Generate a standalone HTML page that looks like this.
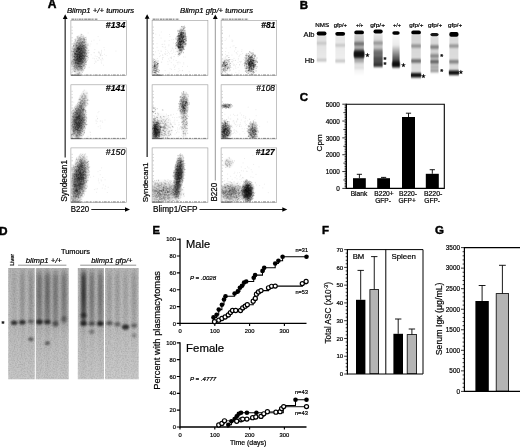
<!DOCTYPE html>
<html><head><meta charset="utf-8"><title>Figure</title>
<style>html,body{margin:0;padding:0;background:#fff}svg{display:block}text{font-family:'Liberation Sans', sans-serif;stroke:#000;stroke-width:0.2px}</style>
</head><body>
<svg width="520" height="448" viewBox="0 0 520 448">
<defs>
<filter id="b1" x="-20%" y="-20%" width="140%" height="140%"><feGaussianBlur stdDeviation="0.7"/></filter>
<filter id="b2" x="-30%" y="-30%" width="160%" height="160%"><feGaussianBlur stdDeviation="1.2"/></filter>
<filter id="b3" x="-30%" y="-30%" width="160%" height="160%"><feGaussianBlur stdDeviation="2"/></filter>
<filter id="b03" x="-5%" y="-5%" width="110%" height="110%"><feGaussianBlur stdDeviation="0.4"/></filter>
<filter id="b07" x="-20%" y="-40%" width="140%" height="180%"><feGaussianBlur stdDeviation="0.65"/></filter>
<filter id="b09" x="-30%" y="-20%" width="160%" height="140%"><feGaussianBlur stdDeviation="0.9"/></filter>
<filter id="b0709" x="-30%" y="-20%" width="160%" height="140%"><feGaussianBlur stdDeviation="0.6 1.0"/></filter>
<filter id="noise" x="0" y="0" width="100%" height="100%"><feTurbulence type="fractalNoise" baseFrequency="0.7" numOctaves="2" seed="3" result="t"/><feColorMatrix type="matrix" values="0 0 0 0 0  0 0 0 0 0  0 0 0 0 0  0.8 0 0 0 -0.3"/></filter>
<filter id="b05" x="-20%" y="-20%" width="140%" height="140%"><feGaussianBlur stdDeviation="0.45"/></filter>
<radialGradient id="gg"><stop offset="0" stop-color="#000" stop-opacity="1"/><stop offset="0.35" stop-color="#000" stop-opacity="0.95"/><stop offset="0.55" stop-color="#000" stop-opacity="0.75"/><stop offset="0.7" stop-color="#000" stop-opacity="0.45"/><stop offset="0.85" stop-color="#000" stop-opacity="0.17"/><stop offset="1" stop-color="#000" stop-opacity="0"/></radialGradient>
</defs>
<rect width="520" height="448" fill="#fff"/>
<text x="47.7" y="8.3" font-size="12" text-anchor="start" fill="#000" font-weight="bold" style="stroke-width:0.45px">A</text>
<text x="66.9" y="13.4" font-size="7.7" text-anchor="start" fill="#000" font-style="italic" textLength="67.3" lengthAdjust="spacingAndGlyphs" >Blimp1 +/+ tumours</text>
<text x="180" y="13.4" font-size="7.7" text-anchor="start" fill="#000" font-style="italic" textLength="73" lengthAdjust="spacingAndGlyphs" >Blimp1 gfp/+ tumours</text>
<rect x="70.9" y="20.6" width="55.599999999999994" height="54.9" fill="#fff" stroke="#9a9a9a" stroke-width="0.6"/>
<clipPath id="cp70_20"><rect x="71.30000000000001" y="21.0" width="54.8" height="54.1"/></clipPath>
<g clip-path="url(#cp70_20)">
<ellipse cx="79.6" cy="55" rx="9.2" ry="21.5" transform="rotate(6 79.6 55)" fill="url(#gg)" opacity="0.46"/>
</g>
<path transform="translate(70.9 20.6)" d="M29.5 39.1h0M33.5 33.7h0M24.3 35.5h0M30.2 33.0h0M32.6 44.6h0M23.6 38.2h0M33.1 27.0h0M29.9 35.3h0M23.6 42.8h0M29.9 34.1h0M30.8 39.5h0M32.1 39.2h0M30.7 30.7h0M27.5 37.0h0M18.3 46.8h0M27.6 31.3h0M22.0 37.6h0M29.2 33.6h0M27.5 32.1h0M26.2 35.9h0M26.6 39.7h0M28.5 37.0h0M30.7 42.6h0M31.4 37.5h0M28.5 32.5h0M27.8 39.7h0M30.0 34.5h0M23.9 28.9h0M30.4 41.4h0M30.6 29.7h0M28.3 37.5h0M25.5 38.1h0M28.3 32.3h0M24.3 40.4h0M30.5 32.1h0M25.1 40.7h0M31.4 34.9h0M35.3 35.0h0M25.0 41.7h0M28.4 38.1h0M15.5 19.6h0M3.5 27.5h0M28.8 19.6h0M28.3 31.5h0M4.3 32.0h0M20.6 20.6h0M4.3 33.7h0M7.2 15.0h0M12.8 31.1h0M9.7 17.9h0M17.2 12.4h0M20.3 34.2h0M31.4 38.0h0M18.6 32.0h0M15.4 16.5h0M29.3 34.5h0M12.3 18.3h0M29.5 34.6h0M3.6 35.9h0M33.5 29.2h0M19.0 25.4h0M9.0 39.8h0M45.0 30.5h0M13.9 37.1h0M12.1 36.5h0M23.1 19.5h0M4.7 28.7h0M23.2 32.1h0M27.2 16.0h0M19.9 23.4h0M16.1 32.5h0M5.7 27.2h0M3.8 32.0h0M6.8 24.6h0M17.2 23.1h0M26.2 23.2h0M23.3 32.1h0M5.1 27.3h0" stroke="#000" stroke-opacity="0.1" stroke-width="0.75" stroke-linecap="square" fill="none" filter="url(#b03)"/>
<path transform="translate(70.9 20.6)" d="M7.3 38.7h0M8.2 31.6h0M5.5 32.2h0M12.4 38.5h0M12.3 36.9h0M10.0 36.1h0M1.8 41.1h0M10.1 38.9h0M4.0 18.8h0M5.8 30.1h0M9.9 34.1h0M11.2 29.1h0M9.5 37.9h0M4.7 48.8h0M9.7 44.9h0M7.1 27.8h0M7.5 33.4h0M10.8 36.8h0M7.9 26.0h0M5.7 44.6h0M5.5 36.2h0M11.6 21.8h0M7.7 45.6h0M1.6 30.9h0M9.0 27.4h0M10.6 34.1h0M2.6 40.9h0M10.3 42.7h0M13.7 38.1h0M10.3 23.3h0M11.5 29.4h0M8.2 23.4h0M5.6 29.5h0M15.3 17.5h0M3.1 35.9h0M13.5 39.9h0M10.7 28.2h0M3.7 42.3h0M12.6 36.2h0M9.2 38.2h0M14.0 40.3h0M10.1 39.3h0M1.8 44.8h0M11.7 39.3h0M2.0 28.2h0M13.4 19.2h0M7.1 43.0h0M2.4 47.7h0M10.9 33.3h0M9.3 40.1h0M8.1 44.2h0M6.6 30.6h0M12.5 35.0h0M4.6 42.2h0M14.5 31.2h0M3.7 32.7h0M8.4 31.8h0M14.8 26.2h0M14.5 24.0h0M5.2 39.5h0M12.1 42.2h0M9.8 35.8h0M8.7 39.4h0M7.8 36.7h0M10.8 34.6h0M11.0 39.5h0M15.8 38.0h0M7.5 31.0h0M7.8 42.3h0M7.1 37.6h0M4.3 36.1h0M10.0 36.6h0M6.5 39.8h0M10.2 30.0h0M17.3 38.4h0M6.7 33.3h0M7.9 33.8h0M13.5 24.8h0M7.6 42.5h0M10.5 47.5h0M2.8 30.7h0M6.9 39.6h0M14.0 22.4h0M12.6 21.9h0M8.3 44.7h0M8.0 36.0h0M11.5 35.9h0M7.0 47.5h0M12.8 32.3h0M12.3 32.5h0M8.6 40.5h0M8.9 39.9h0M4.4 20.9h0M11.8 26.4h0M6.2 21.4h0M12.7 41.3h0M15.0 26.9h0M9.7 24.6h0M10.1 48.3h0M4.0 47.4h0M12.5 33.3h0M8.9 29.2h0M9.8 38.1h0M15.1 26.3h0M11.5 47.6h0M14.2 33.4h0M5.0 42.8h0M9.0 35.5h0M14.2 32.7h0M0.6 30.2h0M1.1 40.7h0M10.4 29.3h0M7.9 41.5h0M7.8 45.8h0M7.5 43.3h0M12.7 48.7h0M5.4 41.7h0M2.8 24.4h0M0.5 42.8h0M4.2 33.8h0M8.0 34.1h0M6.3 36.2h0M15.3 35.5h0M9.8 43.2h0M9.1 23.5h0M5.7 43.4h0M3.2 28.7h0M11.7 41.6h0M8.0 41.3h0M10.4 24.4h0M3.5 28.3h0M12.6 29.9h0M6.1 27.5h0M3.2 32.8h0M4.0 37.1h0M8.1 17.5h0M11.6 32.3h0M1.3 26.1h0M10.2 30.6h0M10.9 41.1h0M10.9 37.5h0M13.0 40.6h0M12.2 16.8h0M10.8 45.9h0M8.0 30.3h0M4.7 39.9h0M15.7 34.1h0M10.0 42.3h0M5.4 33.3h0M9.0 41.6h0M8.7 32.7h0M5.3 30.9h0M11.9 35.6h0M6.3 26.9h0M10.6 38.8h0M14.5 38.7h0M8.0 38.8h0M0.6 42.5h0M10.5 28.5h0M12.0 50.4h0M4.1 28.2h0M9.6 36.1h0M8.1 25.9h0M15.6 44.1h0M5.5 22.4h0M14.1 43.5h0M14.7 42.0h0M5.3 36.3h0M1.4 27.2h0M8.0 38.8h0M6.1 33.1h0M10.0 37.8h0M10.9 36.4h0M6.8 41.0h0M9.6 27.4h0M6.4 34.2h0M8.2 35.7h0M8.5 35.9h0M9.3 23.6h0M9.3 43.6h0M10.5 32.9h0M11.2 26.3h0M1.7 34.2h0M4.6 40.4h0M3.5 47.5h0M8.5 22.5h0M5.4 38.6h0M10.4 36.1h0M13.5 41.0h0M8.1 39.5h0M13.9 43.3h0M13.4 25.5h0M7.5 40.6h0M6.6 43.4h0M10.1 42.4h0M13.5 33.0h0M6.7 41.7h0M12.3 34.8h0M4.2 35.6h0M9.0 44.2h0M11.6 34.9h0M11.4 39.3h0M9.4 35.0h0M7.2 40.2h0M5.4 28.6h0M10.0 21.9h0M8.9 17.1h0M5.7 39.0h0M10.8 34.2h0M9.1 22.2h0M15.0 39.5h0M13.5 27.3h0M9.7 18.8h0M10.7 42.7h0M1.8 33.2h0M12.6 19.6h0M2.9 24.6h0M7.6 22.2h0M8.6 36.5h0M10.4 40.6h0M13.2 44.9h0M4.3 29.6h0M5.8 24.8h0M8.4 34.4h0M11.9 21.0h0M4.2 33.7h0M8.2 31.7h0M9.2 27.9h0M11.0 37.7h0M9.0 28.6h0M5.1 34.3h0M3.0 35.5h0M10.5 22.7h0M8.1 31.6h0M9.8 39.8h0M9.3 27.1h0M8.2 33.8h0M11.1 37.2h0M7.3 22.5h0M8.0 27.9h0M4.7 33.0h0M6.8 35.1h0M11.0 31.1h0M17.5 32.5h0M12.6 35.9h0M5.7 36.2h0M8.7 45.5h0M10.7 42.8h0M10.7 33.3h0M11.5 25.4h0M14.0 26.2h0M7.7 52.6h0M7.9 34.5h0M13.0 35.1h0M5.5 36.3h0M10.2 40.7h0M4.3 49.1h0M14.8 35.2h0M10.1 30.8h0M14.5 28.9h0M11.6 30.6h0M5.5 40.3h0M13.6 34.8h0M5.5 41.1h0M8.2 37.0h0M13.3 44.7h0M4.7 53.7h0M8.0 41.1h0M6.4 33.8h0M14.8 24.5h0M4.6 20.0h0M13.4 30.9h0M8.8 31.7h0M9.2 25.0h0M10.1 22.1h0M8.2 37.0h0M10.6 32.6h0M5.2 35.4h0M5.5 47.6h0M11.6 33.7h0M7.6 28.2h0M5.6 31.0h0M9.3 38.9h0M8.9 52.6h0M6.1 34.2h0M6.6 35.6h0M8.9 37.9h0M7.5 37.4h0M8.2 41.0h0M2.5 26.1h0M9.6 25.6h0M4.3 39.4h0M5.7 39.6h0M11.2 37.3h0M10.7 33.7h0M3.5 33.6h0M10.8 30.0h0M7.7 40.8h0M4.9 39.5h0M16.1 30.4h0M9.4 33.2h0M14.1 37.7h0M12.6 28.8h0M8.6 34.3h0M0.9 46.0h0M13.6 19.8h0M11.6 33.6h0M10.0 37.7h0M3.4 32.0h0M14.7 30.1h0M6.2 22.4h0M3.9 36.8h0M14.5 38.7h0M7.6 53.6h0M7.4 28.4h0M10.2 39.3h0M6.0 24.0h0M9.5 36.6h0M4.1 32.2h0M6.3 38.1h0M8.3 33.6h0M6.5 43.3h0M14.1 31.8h0M12.5 28.2h0M8.3 40.8h0M14.6 31.7h0M8.3 36.1h0M3.2 34.0h0M5.9 37.3h0M6.3 17.1h0M8.6 36.6h0M5.9 41.8h0M8.2 29.1h0M11.9 21.2h0M6.2 34.0h0M12.0 33.3h0M10.4 28.9h0M8.3 48.7h0M4.0 54.4h0M6.3 34.3h0M8.4 43.2h0M6.0 16.0h0M10.2 41.4h0M9.2 36.7h0M11.8 37.9h0M15.9 24.5h0M12.0 31.5h0M10.2 53.2h0M8.9 32.2h0M7.6 27.0h0M5.8 39.6h0M8.8 35.0h0M7.2 42.2h0M10.6 33.4h0M11.3 33.4h0M3.1 46.4h0M11.3 26.4h0M12.4 37.8h0M1.5 47.6h0M9.1 42.2h0M9.6 33.2h0M2.1 42.1h0M9.1 32.0h0M9.9 35.2h0M11.5 31.5h0M10.5 16.1h0M6.5 40.0h0M13.9 31.8h0M6.8 47.9h0M6.8 40.6h0M14.8 35.4h0M13.9 28.8h0M9.5 33.8h0M8.1 44.1h0M18.1 29.6h0M6.1 38.4h0M4.4 38.2h0M11.1 32.2h0M12.0 21.4h0M12.9 21.5h0M6.6 29.4h0M6.5 41.6h0M9.4 31.0h0M9.3 48.1h0M8.4 37.5h0M13.0 37.2h0M8.2 38.0h0M11.7 40.5h0M8.6 25.3h0M8.1 43.3h0M5.6 25.2h0M10.4 17.8h0M8.1 30.6h0M11.0 28.6h0M5.8 30.7h0M9.1 28.7h0M8.1 40.8h0M11.5 49.4h0M6.2 30.5h0M6.1 33.8h0M11.8 23.0h0M10.4 34.4h0M1.7 36.2h0M14.8 18.9h0M11.5 36.5h0M10.1 38.4h0M13.7 33.0h0M12.3 31.2h0M12.1 27.7h0M6.7 49.2h0M10.5 33.2h0M5.2 27.2h0M8.6 42.5h0M9.8 39.0h0M7.3 45.9h0M7.8 29.5h0M11.9 35.3h0M8.2 29.4h0M7.2 39.6h0M11.1 24.2h0M10.1 36.1h0M4.3 40.6h0M8.0 31.4h0M10.4 46.0h0M5.8 37.9h0M3.4 53.9h0M5.8 44.4h0M5.6 41.1h0M6.7 38.5h0M9.0 28.6h0M16.5 35.9h0M1.9 41.1h0M1.3 43.6h0M6.4 35.4h0M13.2 35.9h0M5.1 19.4h0M12.4 41.2h0M4.9 41.4h0M9.9 40.1h0M0.7 30.9h0M11.4 41.0h0M8.9 38.7h0M7.5 34.6h0M12.4 31.0h0M13.6 28.1h0M10.2 30.0h0M9.9 28.6h0M1.8 43.1h0M10.3 29.7h0M8.5 42.9h0M5.2 33.1h0M10.2 39.1h0M9.4 16.2h0M13.0 37.7h0M9.0 32.0h0M10.1 30.9h0M5.6 27.7h0M7.1 28.9h0M3.9 39.4h0M3.3 39.5h0M4.6 37.0h0M13.6 36.7h0M6.0 34.5h0M10.8 19.6h0M6.3 35.6h0M6.9 34.9h0M10.7 41.2h0M11.5 39.8h0M7.7 34.1h0M8.0 31.6h0M9.6 19.6h0M7.5 34.1h0M5.1 33.8h0M10.7 33.2h0M9.6 18.7h0M10.9 32.0h0M12.7 15.4h0M11.5 37.9h0M9.3 29.4h0M11.5 30.5h0M10.0 30.1h0M8.8 40.9h0M5.5 33.8h0M10.8 35.9h0M11.5 51.9h0M7.1 17.6h0M10.5 47.8h0M11.4 41.7h0M7.1 28.1h0M12.8 26.9h0M2.9 25.2h0M6.8 27.9h0M10.2 28.1h0M13.6 34.2h0M3.5 45.2h0M6.4 36.1h0M8.9 31.7h0M10.5 28.6h0M4.7 27.4h0M8.6 34.9h0M10.6 35.6h0M6.4 28.0h0M1.1 32.1h0M10.0 39.1h0M8.4 32.9h0M12.1 34.9h0M10.9 39.7h0M8.3 45.7h0M6.9 31.1h0M6.4 27.3h0M12.8 50.0h0M8.3 39.3h0M12.3 41.8h0M14.3 24.1h0M5.9 38.0h0M13.9 35.8h0M5.9 31.0h0M7.0 26.8h0M14.8 29.6h0M6.8 52.9h0M12.8 37.7h0M6.1 37.7h0M14.1 40.4h0M13.3 35.7h0M10.8 32.9h0M9.1 45.7h0M3.5 33.3h0M10.1 29.6h0M6.9 41.0h0M15.5 40.6h0M11.3 21.3h0M15.7 35.8h0M9.6 24.8h0M9.5 25.0h0M8.5 38.4h0M8.6 36.8h0M4.3 46.3h0M7.9 18.6h0M8.7 27.8h0M5.3 31.0h0M10.8 24.4h0M6.9 46.5h0M11.3 33.4h0M9.3 33.4h0M7.9 40.6h0M10.5 13.8h0M9.4 26.8h0M11.6 29.4h0M7.3 53.1h0M5.9 24.4h0M1.5 36.8h0M8.0 18.2h0M2.7 39.1h0M6.2 31.0h0M8.7 46.1h0M14.9 44.0h0M9.1 36.0h0M14.0 47.3h0M7.1 38.2h0M9.7 35.0h0M8.1 22.9h0M8.1 21.0h0M12.7 39.5h0M3.0 45.9h0M13.7 18.4h0M14.7 42.0h0M17.4 24.7h0M10.3 38.2h0M9.3 35.9h0M13.9 22.0h0M5.4 22.0h0M7.2 29.0h0M9.8 36.8h0M9.4 28.6h0M6.2 42.4h0M11.4 35.6h0M6.1 47.6h0M5.9 39.7h0M13.2 32.6h0M12.7 25.2h0M12.2 36.5h0M2.3 39.5h0M4.3 45.0h0M6.3 32.7h0M10.0 31.7h0M10.2 29.8h0M11.2 34.7h0M12.9 35.1h0M2.1 34.5h0M9.5 43.7h0M3.3 47.2h0M7.6 40.2h0M8.4 24.7h0M11.9 42.6h0M13.6 42.3h0M8.1 20.0h0M6.9 28.4h0M5.2 39.1h0M10.1 32.2h0M9.5 33.2h0M8.8 40.9h0M12.8 28.9h0M1.9 46.0h0M8.1 43.9h0M3.0 30.9h0M10.1 22.1h0M6.2 40.4h0M11.2 48.5h0M6.8 22.1h0M9.8 42.6h0M10.6 23.3h0M10.9 41.5h0M11.2 30.4h0M9.1 41.3h0M8.3 18.4h0M9.5 38.6h0M8.0 42.0h0M6.6 33.5h0M7.1 39.2h0M14.8 32.9h0M11.1 39.7h0M15.4 33.5h0M9.2 25.3h0M9.2 46.1h0M10.3 38.2h0M7.8 35.8h0M2.5 42.8h0M8.2 24.8h0M6.7 27.1h0M10.9 43.8h0M2.9 41.8h0M12.5 29.8h0M3.9 27.4h0M6.1 37.1h0M9.2 16.9h0M10.9 21.4h0M13.1 24.4h0M6.9 26.8h0M5.5 45.3h0M11.3 39.9h0M11.3 21.3h0M7.3 29.5h0M4.6 38.4h0M6.6 28.0h0M6.7 16.4h0M9.7 46.0h0M10.2 26.1h0M12.9 37.4h0M10.8 47.4h0M13.2 31.1h0M11.9 41.4h0M3.4 30.3h0M3.6 32.9h0M11.8 25.5h0M8.8 47.1h0M2.9 43.0h0M7.7 36.6h0M7.2 42.9h0M12.4 35.5h0M3.0 40.2h0M6.4 39.6h0M8.2 48.4h0M13.3 31.0h0M8.4 49.6h0M6.3 37.9h0M12.0 45.6h0M11.8 23.3h0M3.8 36.0h0M4.5 43.8h0M13.0 20.4h0M5.5 35.5h0M7.0 32.9h0M11.2 27.7h0M11.0 29.1h0M6.2 38.8h0M6.3 36.6h0M14.6 35.3h0M7.5 40.6h0M6.4 43.5h0M3.4 39.2h0M7.5 27.4h0M16.0 27.8h0M14.6 40.7h0M14.9 26.6h0M11.8 47.3h0M8.4 33.3h0M17.6 36.9h0M7.7 28.8h0M10.0 37.4h0M7.8 49.2h0M7.1 38.3h0M15.0 26.4h0M10.9 50.5h0M4.7 24.5h0M6.5 18.2h0M12.0 18.7h0M9.2 47.0h0M3.0 31.1h0M0.9 40.3h0M6.2 31.8h0M8.4 39.1h0M7.4 34.4h0M6.6 35.2h0M4.3 34.5h0M2.0 29.5h0M15.7 35.8h0M3.8 36.1h0M6.6 19.9h0M5.3 40.4h0M10.2 33.7h0M6.3 24.8h0M13.4 37.0h0M7.1 16.0h0M4.5 33.3h0M9.6 33.1h0M8.9 22.5h0M3.3 48.4h0M5.2 41.3h0M2.7 31.4h0M8.7 43.4h0M4.0 39.1h0M10.8 28.2h0M11.3 26.9h0M5.8 33.9h0M6.3 21.5h0M6.5 40.8h0M6.1 45.1h0M5.6 22.7h0M14.0 38.4h0M12.9 27.7h0M11.4 36.9h0M11.1 34.9h0M13.7 29.3h0M6.5 21.4h0M13.6 28.5h0M5.7 26.0h0M8.2 23.4h0M8.2 28.9h0M7.5 26.0h0M9.2 30.5h0M8.9 36.6h0M11.9 15.8h0M7.4 27.4h0M13.0 21.2h0M6.3 31.6h0M6.6 42.7h0M6.2 42.5h0M4.9 18.3h0M12.8 38.6h0M10.4 35.6h0M11.6 24.2h0M12.7 30.2h0M12.2 35.5h0M2.6 22.6h0M13.0 33.7h0M7.0 36.3h0M7.6 29.6h0M8.9 35.7h0M14.2 35.4h0M14.1 44.1h0M9.1 35.6h0M8.8 28.1h0M9.0 28.9h0M14.3 39.6h0M8.8 17.8h0M8.9 30.8h0M5.7 24.3h0M8.7 33.1h0M13.9 36.1h0M9.6 31.3h0M5.1 47.0h0M10.8 49.5h0M7.4 34.5h0M4.6 42.3h0M3.1 38.7h0M11.5 46.9h0M4.3 43.4h0M6.8 27.6h0M2.8 43.8h0M15.3 30.0h0M6.2 31.2h0M8.3 18.8h0M5.2 44.3h0M15.8 32.8h0M6.6 29.8h0M0.9 41.4h0M3.7 43.1h0M3.6 22.9h0M10.4 28.0h0M11.6 34.8h0M3.8 39.3h0M13.5 18.4h0M15.0 39.4h0M13.2 18.8h0M6.4 31.1h0M14.0 22.3h0M7.3 16.7h0M7.5 37.3h0M3.0 28.7h0M9.2 48.2h0M11.4 32.1h0M5.2 25.9h0M6.1 35.4h0M7.0 48.6h0M10.7 25.3h0M13.5 43.1h0M9.7 28.3h0M2.7 24.9h0M12.8 27.9h0M3.7 35.6h0M9.1 39.7h0M9.8 46.7h0M4.7 42.4h0M4.4 40.0h0M9.1 36.5h0M12.3 34.6h0M12.0 42.3h0M9.7 29.6h0M6.4 29.6h0M8.0 34.1h0M12.3 27.3h0M6.4 31.4h0M10.3 25.6h0M15.1 30.2h0M8.4 36.8h0M8.9 39.6h0M9.6 35.9h0M2.4 27.6h0M10.0 32.8h0M6.2 29.1h0M7.3 45.4h0M7.7 26.7h0M6.5 35.8h0M8.6 36.8h0M7.7 42.3h0M16.4 24.5h0M9.5 32.2h0M11.4 21.4h0M10.5 36.2h0M11.1 14.2h0M8.0 27.8h0M4.3 26.0h0M10.8 39.3h0M8.2 38.8h0M6.4 34.8h0M8.3 39.2h0M8.6 33.1h0M8.8 28.8h0M16.5 39.7h0M8.2 54.2h0M15.3 21.6h0M10.5 41.8h0M14.5 46.4h0M12.6 24.6h0M5.3 36.4h0M11.5 25.9h0M7.6 30.8h0M8.6 37.3h0M8.8 23.7h0M11.8 48.5h0M7.4 43.1h0M9.7 40.2h0M11.2 28.1h0M9.9 43.3h0M3.6 50.9h0M15.4 41.5h0M8.0 29.1h0M5.6 35.1h0M8.0 40.1h0M17.1 35.0h0M10.8 38.7h0M9.9 32.7h0M9.0 27.3h0M9.4 34.3h0M10.6 27.2h0M8.8 34.8h0M11.9 25.5h0M9.4 43.0h0M11.2 31.5h0M7.1 32.2h0M10.0 48.0h0M8.7 28.8h0M9.9 36.3h0M6.0 27.7h0M7.7 40.1h0M5.2 25.2h0M11.6 24.1h0M8.8 37.5h0M9.2 25.6h0M8.8 31.5h0M10.7 27.4h0M14.2 20.5h0M8.0 34.4h0M12.8 29.6h0M11.2 29.8h0M9.9 49.5h0M6.8 38.0h0M4.4 42.4h0M13.1 35.2h0M4.2 37.4h0M11.9 44.2h0M13.3 19.1h0M4.9 46.3h0M3.2 43.6h0M14.9 41.6h0M13.1 32.0h0M4.3 33.0h0M8.0 33.9h0M11.4 33.4h0M9.0 38.1h0M7.0 50.2h0M10.3 35.3h0M8.5 29.0h0M13.5 36.2h0M5.2 29.2h0M8.6 30.5h0M13.7 24.9h0M10.4 35.8h0M4.3 34.4h0M7.9 38.7h0M6.8 36.8h0M3.5 24.5h0M10.7 43.6h0M9.2 29.3h0M14.6 16.9h0M5.2 39.8h0M12.0 25.8h0M10.1 26.8h0M8.1 42.1h0M13.3 16.9h0M13.1 19.5h0M12.5 38.2h0M17.5 30.0h0M7.8 43.4h0M7.0 28.1h0M7.4 33.6h0M4.3 38.1h0M10.6 35.2h0M15.3 32.3h0M14.0 30.2h0M13.2 18.1h0M9.6 33.0h0M7.4 29.0h0M8.1 28.1h0M1.2 28.5h0M7.1 29.7h0M4.9 32.8h0M11.8 32.6h0M5.7 45.8h0M11.5 42.7h0M13.2 32.0h0M7.2 43.9h0M6.8 33.2h0M9.8 37.7h0M6.8 42.7h0M7.4 40.5h0M12.0 40.5h0M12.4 24.8h0M4.4 28.6h0M9.1 47.4h0M3.9 36.5h0M6.2 27.8h0M7.1 40.2h0M8.4 44.6h0M4.3 41.6h0M12.1 35.4h0M11.0 29.8h0M5.1 30.5h0M5.4 48.3h0M9.2 37.1h0M12.1 28.0h0M11.7 38.0h0M2.6 39.0h0M10.3 38.5h0M14.9 31.5h0M9.9 41.0h0M4.3 44.3h0M4.5 22.7h0M11.6 25.3h0M9.8 20.3h0M10.0 24.7h0M11.3 21.4h0M10.6 32.3h0M9.0 33.8h0M10.4 23.1h0M5.7 30.2h0M12.1 17.6h0M6.4 28.9h0M4.5 36.8h0M8.9 27.3h0M4.4 40.9h0M5.7 39.1h0M12.1 18.4h0M4.7 34.0h0M9.3 41.2h0M10.7 43.6h0M7.5 32.5h0M11.9 31.1h0M14.0 21.2h0M11.3 33.2h0M0.6 42.0h0M9.8 34.7h0M5.2 30.0h0M15.0 27.9h0M4.4 32.8h0M8.1 26.4h0M4.7 43.0h0M1.6 50.6h0M7.7 24.8h0M11.1 39.5h0M4.2 40.4h0M2.8 25.8h0M13.1 32.6h0M3.4 38.3h0M12.1 34.6h0M2.4 30.7h0M9.5 41.1h0M15.7 33.0h0M7.0 33.9h0M14.0 26.8h0M12.2 28.9h0M9.8 40.5h0M4.4 33.2h0M9.1 39.5h0M6.2 25.6h0M8.2 32.4h0M2.4 41.8h0M5.4 46.5h0M11.8 34.9h0M12.4 25.2h0M8.0 29.3h0M4.0 34.1h0M6.9 46.6h0M5.7 30.1h0M9.9 38.0h0M9.2 30.4h0M10.2 37.7h0M2.2 31.4h0M4.7 23.8h0M9.2 35.0h0M9.9 27.0h0M8.8 26.5h0M9.5 40.4h0M14.0 45.9h0M6.1 30.2h0M5.0 36.7h0M15.4 41.2h0M3.5 38.3h0M8.4 37.0h0M16.0 28.0h0M3.8 50.9h0M10.7 27.9h0M8.0 42.9h0M8.8 28.4h0M4.3 50.4h0M2.0 35.2h0M8.2 39.7h0M6.8 38.5h0M11.8 33.5h0M7.2 32.6h0M5.3 32.3h0M7.4 36.1h0M12.4 46.1h0M6.5 39.4h0M9.1 41.0h0M8.5 36.7h0M7.7 27.5h0M10.7 45.8h0M10.7 38.4h0M10.1 30.7h0M1.5 39.4h0M9.9 29.7h0M4.0 45.0h0M6.1 33.9h0M6.7 35.5h0M8.6 27.9h0M13.4 28.1h0M6.3 38.9h0M7.1 30.5h0M10.3 31.4h0M4.2 33.0h0M6.4 48.9h0M3.8 42.3h0M6.1 31.1h0M7.3 36.6h0M10.3 49.7h0M5.2 45.5h0M11.6 41.7h0M5.1 41.8h0M8.0 37.4h0M7.1 40.0h0M11.8 44.5h0M7.0 42.8h0M14.9 27.0h0M15.3 23.5h0M10.2 39.7h0M13.9 37.4h0M7.6 27.4h0M3.4 40.5h0M8.5 28.2h0M11.3 28.1h0M7.5 30.3h0M13.5 47.6h0M9.5 20.9h0M9.7 35.1h0M9.5 39.4h0M6.7 42.2h0M11.6 36.5h0M7.6 30.1h0M12.2 25.3h0M8.8 27.9h0M3.0 39.0h0M8.6 34.7h0M13.3 22.0h0M8.2 36.8h0M12.7 25.4h0M11.1 36.6h0M12.7 44.7h0M8.8 53.0h0M9.1 30.8h0M8.3 26.2h0M10.3 18.3h0M8.0 38.0h0M12.7 31.8h0M14.4 29.4h0M9.9 18.3h0M6.6 27.3h0M13.6 39.4h0M4.3 38.4h0M10.6 32.6h0M9.1 31.9h0M8.3 19.4h0M7.2 45.1h0M14.1 32.6h0M6.2 32.4h0M11.6 37.7h0M6.3 37.2h0M7.5 38.6h0M8.5 22.0h0M8.2 40.8h0M4.8 33.1h0M12.2 31.6h0M4.6 51.1h0M10.8 43.3h0M3.9 47.6h0M3.2 29.5h0M10.2 45.8h0M6.0 28.5h0M11.1 18.4h0M10.5 39.3h0M6.6 38.7h0M11.2 37.3h0M9.2 47.2h0M6.9 35.6h0M5.9 42.8h0M6.8 38.2h0M9.1 35.0h0M14.9 34.3h0M13.0 41.8h0M13.5 33.5h0M11.3 41.0h0M6.3 36.4h0M8.3 34.1h0M14.0 28.9h0M4.2 19.4h0M7.7 28.9h0M8.3 39.1h0M14.7 37.6h0M11.0 28.5h0M9.6 45.8h0M15.2 18.8h0M10.5 47.8h0M12.9 22.4h0M7.1 39.1h0M10.9 27.9h0M4.7 42.0h0M2.7 45.7h0M8.5 36.9h0M4.5 29.0h0M12.4 22.5h0M17.2 23.6h0M4.3 34.3h0M9.8 40.6h0M7.6 32.6h0M8.4 29.6h0M9.5 35.8h0M6.3 36.2h0M8.7 33.8h0M14.1 20.7h0M10.5 25.7h0M6.3 46.6h0M5.0 33.2h0M5.8 42.0h0M6.7 20.2h0M10.8 31.7h0M6.6 43.2h0M5.9 31.0h0M8.9 37.9h0M6.0 42.7h0M17.0 31.9h0M14.0 32.1h0M9.5 31.7h0M7.6 23.7h0M6.2 44.9h0M13.0 32.0h0M7.4 28.4h0M2.9 48.8h0M10.9 35.6h0M7.8 25.8h0M12.7 41.3h0M4.5 42.2h0M4.2 39.3h0M5.7 30.6h0M10.1 38.1h0M13.0 27.9h0M13.1 46.0h0M8.3 38.2h0M6.1 32.9h0M4.0 34.6h0M8.2 45.5h0M11.3 41.4h0M7.6 32.4h0M7.3 36.1h0M1.2 40.0h0M3.6 29.6h0M9.2 30.2h0M14.7 34.2h0M13.2 44.6h0M6.6 37.5h0M13.6 32.1h0M9.5 29.9h0M9.2 31.5h0M8.1 42.7h0M13.5 36.0h0M8.7 41.5h0M8.6 25.6h0M13.4 27.1h0M12.8 26.8h0M16.1 26.5h0M10.4 47.0h0M4.0 46.2h0M7.3 19.6h0M10.6 40.4h0M10.2 13.6h0M8.8 31.9h0M7.6 31.9h0M2.9 29.1h0M13.7 47.8h0M8.0 28.4h0M9.2 43.3h0M12.3 25.1h0M9.2 35.6h0M12.7 44.8h0M9.5 44.6h0M6.0 46.9h0M6.9 37.5h0M12.7 27.2h0M7.7 19.7h0M9.3 34.0h0M7.1 38.4h0M1.2 33.4h0M9.2 32.2h0M10.0 49.1h0M7.9 26.5h0M6.5 34.9h0M11.5 27.5h0M13.1 26.4h0M11.3 38.2h0M8.5 52.3h0M7.9 32.9h0M9.6 41.7h0M3.7 36.2h0M5.5 39.3h0M13.5 35.3h0M8.2 35.9h0M10.5 36.0h0M7.9 28.3h0M7.0 44.3h0M7.2 45.4h0M9.7 34.4h0M3.4 28.3h0M14.2 24.3h0M6.1 25.0h0M6.2 39.5h0M12.6 18.0h0M14.4 30.1h0M5.2 47.9h0M9.5 24.2h0M7.1 28.2h0M5.4 31.3h0M11.5 37.6h0M5.1 35.0h0M8.2 40.7h0M7.1 38.0h0M16.1 36.0h0M4.6 36.7h0M6.2 31.1h0M9.1 37.2h0M7.0 41.3h0M9.1 23.6h0M12.1 31.7h0M13.5 29.5h0M10.5 37.2h0M3.5 45.5h0M1.2 41.2h0M12.1 38.9h0M11.5 30.6h0M8.5 36.2h0M9.6 40.4h0M8.6 28.6h0M6.4 37.6h0M3.9 23.5h0M7.7 29.7h0M7.7 32.2h0M13.2 18.4h0M7.2 38.2h0M9.4 44.4h0M13.3 26.2h0M11.2 31.9h0M4.5 46.7h0M7.2 27.1h0M8.0 27.2h0M11.9 37.9h0M13.3 38.3h0M5.6 42.8h0M6.8 30.4h0M8.1 34.7h0M13.5 29.9h0M10.0 34.3h0M5.2 24.9h0M7.6 37.6h0M9.4 38.5h0M9.3 30.7h0M11.1 26.3h0M4.2 31.2h0M4.1 29.6h0M6.5 29.6h0M9.2 27.8h0M8.7 20.1h0M10.0 27.2h0M5.6 36.1h0M8.9 35.3h0M3.2 35.7h0M10.1 26.4h0M11.4 34.3h0M9.2 30.7h0M10.6 35.4h0M12.3 38.6h0M6.7 32.3h0M12.3 31.7h0M9.6 38.9h0M10.1 15.1h0M9.0 36.2h0M9.8 28.2h0M13.1 33.7h0M7.1 28.2h0M10.9 25.5h0M3.4 50.6h0M12.4 43.6h0M13.0 39.8h0M1.7 43.7h0M12.7 38.9h0M0.7 44.0h0M14.0 30.8h0M8.5 40.9h0M7.4 43.5h0M8.4 40.2h0M10.3 22.2h0M8.6 45.4h0M11.3 49.0h0M11.2 29.7h0M10.4 18.5h0M7.2 41.8h0M0.8 35.2h0M10.5 45.7h0M6.0 28.6h0M2.9 25.2h0M8.8 51.8h0M3.4 45.4h0M10.7 30.5h0M8.3 36.2h0M16.7 36.4h0M11.0 46.1h0M10.2 37.6h0M8.4 30.9h0M2.6 50.1h0M8.9 16.9h0M9.7 34.2h0M7.7 49.6h0M8.6 32.2h0M6.0 33.9h0M7.0 35.9h0M3.9 50.1h0M11.1 41.5h0M10.5 41.5h0M9.9 46.4h0M11.1 46.0h0M6.9 34.2h0M5.3 42.1h0M12.1 30.8h0M14.1 25.6h0M7.8 39.7h0M8.2 37.6h0M12.6 37.6h0M4.1 39.9h0M8.3 35.3h0M7.9 22.7h0M4.5 31.0h0M13.8 25.2h0M5.6 38.6h0M5.4 39.6h0M6.7 36.8h0M9.1 34.4h0M3.4 21.5h0M7.3 46.1h0M6.3 38.6h0M8.9 38.5h0M13.6 22.3h0M9.8 33.0h0M8.3 27.2h0M6.8 25.5h0M14.8 35.1h0M12.2 26.5h0M7.9 46.4h0M9.4 26.0h0M8.7 26.0h0M3.9 31.9h0M8.0 27.5h0M6.3 26.3h0M8.3 46.1h0M6.0 53.0h0M2.7 36.1h0M4.7 32.6h0" stroke="#000" stroke-opacity="0.2" stroke-width="0.75" stroke-linecap="square" fill="none" filter="url(#b03)"/>
<line x1="71.4" y1="75.0" x2="126.0" y2="75.0" stroke="#777" stroke-width="0.9" stroke-dasharray="2 1.3 0.8 0.9 3 1.1"/>
<line x1="70.9" y1="75.2" x2="80.9" y2="75.2" stroke="#444" stroke-width="1" opacity="0.7"/>
<line x1="72.10000000000001" y1="26.6" x2="72.10000000000001" y2="74.5" stroke="#aaa" stroke-width="0.6" stroke-dasharray="1 2.3 0.8 1.9 1.5 3.1"/>
<text x="105.8" y="27.8" font-size="8.3" text-anchor="start" fill="#000" font-weight="bold" font-style="italic" textLength="19.5" lengthAdjust="spacingAndGlyphs" >#134</text>
<rect x="70.9" y="84.8" width="55.599999999999994" height="54.10000000000001" fill="#fff" stroke="#9a9a9a" stroke-width="0.6"/>
<clipPath id="cp70_84"><rect x="71.30000000000001" y="85.2" width="54.8" height="53.30000000000001"/></clipPath>
<g clip-path="url(#cp70_84)">
<ellipse cx="78.2" cy="122" rx="9.2" ry="20.0" transform="rotate(5 78.2 122)" fill="url(#gg)" opacity="0.46"/>
<ellipse cx="82.4" cy="103.5" rx="6.0" ry="15.0" transform="rotate(14 82.4 103.5)" fill="url(#gg)" opacity="0.17"/>
</g>
<path transform="translate(70.9 84.8)" d="M25.4 38.5h0M28.0 26.8h0M26.7 34.0h0M26.6 33.5h0M27.1 27.9h0M31.7 37.5h0M29.9 36.2h0M29.3 36.2h0M25.9 31.4h0M29.3 41.1h0M29.8 43.4h0M25.1 36.2h0M27.3 41.9h0M34.1 35.2h0M31.3 36.3h0M26.2 36.8h0M0.9 50.0h0M13.7 46.6h0M11.9 12.1h0M15.4 36.1h0M17.1 51.6h0M1.1 42.8h0M11.7 33.6h0M6.9 40.3h0M13.6 41.5h0M5.9 22.6h0M19.5 47.7h0M4.7 34.9h0M15.5 18.4h0M11.2 28.5h0M25.2 35.3h0M10.8 31.2h0M10.5 18.1h0M16.2 34.4h0M18.2 15.7h0M4.4 49.2h0M2.9 17.4h0M3.2 31.9h0M9.0 47.7h0M19.6 50.1h0M13.7 30.4h0M5.2 21.1h0M19.1 47.2h0M9.8 26.7h0M14.4 39.9h0" stroke="#000" stroke-opacity="0.1" stroke-width="0.75" stroke-linecap="square" fill="none" filter="url(#b03)"/>
<path transform="translate(70.9 84.8)" d="M4.6 34.1h0M5.1 51.2h0M4.7 49.2h0M9.8 27.2h0M10.7 40.5h0M6.7 35.2h0M8.4 34.9h0M5.6 34.2h0M11.9 32.8h0M9.4 28.4h0M5.7 26.4h0M6.1 42.4h0M8.7 33.5h0M9.7 34.7h0M8.4 39.4h0M10.9 18.3h0M2.1 42.8h0M6.8 32.9h0M12.3 42.0h0M13.7 41.7h0M6.1 42.7h0M4.8 33.5h0M5.5 35.3h0M10.4 33.7h0M8.8 33.5h0M6.4 38.4h0M2.8 44.7h0M7.2 47.1h0M10.3 42.4h0M7.5 28.8h0M6.8 33.6h0M8.5 33.7h0M11.8 33.9h0M5.8 44.3h0M8.1 27.9h0M8.9 35.8h0M4.0 31.1h0M8.8 39.7h0M9.2 32.6h0M8.2 36.3h0M1.0 52.7h0M6.8 35.0h0M4.6 44.6h0M6.3 50.3h0M9.0 50.1h0M6.6 40.0h0M5.9 35.8h0M1.5 32.2h0M4.4 31.9h0M11.4 39.6h0M11.1 44.2h0M9.9 45.2h0M4.6 43.2h0M6.5 33.0h0M2.7 50.2h0M10.8 30.9h0M8.0 40.1h0M8.9 34.6h0M2.7 37.0h0M9.8 43.5h0M8.9 45.9h0M3.8 36.6h0M7.8 45.0h0M7.5 41.2h0M6.4 53.4h0M15.9 39.8h0M0.7 37.7h0M2.7 31.5h0M6.9 50.4h0M8.5 42.5h0M10.8 39.1h0M4.3 36.2h0M8.7 35.2h0M5.2 34.2h0M2.7 28.9h0M7.2 34.4h0M6.5 48.0h0M8.4 37.0h0M3.9 28.6h0M9.2 30.6h0M9.5 29.1h0M7.8 36.7h0M11.1 34.5h0M5.8 39.0h0M6.4 50.2h0M6.7 33.0h0M5.8 40.7h0M7.7 42.6h0M13.8 37.5h0M2.9 38.0h0M10.3 20.2h0M8.3 25.9h0M8.0 47.9h0M12.0 26.0h0M11.6 44.6h0M5.7 40.9h0M12.9 35.1h0M7.6 32.9h0M12.8 21.0h0M13.0 30.2h0M11.7 25.0h0M4.4 32.3h0M11.3 25.0h0M9.9 32.5h0M11.9 35.2h0M9.1 36.0h0M13.9 35.0h0M5.9 52.4h0M7.1 42.5h0M4.6 38.5h0M6.0 25.5h0M1.5 45.5h0M9.8 25.7h0M14.2 32.4h0M5.8 39.0h0M4.4 24.4h0M3.9 46.0h0M11.7 25.4h0M11.5 37.8h0M9.0 37.8h0M9.4 29.7h0M4.5 31.5h0M5.6 41.8h0M1.9 49.0h0M5.5 32.5h0M9.5 40.7h0M6.8 28.9h0M4.8 24.6h0M10.6 45.9h0M13.6 41.6h0M8.0 43.1h0M10.8 35.5h0M2.2 25.9h0M3.4 42.7h0M11.7 35.0h0M9.7 37.0h0M8.7 33.1h0M7.2 37.2h0M0.5 40.7h0M6.6 44.6h0M10.5 43.5h0M10.8 30.2h0M12.2 30.3h0M11.4 42.7h0M3.0 45.8h0M5.4 31.3h0M2.0 35.1h0M11.4 32.4h0M13.4 43.1h0M6.2 27.7h0M1.1 41.0h0M12.6 29.5h0M7.5 35.1h0M6.1 41.0h0M15.2 33.0h0M9.6 45.8h0M6.4 36.0h0M1.8 45.1h0M5.9 32.0h0M8.1 30.6h0M3.8 34.6h0M12.7 36.1h0M10.2 26.1h0M6.9 25.3h0M6.5 41.8h0M1.8 29.9h0M8.8 30.2h0M9.5 44.8h0M9.2 34.0h0M7.6 32.3h0M6.6 39.6h0M5.6 44.6h0M8.0 43.6h0M9.8 35.6h0M4.9 44.8h0M9.2 41.3h0M4.0 41.8h0M10.3 36.0h0M4.0 26.3h0M6.1 41.3h0M8.3 28.2h0M2.6 32.5h0M7.9 30.8h0M0.8 50.3h0M4.4 35.7h0M5.7 32.5h0M7.6 34.9h0M10.3 28.3h0M0.7 51.8h0M6.5 43.1h0M11.1 41.8h0M8.5 25.2h0M0.9 44.2h0M9.3 41.8h0M4.3 27.8h0M8.6 29.4h0M13.4 32.9h0M4.7 43.7h0M9.1 30.4h0M8.9 52.3h0M3.1 34.9h0M4.8 21.9h0M9.1 42.8h0M10.5 40.8h0M5.7 27.9h0M2.8 42.8h0M4.9 52.3h0M10.3 22.6h0M9.7 47.2h0M8.2 27.8h0M14.5 27.6h0M8.3 22.4h0M4.0 23.6h0M10.4 46.7h0M6.8 26.6h0M6.8 40.1h0M2.6 27.7h0M6.5 42.6h0M7.3 40.7h0M9.0 30.2h0M7.1 34.2h0M9.6 31.4h0M12.5 37.9h0M8.8 42.3h0M10.8 40.7h0M1.4 31.8h0M13.7 41.5h0M9.0 41.0h0M5.5 31.7h0M4.2 46.0h0M7.4 51.2h0M7.8 52.1h0M9.8 28.1h0M13.3 40.4h0M11.5 39.3h0M6.0 38.4h0M4.1 27.5h0M4.5 32.8h0M2.5 36.0h0M7.0 53.1h0M14.0 37.4h0M10.6 35.8h0M8.7 37.1h0M5.3 37.6h0M1.6 40.2h0M7.0 28.6h0M5.6 41.4h0M4.5 40.7h0M8.3 49.6h0M3.4 36.0h0M8.1 49.1h0M7.7 43.2h0M2.4 32.2h0M13.5 35.5h0M15.7 32.2h0M7.4 24.6h0M9.4 39.5h0M14.5 39.1h0M7.4 26.1h0M6.4 44.6h0M9.1 47.1h0M10.5 37.1h0M9.4 38.7h0M1.3 50.2h0M9.4 29.0h0M8.5 39.6h0M9.9 48.9h0M13.5 30.2h0M8.3 40.1h0M3.6 33.2h0M7.5 43.1h0M15.1 40.2h0M6.7 18.4h0M11.3 36.5h0M7.6 29.4h0M11.2 23.3h0M7.6 38.2h0M7.5 47.6h0M6.9 37.9h0M11.5 25.2h0M6.2 37.6h0M11.3 31.2h0M10.0 40.5h0M2.9 25.0h0M2.0 37.8h0M7.6 43.0h0M10.7 33.1h0M10.6 44.0h0M8.7 41.1h0M2.3 39.6h0M4.3 27.4h0M5.9 38.2h0M7.3 34.6h0M3.5 38.4h0M5.6 25.8h0M6.6 48.7h0M6.6 28.7h0M11.2 51.2h0M6.4 35.4h0M7.1 45.1h0M10.2 22.9h0M4.1 27.1h0M8.8 38.2h0M14.1 35.6h0M8.4 37.9h0M7.3 49.0h0M12.5 32.8h0M10.1 34.4h0M7.6 38.5h0M7.7 33.5h0M13.2 35.6h0M8.7 50.8h0M8.9 45.6h0M11.6 46.3h0M14.6 26.4h0M14.5 38.1h0M1.3 31.5h0M2.2 36.6h0M2.5 28.7h0M8.3 38.5h0M4.5 35.1h0M6.9 37.8h0M7.4 35.4h0M11.6 24.7h0M5.4 38.1h0M6.2 32.7h0M5.5 38.7h0M12.0 36.1h0M6.1 39.9h0M7.8 21.7h0M8.6 34.3h0M4.8 42.0h0M7.9 32.7h0M7.4 36.3h0M8.8 39.1h0M6.4 27.0h0M3.4 35.7h0M2.5 42.8h0M3.7 22.5h0M7.8 23.0h0M14.0 29.8h0M7.3 35.2h0M5.5 22.9h0M1.5 41.2h0M6.7 43.9h0M4.9 42.8h0M10.2 42.3h0M12.8 36.3h0M13.5 32.1h0M7.9 30.8h0M6.6 45.4h0M9.9 38.2h0M14.6 26.0h0M3.2 49.0h0M10.0 20.8h0M9.4 27.9h0M11.9 46.8h0M4.4 47.3h0M3.6 44.3h0M9.5 36.4h0M2.3 34.5h0M9.2 40.3h0M10.1 38.0h0M8.4 45.0h0M6.1 25.7h0M8.3 23.9h0M6.8 43.3h0M12.7 39.8h0M7.5 43.2h0M12.7 35.1h0M3.3 30.5h0M3.3 29.7h0M6.6 39.9h0M7.8 37.8h0M5.7 40.5h0M10.0 43.5h0M13.0 35.4h0M5.2 50.6h0M7.8 40.6h0M5.4 44.8h0M6.5 29.0h0M7.4 33.7h0M10.6 34.5h0M7.9 35.5h0M9.0 32.3h0M12.4 26.2h0M6.4 31.4h0M9.7 37.7h0M9.3 34.7h0M5.4 28.0h0M6.4 32.8h0M8.1 40.1h0M11.0 36.7h0M5.3 28.5h0M7.3 40.1h0M14.4 39.3h0M2.6 46.5h0M10.6 48.3h0M6.6 44.8h0M5.6 36.5h0M6.1 51.4h0M5.8 44.7h0M8.0 31.6h0M7.7 42.5h0M4.2 42.0h0M5.3 30.0h0M8.3 35.4h0M4.8 23.9h0M7.2 39.1h0M5.5 38.5h0M1.4 39.8h0M8.6 39.6h0M5.0 37.6h0M7.0 45.8h0M8.1 39.3h0M4.0 43.8h0M12.0 33.6h0M9.4 39.9h0M8.0 26.9h0M8.7 34.3h0M11.8 34.2h0M7.0 42.1h0M9.3 33.2h0M9.5 40.5h0M11.3 33.5h0M7.4 34.1h0M4.0 39.0h0M7.8 48.6h0M5.8 40.2h0M11.6 36.7h0M7.4 38.3h0M5.4 29.1h0M11.3 38.9h0M7.9 27.3h0M6.9 46.6h0M3.7 29.7h0M10.4 48.9h0M13.4 33.3h0M10.0 31.4h0M9.5 34.5h0M7.1 47.9h0M8.7 35.4h0M7.3 39.3h0M5.3 38.7h0M8.4 49.8h0M0.6 27.1h0M2.2 43.7h0M16.1 39.5h0M7.0 46.3h0M5.8 33.2h0M9.0 32.7h0M11.4 37.5h0M5.0 44.4h0M3.4 46.8h0M10.7 38.6h0M9.8 50.2h0M12.3 37.7h0M6.3 45.9h0M2.3 32.0h0M8.7 41.9h0M8.2 40.8h0M2.6 35.3h0M8.4 35.5h0M7.1 42.0h0M4.2 32.4h0M4.6 23.4h0M10.3 35.8h0M11.1 34.6h0M14.6 43.5h0M7.8 38.2h0M6.0 43.5h0M14.9 34.5h0M2.9 41.6h0M12.2 25.8h0M5.5 29.1h0M9.0 41.4h0M5.4 28.1h0M11.2 21.2h0M9.8 36.2h0M13.6 45.6h0M5.4 34.9h0M6.8 31.4h0M6.9 44.8h0M2.0 34.9h0M12.2 43.5h0M4.9 30.6h0M5.3 24.3h0M11.4 38.1h0M5.8 25.7h0M6.3 33.1h0M13.9 34.1h0M7.0 45.6h0M9.8 36.0h0M9.8 34.0h0M7.6 29.7h0M5.1 25.3h0M8.8 41.4h0M7.4 43.4h0M9.2 38.3h0M3.7 41.6h0M11.2 42.5h0M12.1 33.9h0M2.9 46.7h0M5.0 38.9h0M6.6 37.3h0M6.7 32.9h0M9.4 22.2h0M4.8 28.1h0M8.3 50.2h0M5.9 42.9h0M10.3 27.7h0M12.9 24.4h0M5.5 34.2h0M11.8 38.5h0M7.4 30.9h0M7.6 37.6h0M9.0 48.3h0M10.0 37.6h0M5.7 49.7h0M8.0 37.1h0M12.7 50.0h0M9.4 36.5h0M4.3 45.3h0M5.0 44.5h0M4.4 37.8h0M8.7 38.5h0M7.9 40.2h0M4.0 28.2h0M5.5 51.2h0M7.5 29.9h0M4.9 37.3h0M11.9 33.2h0M9.2 38.8h0M6.7 29.7h0M7.2 31.5h0M10.4 23.7h0M10.8 43.5h0M8.4 49.0h0M10.6 24.1h0M7.2 40.7h0M5.6 28.2h0M8.5 41.3h0M5.9 35.2h0M5.9 32.6h0M6.4 45.5h0M1.7 34.0h0M12.9 40.2h0M7.3 43.7h0M4.5 27.5h0M2.3 25.3h0M7.6 43.9h0M6.3 31.8h0M8.3 42.1h0M9.5 22.5h0M8.8 30.7h0M3.9 48.7h0M11.7 41.4h0M8.2 38.6h0M5.2 36.6h0M14.8 31.0h0M4.8 38.3h0M9.9 43.9h0M3.9 35.9h0M7.2 27.6h0M7.9 33.5h0M10.3 40.8h0M4.4 37.6h0M6.5 32.2h0M4.8 45.3h0M7.0 23.8h0M4.0 43.2h0M15.7 29.7h0M6.2 34.5h0M2.0 39.9h0M6.9 39.3h0M15.5 35.8h0M9.6 43.9h0M5.4 32.4h0M12.4 43.2h0M8.6 28.8h0M10.1 41.6h0M10.0 39.5h0M7.9 33.0h0M8.2 39.2h0M8.9 45.8h0M8.8 33.1h0M9.1 49.5h0M4.0 40.2h0M8.9 41.5h0M9.2 36.7h0M5.8 50.2h0M14.5 26.9h0M5.2 33.0h0M1.4 39.4h0M7.5 33.0h0M11.8 46.8h0M5.4 42.2h0M6.4 46.2h0M9.4 37.1h0M9.8 31.8h0M9.1 49.1h0M5.6 41.4h0M0.7 43.9h0M11.1 29.6h0M13.5 38.6h0M2.0 26.1h0M10.6 35.4h0M12.3 25.5h0M6.3 44.7h0M4.4 42.3h0M5.8 39.8h0M2.3 42.8h0M12.8 28.9h0M7.6 23.9h0M8.9 31.7h0M5.9 30.5h0M8.7 33.7h0M4.2 35.2h0M9.3 30.7h0M12.4 24.7h0M9.0 34.3h0M13.4 32.7h0M5.8 26.6h0M14.0 42.6h0M3.6 34.3h0M2.8 48.7h0M10.2 21.6h0M7.4 44.4h0M7.0 40.9h0M6.8 38.8h0M8.5 31.8h0M8.4 38.6h0M7.6 31.9h0M3.5 38.8h0M11.9 18.7h0M4.5 47.5h0M11.1 32.0h0M12.8 30.0h0M3.2 52.0h0M5.9 35.4h0M2.1 28.9h0M3.2 35.8h0M6.4 32.4h0M4.5 42.8h0M13.1 34.5h0M12.0 50.2h0M11.9 39.9h0M1.5 42.0h0M5.7 38.6h0M0.7 34.4h0M8.8 30.0h0M7.2 50.3h0M8.6 32.0h0M3.7 40.1h0M6.7 19.2h0M7.7 43.7h0M3.5 48.3h0M8.3 46.6h0M1.8 36.7h0M12.0 37.6h0M8.4 32.4h0M11.7 32.1h0M9.1 21.2h0M0.7 50.5h0M7.4 38.9h0M5.5 35.4h0M3.7 26.3h0M2.4 41.8h0M6.6 43.6h0M3.0 41.5h0M5.6 37.8h0M10.6 37.8h0M7.2 24.1h0M7.0 43.3h0M5.1 36.5h0M1.8 26.2h0M7.9 47.4h0M7.3 24.1h0M7.0 24.9h0M5.0 52.2h0M8.5 36.1h0M11.3 34.6h0M8.4 38.9h0M9.9 25.9h0M9.3 44.3h0M3.0 48.6h0M6.9 42.5h0M8.7 44.3h0M5.4 32.4h0M8.2 42.1h0M9.1 40.0h0M4.8 45.7h0M8.3 45.7h0M4.8 37.9h0M5.8 34.6h0M7.8 40.0h0M4.1 41.2h0M3.9 40.3h0M6.6 29.7h0M10.4 50.6h0M7.0 36.8h0M11.7 27.1h0M3.3 45.8h0M10.9 33.6h0M4.2 39.7h0M2.5 32.8h0M8.2 17.7h0M8.9 43.4h0M12.2 26.2h0M3.2 30.4h0M1.1 53.0h0M4.0 34.4h0M7.7 40.9h0M13.3 29.1h0M10.4 38.7h0M2.9 38.0h0M1.1 49.6h0M3.9 44.9h0M12.5 32.7h0M3.9 37.9h0M2.8 44.0h0M8.5 31.2h0M4.3 42.7h0M0.8 50.1h0M4.6 35.4h0M2.8 49.8h0M9.4 47.8h0M9.6 38.1h0M13.0 43.0h0M8.5 41.9h0M9.8 39.6h0M7.8 24.5h0M15.8 27.5h0M13.5 47.5h0M4.9 39.1h0M8.6 21.4h0M5.9 39.4h0M12.4 28.0h0M8.5 37.9h0M7.7 38.4h0M6.9 26.2h0M8.7 40.4h0M8.6 47.3h0M3.7 40.1h0M6.7 43.0h0M7.1 32.4h0M7.8 41.4h0M2.8 47.4h0M11.2 41.1h0M7.1 35.3h0M0.8 41.9h0M4.1 32.9h0M11.6 30.2h0M4.8 43.9h0M14.6 32.3h0M11.8 32.3h0M8.4 41.2h0M2.4 45.0h0M13.9 38.2h0M9.1 27.9h0M13.8 38.3h0M2.1 42.9h0M2.4 31.3h0M15.9 32.9h0M5.3 32.4h0M4.8 41.4h0M13.4 29.6h0M10.2 23.0h0M13.0 37.0h0M3.7 49.2h0M6.0 48.1h0M10.1 50.8h0M4.3 37.4h0M8.8 35.8h0M13.4 32.0h0M10.0 48.4h0M0.8 28.8h0M4.4 32.6h0M8.9 35.9h0M7.9 33.6h0M6.7 41.0h0M10.6 31.2h0M7.4 31.1h0M7.6 25.7h0M10.3 42.9h0M7.3 31.7h0M6.1 31.7h0M2.6 41.4h0M10.6 24.9h0M5.4 37.7h0M7.7 32.7h0M7.0 34.8h0M12.0 36.9h0M7.6 33.0h0M5.5 31.1h0M6.1 51.8h0M11.2 39.4h0M12.7 45.8h0M8.2 36.0h0M3.1 38.8h0M7.2 24.5h0M1.2 52.2h0M7.7 41.2h0M8.4 33.6h0M8.2 46.0h0M5.8 41.2h0M11.4 33.7h0M8.4 31.4h0M9.8 34.5h0M12.1 31.5h0M13.7 35.3h0M4.8 29.7h0M10.3 30.6h0M13.1 48.0h0M10.2 26.0h0M7.7 31.4h0M15.8 33.6h0M9.4 47.7h0M4.0 34.2h0M8.0 41.0h0M2.9 38.6h0M6.2 44.7h0M1.8 32.2h0M5.7 34.5h0M10.4 32.4h0M9.7 45.6h0M11.0 35.9h0M4.4 34.9h0M9.7 38.4h0M9.0 42.0h0M4.7 29.5h0M13.0 33.8h0M4.9 29.5h0M11.7 28.5h0M3.4 45.3h0M7.7 37.7h0M5.1 35.2h0M5.5 36.9h0M11.0 27.3h0M5.4 20.2h0M12.9 37.1h0M7.3 36.7h0M10.8 40.1h0M10.6 36.1h0M6.9 36.7h0M2.2 28.8h0M9.7 37.9h0M9.1 51.1h0M13.2 48.8h0M5.0 53.5h0M4.1 36.2h0M11.1 35.8h0M7.1 34.3h0M11.3 46.1h0M6.6 41.6h0M3.0 45.7h0M12.5 37.2h0M6.4 33.2h0M7.5 27.2h0M1.1 50.0h0M6.8 41.6h0M8.1 41.1h0M2.3 29.1h0M8.9 45.4h0M3.5 32.2h0M2.9 42.1h0M8.5 37.6h0M4.7 39.7h0M7.9 31.3h0M9.0 32.0h0M10.4 42.5h0M4.4 41.7h0M8.0 31.6h0M5.1 23.7h0M2.9 39.6h0M12.2 32.6h0M7.6 40.0h0M9.9 41.0h0M11.3 43.7h0M4.2 40.1h0M7.0 41.8h0M5.6 43.7h0M12.8 30.9h0M5.1 39.1h0M9.0 38.5h0M11.2 28.0h0M9.3 46.7h0M11.1 41.0h0M6.1 40.3h0M8.1 24.5h0M5.1 36.7h0M6.0 29.6h0M6.7 34.2h0M7.6 36.8h0M7.2 45.2h0M7.5 40.5h0M5.4 42.5h0M6.5 32.1h0M2.1 43.9h0M5.2 39.0h0M11.1 41.8h0M15.7 36.9h0M10.3 43.0h0M4.9 37.4h0M5.9 28.9h0M8.9 31.1h0M14.0 31.8h0M5.2 37.8h0M5.4 37.5h0M6.1 25.7h0M12.6 41.2h0M8.2 33.5h0M6.6 39.5h0M2.7 30.4h0M3.1 46.9h0M2.6 46.2h0M7.0 37.4h0M11.7 44.6h0M11.5 29.0h0M10.3 51.0h0M7.3 33.3h0M2.6 45.0h0M8.4 37.3h0M1.6 49.7h0M10.5 37.3h0M13.4 30.1h0M11.2 29.5h0M12.7 35.5h0M12.1 34.3h0M8.0 46.4h0M3.9 37.7h0M3.6 43.7h0M5.3 34.0h0M5.7 46.4h0M3.5 36.7h0M6.5 32.7h0M4.5 35.7h0M9.1 24.9h0M9.0 27.8h0M3.8 36.4h0M5.7 44.9h0M6.8 22.8h0M1.2 38.1h0M7.5 45.8h0M4.9 42.3h0M2.5 47.2h0M7.5 31.8h0M6.7 51.1h0M5.0 27.0h0M4.4 27.7h0M6.9 40.0h0M6.6 38.7h0M11.9 35.3h0M8.7 31.9h0M6.1 40.4h0M10.1 24.9h0M3.7 37.5h0M6.0 46.3h0M6.9 20.6h0M12.8 24.5h0M3.5 40.0h0M7.8 41.5h0M9.8 31.7h0M13.1 24.1h0M4.9 39.3h0M8.5 29.6h0M12.1 49.4h0M3.6 39.9h0M5.3 33.5h0M10.8 38.5h0M6.8 38.0h0M2.1 46.6h0M3.6 47.4h0M5.9 33.4h0M12.6 39.2h0M5.3 32.7h0M8.2 52.3h0M9.8 34.3h0M3.6 31.5h0M6.7 39.1h0M4.0 47.2h0M4.3 31.2h0M8.8 41.2h0M5.2 44.7h0M1.0 49.8h0M6.4 52.9h0M6.6 47.8h0M6.4 38.7h0M10.5 23.4h0M5.3 50.8h0M10.5 40.1h0M7.0 48.3h0M9.9 22.2h0M4.0 34.5h0M8.1 33.7h0M5.8 50.5h0M10.3 42.3h0M7.3 37.7h0M8.5 39.2h0M4.1 43.2h0M4.3 36.6h0M6.8 27.9h0M9.6 36.8h0M3.1 36.2h0M1.2 48.2h0M7.8 53.2h0M4.7 42.6h0M4.3 30.1h0M6.7 40.4h0M10.9 35.4h0M10.7 45.2h0M4.2 35.5h0M2.7 50.5h0M4.7 44.1h0M10.8 35.5h0M5.3 39.8h0M5.3 26.9h0M3.5 39.6h0M6.8 51.3h0M2.3 46.0h0M9.8 38.4h0M13.0 34.7h0M6.1 28.7h0M4.8 37.9h0M8.9 47.6h0M6.8 31.3h0M6.4 33.7h0M5.9 33.9h0M4.1 36.5h0M5.5 35.7h0M2.1 37.9h0M8.9 42.5h0M6.1 28.0h0M3.3 27.5h0M5.2 34.5h0M2.1 31.3h0M4.1 43.5h0M14.3 35.0h0M6.6 34.0h0M6.7 35.8h0M7.4 30.9h0M9.0 33.2h0M10.1 28.9h0M14.9 39.5h0M6.4 27.9h0M9.3 33.3h0M10.4 33.1h0M10.5 38.7h0M8.5 38.6h0M6.2 34.2h0M8.5 42.9h0M14.3 28.7h0M11.3 37.0h0M8.7 31.1h0M13.9 31.2h0M7.5 31.5h0M13.5 47.7h0M2.8 33.2h0M8.9 33.9h0M6.8 28.6h0M9.0 28.7h0M5.0 50.0h0M9.1 32.1h0M6.7 29.6h0M7.2 42.7h0M10.9 35.3h0M3.0 36.2h0M13.2 39.9h0M8.5 20.9h0M5.4 41.3h0M2.9 47.5h0M5.8 30.2h0M5.3 36.3h0M11.3 33.1h0M0.9 36.0h0M8.1 49.4h0M2.2 48.5h0M9.4 41.0h0M5.1 30.1h0M3.2 44.2h0M7.4 45.6h0M13.9 37.9h0M5.8 52.2h0M2.9 33.3h0M6.2 34.1h0M8.4 30.7h0M12.4 26.9h0M5.5 23.8h0M1.8 41.4h0M9.7 35.9h0M9.9 42.3h0M5.2 36.7h0M7.3 53.1h0M5.4 40.0h0M8.4 46.9h0M8.1 45.7h0M3.6 34.8h0M15.6 39.9h0M7.4 39.3h0M8.7 27.0h0M10.2 17.3h0M13.1 13.9h0M12.3 14.5h0M9.4 14.2h0M8.5 23.0h0M13.7 22.8h0M11.8 15.4h0M8.6 14.8h0M13.4 26.2h0M12.4 17.5h0M10.9 21.1h0M10.9 21.2h0M9.7 18.6h0M9.2 24.7h0M6.8 25.4h0M12.0 15.8h0M11.4 19.5h0M10.4 21.0h0M12.6 8.8h0M13.1 19.0h0M14.8 21.9h0M5.2 24.6h0M9.1 21.5h0M15.0 26.2h0M9.1 17.6h0M6.9 21.6h0M14.2 13.2h0M11.2 24.3h0M14.3 15.4h0M11.5 12.0h0M8.1 19.8h0M9.7 26.2h0M12.6 17.1h0M6.0 26.7h0M11.9 18.7h0M10.7 12.2h0M14.3 13.6h0M11.9 22.6h0M12.9 9.3h0M10.4 26.9h0M11.4 11.1h0M13.8 20.2h0M8.3 25.3h0M10.2 21.2h0M11.6 14.3h0M13.2 14.0h0M8.2 14.7h0M12.8 25.7h0M15.1 25.6h0M14.8 21.1h0M9.8 21.1h0M8.3 22.4h0M10.1 20.0h0M9.7 17.5h0M14.0 18.1h0M9.5 20.0h0M13.8 18.2h0M11.0 9.3h0M6.9 24.0h0M10.6 21.4h0M13.5 21.0h0M13.3 16.2h0M6.9 21.4h0M10.5 22.0h0M9.3 17.4h0M17.3 15.2h0M9.9 26.2h0M10.8 19.3h0M5.5 21.9h0M8.7 25.8h0M11.8 16.6h0M12.8 17.7h0M8.1 27.2h0M13.6 19.9h0M12.2 23.9h0M12.7 19.4h0M11.1 21.1h0M12.3 21.1h0M10.3 18.0h0M13.9 13.5h0M10.4 23.0h0M12.3 17.3h0M12.1 16.1h0M14.2 17.2h0M9.4 11.1h0M11.9 20.1h0M12.2 11.2h0M12.3 14.0h0M10.0 18.4h0M9.3 20.1h0M10.4 15.8h0M8.9 26.8h0M13.8 25.0h0M9.8 18.4h0M12.4 23.8h0M7.8 17.5h0M8.7 22.6h0M13.7 16.2h0M16.7 18.5h0M17.3 19.2h0M8.6 29.3h0M10.9 15.9h0M14.9 19.4h0M14.3 12.0h0M14.2 25.3h0M11.3 22.9h0M11.0 15.9h0M7.4 20.0h0M13.1 24.3h0M12.6 23.3h0M11.2 11.0h0M12.7 20.1h0M14.1 17.8h0M8.9 20.8h0M12.5 9.4h0M11.3 13.6h0M9.7 15.1h0M10.4 32.4h0M16.0 17.5h0M14.2 19.0h0M13.3 15.3h0M13.6 9.4h0M16.6 15.6h0M13.6 15.9h0M13.7 12.4h0M9.4 23.6h0M15.5 8.4h0M15.2 12.0h0M11.4 21.8h0M10.5 16.7h0M10.4 20.9h0M11.7 26.9h0M9.5 30.0h0M6.9 28.1h0M9.8 22.9h0M11.1 19.2h0M8.8 20.4h0M15.9 20.8h0M11.4 18.8h0M13.4 18.1h0M11.2 20.0h0M13.1 24.8h0M9.9 14.7h0M10.4 23.5h0M14.0 18.2h0M16.5 19.1h0M12.7 27.5h0M14.8 20.8h0M14.9 10.7h0M8.3 14.4h0M11.6 25.1h0M9.8 24.5h0M10.7 27.6h0M9.0 13.3h0M10.7 12.5h0M16.5 14.6h0M10.1 16.1h0M14.1 16.7h0M12.4 22.3h0M13.3 5.4h0M11.1 11.4h0M16.2 15.8h0M8.5 20.3h0M12.9 13.6h0M12.7 24.5h0M13.2 14.8h0M12.3 7.0h0M11.8 21.2h0M9.3 18.4h0M6.7 21.2h0M11.2 15.8h0M13.1 18.4h0M13.0 22.2h0M14.0 20.1h0M4.7 25.1h0M6.2 23.6h0M14.0 11.2h0M10.4 23.7h0M9.1 18.4h0M11.2 12.8h0M8.3 25.5h0M13.1 19.0h0M11.1 19.4h0M11.9 20.0h0M6.3 22.9h0M14.8 12.5h0M11.3 18.2h0M9.4 21.4h0M11.2 17.1h0M9.7 16.7h0M9.1 18.4h0M13.1 25.1h0M14.3 11.5h0M12.5 24.5h0M12.0 16.9h0M15.5 13.4h0M7.4 31.4h0M16.5 8.3h0M9.6 26.3h0M9.2 21.7h0M13.7 10.7h0M8.5 24.7h0M15.0 16.1h0M15.0 15.5h0M12.1 18.8h0" stroke="#000" stroke-opacity="0.2" stroke-width="0.75" stroke-linecap="square" fill="none" filter="url(#b03)"/>
<line x1="71.4" y1="138.4" x2="126.0" y2="138.4" stroke="#777" stroke-width="0.9" stroke-dasharray="2 1.3 0.8 0.9 3 1.1"/>
<line x1="70.9" y1="138.6" x2="80.9" y2="138.6" stroke="#444" stroke-width="1" opacity="0.7"/>
<line x1="72.10000000000001" y1="90.8" x2="72.10000000000001" y2="137.9" stroke="#aaa" stroke-width="0.6" stroke-dasharray="1 2.3 0.8 1.9 1.5 3.1"/>
<text x="105.8" y="91.2" font-size="8.3" text-anchor="start" fill="#000" font-weight="bold" font-style="italic" textLength="19.5" lengthAdjust="spacingAndGlyphs" >#141</text>
<rect x="70.9" y="147.9" width="55.599999999999994" height="54.5" fill="#fff" stroke="#9a9a9a" stroke-width="0.6"/>
<clipPath id="cp70_147"><rect x="71.30000000000001" y="148.3" width="54.8" height="53.7"/></clipPath>
<g clip-path="url(#cp70_147)">
<ellipse cx="79.4" cy="178" rx="9.8" ry="26.2" transform="rotate(9 79.4 178)" fill="url(#gg)" opacity="0.46"/>
<ellipse cx="76" cy="196" rx="7.5" ry="12.5" transform="rotate(0 76 196)" fill="url(#gg)" opacity="0.10"/>
</g>
<path transform="translate(70.9 147.9)" d="M27.5 32.9h0M37.3 39.4h0M29.3 26.8h0M28.3 35.0h0M26.6 40.9h0M29.2 22.6h0M39.4 8.8h0M27.7 31.1h0M34.1 41.0h0M36.4 44.6h0M30.7 33.0h0M34.2 31.9h0M22.8 28.4h0M32.4 37.0h0M23.5 41.7h0M30.7 20.0h0M31.4 40.2h0M31.8 29.6h0M25.1 41.1h0M30.2 32.0h0M27.1 23.8h0M19.7 29.3h0M34.7 38.2h0M25.7 44.4h0" stroke="#000" stroke-opacity="0.1" stroke-width="0.75" stroke-linecap="square" fill="none" filter="url(#b03)"/>
<path transform="translate(70.9 147.9)" d="M10.9 18.7h0M10.3 24.6h0M10.4 36.5h0M10.8 26.1h0M13.0 38.7h0M12.0 39.2h0M10.4 34.4h0M7.3 11.4h0M4.0 35.7h0M11.7 32.5h0M5.9 48.4h0M9.8 12.2h0M3.2 26.0h0M10.0 37.9h0M6.4 38.1h0M9.5 22.9h0M5.9 37.4h0M13.9 19.5h0M4.6 30.7h0M18.4 19.8h0M3.1 33.5h0M11.4 24.3h0M7.6 34.9h0M1.9 28.8h0M9.3 39.6h0M13.0 30.1h0M0.9 42.6h0M12.4 24.2h0M10.8 41.1h0M11.7 6.6h0M7.9 22.3h0M5.5 28.8h0M3.8 33.3h0M17.5 19.4h0M13.3 25.4h0M10.8 29.2h0M14.5 23.8h0M12.5 22.8h0M9.4 30.1h0M15.1 15.1h0M1.2 43.1h0M7.3 47.2h0M4.3 31.6h0M8.0 48.0h0M9.0 25.6h0M11.4 29.5h0M4.5 37.2h0M2.9 18.9h0M14.4 26.0h0M6.7 33.6h0M11.9 36.0h0M5.8 23.9h0M12.6 29.5h0M4.7 38.4h0M9.4 52.4h0M5.6 22.4h0M5.3 33.2h0M4.9 40.9h0M6.5 27.0h0M10.3 32.5h0M2.3 44.4h0M11.4 25.6h0M11.0 19.2h0M4.4 26.4h0M9.7 31.3h0M7.8 15.9h0M11.2 22.4h0M12.1 36.2h0M7.9 23.8h0M12.3 34.0h0M14.1 34.7h0M7.2 23.8h0M5.5 32.2h0M8.5 36.3h0M11.9 19.9h0M9.2 20.6h0M12.4 17.3h0M7.7 21.2h0M6.6 27.2h0M14.6 28.5h0M3.6 26.2h0M10.4 36.1h0M6.3 50.1h0M12.5 31.7h0M15.2 17.5h0M9.2 21.4h0M6.6 46.3h0M4.1 45.7h0M2.4 43.7h0M3.5 20.7h0M12.4 29.8h0M9.1 30.1h0M9.5 28.4h0M5.3 26.6h0M10.3 21.2h0M7.5 47.9h0M3.2 23.7h0M7.4 30.1h0M10.0 22.9h0M8.4 30.1h0M5.8 45.4h0M11.3 15.5h0M1.7 35.1h0M8.2 23.7h0M3.9 26.2h0M9.2 23.2h0M5.8 38.7h0M10.6 36.0h0M10.0 16.5h0M9.0 45.4h0M11.4 42.4h0M8.9 34.0h0M6.5 42.6h0M4.1 51.3h0M11.9 27.4h0M11.0 14.1h0M6.2 26.7h0M11.8 31.4h0M6.4 36.1h0M15.3 34.2h0M8.0 31.7h0M11.8 25.6h0M8.2 35.2h0M6.6 33.8h0M8.6 37.4h0M5.7 24.2h0M5.0 41.8h0M12.0 13.8h0M0.7 48.6h0M11.8 17.4h0M4.9 31.0h0M11.3 47.1h0M7.6 26.9h0M17.2 21.5h0M13.8 34.4h0M6.8 43.0h0M11.6 22.1h0M2.8 29.4h0M8.3 44.0h0M8.4 45.6h0M11.1 32.7h0M9.5 34.3h0M6.3 28.6h0M9.7 25.7h0M5.3 14.8h0M9.6 35.6h0M10.7 18.5h0M12.3 26.7h0M11.2 26.0h0M0.8 21.7h0M11.9 44.5h0M12.2 13.2h0M7.5 27.1h0M10.4 29.1h0M12.4 14.1h0M3.8 44.1h0M1.6 38.4h0M16.1 38.0h0M1.3 41.7h0M1.0 32.4h0M5.0 42.2h0M12.6 32.7h0M13.7 41.0h0M8.3 20.0h0M18.3 27.5h0M10.2 29.2h0M9.3 13.8h0M8.1 28.9h0M13.0 25.6h0M4.3 18.5h0M8.0 32.6h0M11.8 26.7h0M10.3 31.9h0M14.9 30.5h0M8.1 35.8h0M14.5 21.6h0M7.2 27.1h0M12.5 31.0h0M13.6 47.0h0M14.1 16.5h0M13.6 35.2h0M3.9 29.9h0M9.8 40.4h0M10.0 25.0h0M12.6 23.0h0M7.0 37.7h0M2.5 33.0h0M2.6 19.7h0M4.0 28.5h0M11.3 30.0h0M11.8 31.6h0M7.0 34.9h0M7.4 31.3h0M13.3 25.0h0M14.6 19.7h0M10.4 12.6h0M4.0 45.7h0M7.8 43.0h0M4.6 19.1h0M8.9 38.7h0M14.3 13.9h0M10.5 29.7h0M8.2 34.9h0M10.1 13.0h0M6.8 15.0h0M3.8 28.0h0M14.5 23.7h0M7.5 18.2h0M1.9 29.7h0M7.1 27.4h0M4.1 34.4h0M3.1 34.9h0M4.8 37.6h0M4.5 34.0h0M10.3 29.6h0M14.3 32.8h0M4.1 36.5h0M6.3 24.2h0M8.3 31.9h0M17.7 13.6h0M5.7 41.3h0M7.4 33.2h0M16.2 18.7h0M7.4 38.1h0M9.1 12.2h0M4.4 31.5h0M6.3 48.7h0M15.9 15.4h0M10.9 39.9h0M14.8 29.5h0M6.2 31.2h0M13.3 37.3h0M13.6 39.0h0M7.9 19.6h0M17.9 16.0h0M7.7 26.7h0M6.0 23.8h0M4.7 53.9h0M9.1 24.8h0M7.5 39.6h0M6.1 25.5h0M0.8 36.1h0M8.7 45.6h0M0.5 51.2h0M12.2 27.9h0M7.5 26.8h0M2.7 37.1h0M7.4 22.5h0M10.3 31.5h0M6.7 27.4h0M4.5 43.3h0M13.4 23.4h0M6.2 43.8h0M4.6 47.8h0M9.1 37.1h0M8.9 36.1h0M9.5 35.7h0M5.2 38.8h0M10.4 19.6h0M4.4 31.1h0M13.3 8.1h0M3.1 26.7h0M5.4 35.3h0M11.2 47.1h0M2.7 41.9h0M3.4 32.5h0M8.2 36.4h0M3.4 43.1h0M8.3 29.9h0M9.2 19.2h0M10.7 33.9h0M7.2 49.1h0M5.7 26.7h0M7.2 38.7h0M6.3 39.4h0M13.0 12.7h0M9.2 9.3h0M8.1 25.7h0M10.4 32.2h0M6.2 42.8h0M12.7 18.1h0M5.4 33.0h0M15.2 29.1h0M7.4 32.7h0M11.6 29.7h0M10.3 26.0h0M7.7 21.8h0M11.9 24.9h0M9.9 34.5h0M6.8 17.2h0M6.6 38.1h0M13.0 34.8h0M6.2 35.3h0M7.5 36.3h0M6.4 18.5h0M6.2 29.3h0M10.4 26.7h0M8.7 37.2h0M4.3 28.4h0M3.5 23.6h0M13.0 23.4h0M14.7 36.3h0M11.7 31.7h0M10.0 41.6h0M9.7 24.8h0M3.4 49.2h0M8.5 25.4h0M8.5 12.7h0M6.1 33.1h0M7.9 22.2h0M9.3 35.0h0M6.4 32.9h0M3.5 38.2h0M5.3 26.1h0M9.7 26.0h0M0.8 50.6h0M17.0 13.4h0M11.0 17.4h0M11.8 17.1h0M9.8 35.8h0M13.0 43.3h0M5.3 39.4h0M7.0 28.7h0M9.4 12.0h0M14.0 10.0h0M6.8 35.3h0M11.4 14.3h0M5.0 36.6h0M10.1 46.9h0M0.9 33.7h0M5.5 37.5h0M2.4 27.7h0M12.2 24.0h0M8.7 20.0h0M14.8 17.4h0M5.6 26.2h0M3.9 51.2h0M10.9 21.9h0M10.1 33.9h0M9.7 29.6h0M12.1 18.5h0M4.7 25.1h0M3.2 36.5h0M13.8 43.7h0M9.6 33.8h0M8.0 16.6h0M12.9 15.5h0M9.9 28.9h0M11.2 31.1h0M9.8 24.3h0M2.6 25.6h0M9.4 41.1h0M15.3 20.9h0M3.9 36.6h0M12.1 15.0h0M3.9 45.6h0M1.4 30.6h0M0.7 45.4h0M8.5 19.4h0M3.2 21.9h0M16.6 32.4h0M9.4 18.2h0M10.5 25.5h0M3.1 43.6h0M11.6 21.4h0M14.2 30.4h0M10.2 31.9h0M12.0 37.0h0M6.0 37.2h0M6.8 31.2h0M16.4 20.4h0M5.2 25.4h0M4.5 43.0h0M15.2 26.5h0M9.8 26.6h0M10.0 37.2h0M10.1 38.3h0M16.0 29.5h0M11.4 28.6h0M8.3 32.3h0M7.8 33.6h0M5.5 28.0h0M8.1 17.9h0M6.6 24.6h0M10.4 14.2h0M9.3 18.5h0M5.1 31.5h0M12.2 33.7h0M7.4 25.4h0M16.1 14.5h0M15.2 15.6h0M6.0 30.2h0M5.0 46.8h0M10.4 29.9h0M12.0 31.0h0M3.7 41.0h0M12.1 44.0h0M1.0 48.7h0M5.7 37.6h0M4.0 18.8h0M12.2 35.8h0M10.5 28.5h0M8.1 32.5h0M11.8 27.9h0M5.7 25.9h0M2.4 17.5h0M17.1 24.3h0M5.2 49.3h0M12.3 32.0h0M11.7 27.8h0M3.5 39.7h0M6.4 46.4h0M8.1 26.2h0M10.1 28.4h0M8.8 20.9h0M8.9 33.5h0M15.4 30.9h0M1.1 33.8h0M17.8 27.0h0M5.7 27.9h0M10.2 14.7h0M12.1 21.6h0M2.7 21.7h0M7.8 50.0h0M12.9 32.8h0M7.0 27.2h0M13.0 25.4h0M8.5 40.2h0M6.0 23.6h0M10.2 30.5h0M8.9 24.7h0M5.3 48.9h0M16.2 14.5h0M8.5 31.1h0M10.9 16.1h0M7.8 31.5h0M5.4 32.9h0M8.3 34.1h0M8.6 25.3h0M7.5 41.2h0M12.0 29.8h0M5.0 40.6h0M9.1 39.4h0M8.8 21.2h0M10.2 23.9h0M11.5 39.5h0M11.9 41.4h0M8.1 21.1h0M10.5 41.0h0M10.6 18.4h0M2.3 31.9h0M6.5 22.7h0M8.5 41.0h0M1.8 22.1h0M13.5 30.4h0M6.2 36.4h0M6.2 17.0h0M6.1 46.0h0M12.3 30.7h0M13.0 26.5h0M6.7 12.4h0M8.1 39.4h0M10.0 29.9h0M5.2 40.9h0M10.6 15.4h0M14.7 24.3h0M10.0 30.4h0M12.1 33.2h0M12.8 33.0h0M7.6 24.7h0M12.3 22.1h0M12.4 28.2h0M6.4 20.7h0M5.1 48.0h0M11.4 30.8h0M2.0 48.9h0M7.5 29.9h0M4.8 43.4h0M9.9 25.6h0M10.8 20.1h0M4.8 27.8h0M17.8 20.0h0M10.5 14.0h0M8.8 32.4h0M13.4 17.0h0M7.3 23.2h0M3.9 53.2h0M7.8 29.6h0M5.3 37.9h0M16.0 20.1h0M12.5 31.0h0M11.5 41.6h0M13.7 13.4h0M9.8 25.1h0M10.1 30.8h0M15.1 14.4h0M5.8 28.9h0M10.4 26.2h0M8.3 30.7h0M12.6 29.6h0M12.3 11.8h0M13.6 6.9h0M10.2 29.4h0M9.7 22.7h0M5.6 38.3h0M9.9 30.1h0M6.3 32.0h0M13.0 30.6h0M9.0 17.9h0M10.4 20.8h0M1.7 38.1h0M9.4 9.0h0M2.8 48.4h0M10.2 16.5h0M3.2 36.8h0M9.7 32.5h0M7.0 34.9h0M13.5 36.0h0M10.1 15.8h0M7.7 46.3h0M13.0 17.7h0M7.1 43.5h0M5.3 34.8h0M10.4 47.5h0M5.3 11.3h0M8.8 37.5h0M7.2 29.7h0M5.0 42.1h0M4.7 22.4h0M4.2 19.9h0M8.4 30.4h0M15.6 28.9h0M9.2 33.9h0M7.1 45.2h0M8.8 31.7h0M8.1 30.1h0M6.7 40.2h0M8.5 30.8h0M7.1 37.8h0M5.2 39.4h0M5.2 36.8h0M15.4 33.6h0M10.1 18.0h0M11.3 30.7h0M13.0 23.9h0M7.6 48.9h0M10.6 27.0h0M3.6 29.2h0M10.0 36.6h0M5.9 18.9h0M6.4 19.1h0M7.0 32.7h0M15.5 33.3h0M16.7 14.1h0M13.1 39.2h0M8.8 38.8h0M7.7 50.0h0M14.4 12.8h0M6.0 43.6h0M8.3 23.2h0M6.7 33.1h0M10.2 23.9h0M9.5 36.7h0M6.8 18.2h0M1.5 25.8h0M9.7 23.0h0M6.4 28.4h0M7.7 36.0h0M11.0 35.1h0M14.3 20.9h0M10.2 34.3h0M5.6 22.5h0M10.1 31.1h0M4.6 23.7h0M12.9 39.7h0M6.6 44.0h0M5.3 27.8h0M12.7 27.2h0M3.3 35.4h0M11.1 17.4h0M9.7 15.5h0M9.8 22.9h0M5.5 24.8h0M6.4 48.2h0M7.1 46.3h0M4.3 30.2h0M9.4 13.8h0M10.7 22.5h0M8.0 19.2h0M13.1 26.6h0M7.7 31.9h0M3.5 31.7h0M7.1 34.6h0M7.0 30.3h0M8.9 40.3h0M4.3 39.6h0M5.1 27.6h0M8.8 31.7h0M6.3 39.5h0M3.4 45.2h0M1.5 29.8h0M10.5 30.6h0M8.0 39.8h0M4.5 35.7h0M12.9 28.4h0M7.0 18.7h0M11.4 22.1h0M4.0 26.4h0M13.2 38.0h0M2.9 40.1h0M3.1 52.5h0M5.4 35.9h0M11.4 25.9h0M6.0 41.9h0M10.5 29.8h0M7.4 48.3h0M11.3 35.5h0M12.3 14.3h0M9.8 25.2h0M12.3 24.3h0M11.9 19.6h0M13.1 23.2h0M7.5 36.0h0M7.3 30.0h0M9.7 48.9h0M3.1 19.8h0M9.5 40.1h0M6.5 30.8h0M4.1 53.3h0M9.7 17.8h0M4.7 16.1h0M14.1 26.9h0M14.9 37.8h0M8.9 36.9h0M10.0 40.0h0M5.7 23.8h0M6.2 30.8h0M9.5 17.3h0M3.0 48.0h0M18.0 22.6h0M10.0 30.0h0M4.1 36.9h0M5.5 47.2h0M10.7 27.2h0M12.9 23.3h0M10.8 37.6h0M2.1 27.0h0M8.5 38.0h0M9.1 30.0h0M7.7 26.9h0M10.2 19.2h0M11.5 27.2h0M11.3 25.2h0M9.9 31.6h0M11.1 35.4h0M12.3 29.0h0M8.7 27.4h0M3.9 28.1h0M11.4 38.6h0M4.8 32.7h0M13.6 16.6h0M9.3 33.7h0M10.9 33.2h0M16.7 27.3h0M11.3 43.8h0M10.7 18.5h0M13.8 30.5h0M9.7 35.3h0M10.5 41.0h0M5.4 14.8h0M9.0 30.3h0M11.7 29.2h0M4.5 50.7h0M11.9 42.8h0M13.7 22.7h0M8.3 29.3h0M5.7 20.6h0M11.1 17.8h0M9.8 35.3h0M8.2 26.5h0M10.0 35.4h0M11.9 17.8h0M6.6 26.0h0M2.8 20.8h0M4.4 37.8h0M7.7 24.8h0M6.3 25.1h0M2.1 31.9h0M12.8 32.4h0M4.4 42.7h0M12.0 19.9h0M7.3 23.5h0M6.4 42.5h0M6.1 28.2h0M10.9 18.0h0M5.7 36.1h0M15.8 11.7h0M11.7 27.6h0M12.4 37.2h0M15.5 34.5h0M8.3 21.4h0M2.2 34.9h0M9.1 38.8h0M12.3 15.1h0M7.3 27.4h0M7.9 38.0h0M13.4 33.9h0M2.3 18.5h0M1.6 21.0h0M3.6 31.8h0M5.9 41.3h0M13.3 26.1h0M12.1 30.8h0M8.1 44.1h0M4.2 28.7h0M15.6 23.3h0M9.1 31.6h0M9.0 16.5h0M7.5 19.7h0M12.2 33.3h0M13.1 18.4h0M10.2 31.9h0M13.7 23.4h0M9.4 44.5h0M16.9 21.7h0M6.6 14.5h0M11.2 36.7h0M11.2 21.5h0M10.7 47.2h0M8.6 28.9h0M12.2 36.0h0M14.3 26.8h0M10.3 26.9h0M6.8 26.7h0M6.6 35.1h0M7.2 30.6h0M7.4 17.2h0M15.5 21.0h0M13.9 40.7h0M0.8 22.2h0M6.9 30.1h0M8.8 23.9h0M13.5 29.6h0M13.3 23.7h0M3.7 43.2h0M9.2 18.8h0M6.2 40.7h0M9.0 22.7h0M9.3 40.5h0M8.2 26.7h0M5.0 47.7h0M7.3 34.1h0M9.2 26.9h0M9.1 16.0h0M2.6 30.9h0M6.2 28.8h0M8.6 24.9h0M2.8 48.5h0M5.1 24.3h0M9.2 18.2h0M3.5 38.3h0M11.8 32.0h0M14.5 22.6h0M9.9 47.8h0M4.2 48.2h0M7.3 18.1h0M9.6 21.9h0M12.7 19.3h0M12.0 10.3h0M6.7 40.7h0M7.0 33.1h0M14.4 19.6h0M3.5 30.2h0M10.0 27.6h0M2.9 41.8h0M4.5 26.8h0M7.2 37.4h0M8.1 21.5h0M17.5 22.8h0M11.8 29.0h0M6.8 29.4h0M7.0 33.1h0M10.3 20.3h0M3.3 53.6h0M14.5 37.7h0M9.9 27.2h0M14.5 26.4h0M4.3 36.6h0M6.1 21.5h0M16.6 14.7h0M8.1 31.3h0M11.8 15.5h0M8.2 26.6h0M14.2 41.4h0M4.2 38.5h0M11.2 29.4h0M8.0 27.2h0M3.7 22.8h0M9.8 45.3h0M16.2 27.4h0M14.7 6.1h0M9.5 17.2h0M14.3 13.8h0M6.3 18.3h0M8.7 38.8h0M2.1 47.8h0M10.5 21.8h0M9.9 30.2h0M11.1 34.1h0M15.0 43.3h0M4.8 37.7h0M13.0 20.4h0M7.0 21.5h0M5.7 42.4h0M6.3 30.5h0M9.7 40.3h0M11.4 19.8h0M15.5 40.2h0M11.1 47.3h0M13.2 35.2h0M9.3 36.8h0M1.5 37.4h0M4.1 33.8h0M3.5 36.7h0M8.4 35.4h0M5.5 26.7h0M8.8 27.2h0M8.3 21.0h0M12.0 26.7h0M4.8 33.3h0M5.7 27.9h0M8.1 20.4h0M9.0 21.7h0M3.2 32.9h0M9.7 15.1h0M6.7 31.8h0M9.6 34.1h0M8.5 36.3h0M7.9 21.8h0M11.5 26.3h0M7.5 36.7h0M10.1 43.0h0M6.5 26.0h0M12.9 16.0h0M2.8 35.5h0M7.7 20.4h0M10.7 36.0h0M12.5 27.3h0M8.0 26.5h0M12.9 9.8h0M4.8 36.8h0M5.7 29.0h0M8.2 35.4h0M8.5 18.4h0M17.8 13.4h0M9.3 28.2h0M13.9 20.5h0M6.7 22.0h0M6.2 32.4h0M5.9 27.2h0M11.8 45.5h0M3.0 19.4h0M5.1 43.0h0M4.2 49.2h0M7.6 44.8h0M5.8 26.5h0M11.5 36.5h0M1.9 26.2h0M8.2 36.6h0M3.3 47.3h0M6.8 44.8h0M9.9 31.2h0M9.2 18.2h0M10.6 38.3h0M12.7 26.9h0M5.3 25.7h0M7.4 29.8h0M13.7 21.5h0M5.6 36.8h0M8.4 52.9h0M11.9 21.9h0M5.9 21.5h0M8.4 32.7h0M9.3 23.9h0M8.0 29.2h0M10.7 31.3h0M7.3 17.9h0M14.3 30.1h0M7.9 29.8h0M13.3 27.7h0M9.6 27.8h0M12.3 20.3h0M7.7 40.6h0M12.0 37.0h0M7.2 46.1h0M9.0 44.6h0M5.8 18.4h0M12.0 27.9h0M8.4 20.3h0M16.1 19.0h0M11.2 16.2h0M4.3 52.6h0M18.5 26.6h0M2.1 45.9h0M8.1 11.7h0M11.6 19.5h0M1.3 40.5h0M7.5 19.0h0M9.5 28.3h0M12.6 31.8h0M12.7 42.5h0M13.5 42.5h0M8.0 35.6h0M11.1 14.5h0M2.9 36.9h0M0.9 20.4h0M3.8 28.7h0M4.2 32.0h0M8.6 25.3h0M8.9 7.3h0M10.9 17.2h0M6.9 33.7h0M11.4 37.8h0M16.4 16.8h0M8.6 46.3h0M11.8 19.2h0M10.9 25.2h0M4.4 40.4h0M9.7 18.8h0M2.9 49.4h0M4.3 36.4h0M7.4 42.0h0M9.0 20.5h0M7.8 19.4h0M5.3 42.6h0M11.3 28.7h0M10.5 33.2h0M10.2 47.4h0M7.4 29.6h0M5.9 42.3h0M8.8 38.2h0M13.0 24.3h0M6.8 44.1h0M10.7 38.8h0M8.1 26.4h0M5.8 26.9h0M10.6 15.7h0M14.1 23.2h0M8.5 36.3h0M9.4 11.7h0M11.5 34.8h0M5.8 41.4h0M13.4 21.1h0M11.1 12.4h0M5.3 44.1h0M4.1 37.9h0M3.4 26.3h0M9.4 47.9h0M9.1 38.0h0M8.4 32.8h0M9.6 24.0h0M8.7 28.9h0M10.0 37.4h0M11.3 36.6h0M2.7 43.5h0M10.6 25.0h0M17.3 20.3h0M5.0 24.4h0M8.9 38.4h0M7.9 36.9h0M6.9 23.7h0M11.2 16.7h0M9.9 26.3h0M12.7 20.4h0M7.5 24.1h0M8.8 19.9h0M9.7 16.4h0M9.5 37.2h0M8.8 28.2h0M6.7 20.0h0M9.2 20.9h0M3.9 31.1h0M9.1 26.1h0M5.6 29.1h0M6.6 25.4h0M8.1 37.5h0M12.3 24.5h0M14.9 19.3h0M5.8 43.1h0M17.2 32.8h0M7.8 26.2h0M4.3 28.0h0M8.2 22.3h0M14.3 23.0h0M13.6 39.6h0M11.9 24.6h0M9.8 9.8h0M10.0 27.6h0M11.1 23.6h0M12.7 15.4h0M13.9 27.4h0M10.4 14.6h0M3.7 36.7h0M5.9 29.3h0M4.8 50.0h0M14.0 17.4h0M8.6 18.3h0M4.5 22.5h0M12.6 31.3h0M11.3 29.2h0M6.9 30.7h0M5.2 49.4h0M14.7 35.0h0M14.0 10.5h0M4.3 37.8h0M13.7 26.9h0M8.4 25.4h0M11.5 30.8h0M12.3 42.9h0M8.4 23.8h0M9.1 21.2h0M7.1 29.2h0M14.4 14.8h0M4.6 21.6h0M6.7 34.5h0M3.2 44.8h0M6.9 27.6h0M6.9 41.9h0M9.6 30.6h0M6.3 31.5h0M10.6 26.8h0M11.4 11.6h0M4.7 41.7h0M13.9 30.2h0M5.4 40.0h0M4.1 43.5h0M14.5 20.1h0M9.6 17.8h0M10.2 26.3h0M4.6 18.7h0M11.9 15.0h0M11.8 35.3h0M5.6 44.1h0M4.0 36.5h0M4.0 26.1h0M11.8 25.1h0M7.1 36.6h0M12.1 44.1h0M10.7 27.8h0M11.8 30.2h0M10.7 33.7h0M7.8 30.0h0M6.5 41.8h0M8.4 24.5h0M9.9 37.0h0M9.7 33.2h0M12.2 42.2h0M9.7 28.1h0M14.0 11.7h0M7.7 22.7h0M9.8 26.3h0M16.5 39.0h0M6.4 53.0h0M9.0 26.9h0M11.8 39.2h0M10.0 42.8h0M8.2 23.2h0M5.7 30.7h0M13.9 20.1h0M8.7 16.3h0M14.7 39.4h0M11.3 18.0h0M5.8 23.0h0M10.7 17.3h0M5.7 42.3h0M8.4 31.1h0M1.2 26.1h0M9.1 23.0h0M3.5 28.6h0M5.6 24.0h0M2.8 28.2h0M13.2 22.2h0M12.2 15.0h0M9.8 35.9h0M5.7 38.8h0M5.2 30.1h0M14.8 30.9h0M2.5 41.1h0M11.0 27.6h0M0.5 44.2h0M11.0 21.7h0M10.5 45.6h0M4.6 34.5h0M1.8 32.9h0M17.5 16.9h0M9.8 23.7h0M8.0 30.9h0M8.1 39.3h0M8.8 41.0h0M10.5 41.8h0M5.4 33.9h0M8.5 21.4h0M15.3 34.2h0M12.1 8.9h0M6.4 37.8h0M8.7 24.5h0M14.5 27.8h0M7.5 28.9h0M6.0 40.6h0M10.8 29.7h0M7.6 27.6h0M15.3 28.0h0M13.5 14.5h0M8.6 37.3h0M12.7 34.1h0M10.2 33.7h0M9.2 51.4h0M10.6 22.0h0M10.9 29.3h0M9.7 38.3h0M9.8 25.8h0M11.7 17.7h0M11.0 21.3h0M10.0 31.6h0M9.7 17.8h0M9.8 23.3h0M6.9 37.1h0M14.1 17.6h0M9.8 44.4h0M12.2 33.6h0M5.4 47.7h0M9.8 14.5h0M8.4 33.1h0M6.7 17.2h0M15.7 32.4h0M12.3 24.7h0M3.2 27.4h0M14.6 24.1h0M2.2 27.3h0M7.5 30.1h0M5.2 26.4h0M5.1 38.7h0M7.7 39.0h0M11.8 8.5h0M10.4 39.5h0M11.1 12.0h0M6.1 33.9h0M14.2 27.4h0M7.7 21.9h0M10.9 39.5h0M7.5 14.7h0M3.8 21.8h0M5.0 22.6h0M8.5 34.4h0M9.3 13.8h0M8.1 23.0h0M1.7 30.5h0M5.9 11.7h0M12.6 40.5h0M13.7 32.2h0M7.2 29.0h0M2.3 36.8h0M10.0 27.2h0M1.8 27.9h0M12.2 45.7h0M12.3 27.1h0M8.2 35.8h0M7.6 40.8h0M9.8 6.2h0M1.1 19.5h0M2.4 36.0h0M12.5 30.7h0M10.4 31.2h0M9.9 25.4h0M5.1 41.9h0M7.6 29.5h0M11.4 40.8h0M6.7 32.4h0M4.6 30.9h0M9.7 30.3h0M8.6 33.9h0M9.6 25.2h0M5.4 27.1h0M14.8 28.7h0M6.9 24.9h0M3.4 34.3h0M3.4 38.8h0M11.0 36.4h0M12.5 29.9h0M2.2 28.4h0M13.4 14.8h0M2.3 40.5h0M8.0 44.0h0M10.9 31.2h0M8.8 39.0h0M8.8 28.0h0M10.2 27.1h0M18.7 23.8h0M5.0 16.1h0M13.1 26.6h0M9.5 28.0h0M11.9 15.6h0M9.8 24.3h0M11.6 37.1h0M5.4 19.6h0M8.7 42.6h0M11.6 29.0h0M8.1 19.9h0M3.8 35.2h0M9.1 33.2h0M7.1 36.3h0M12.4 24.8h0M13.5 21.2h0M17.2 17.9h0M9.2 19.0h0M6.6 43.5h0M2.9 47.7h0M13.2 34.9h0M4.9 38.9h0M12.2 30.3h0M4.0 27.1h0M8.0 47.8h0M1.7 30.7h0M14.3 24.0h0M8.8 17.5h0M10.1 39.0h0M10.4 33.0h0M12.4 29.5h0M9.9 38.9h0M12.6 36.1h0M7.7 37.4h0M5.6 11.3h0M14.4 32.5h0M5.6 23.6h0M7.9 30.8h0M4.1 39.8h0M1.8 46.4h0M13.8 13.4h0M3.9 30.0h0M10.3 26.0h0M8.3 31.8h0M4.2 30.0h0M18.1 24.9h0M3.7 36.3h0M11.9 41.5h0M6.3 29.0h0M9.7 28.1h0M8.3 41.4h0M10.6 30.3h0M4.9 48.2h0M0.7 49.8h0M11.2 31.5h0M2.8 48.4h0M11.6 40.1h0M9.4 27.0h0M5.7 30.4h0M9.7 35.8h0M10.2 16.5h0M9.7 36.7h0M15.0 40.9h0M10.5 18.4h0M8.1 37.9h0M8.3 44.0h0M5.8 22.4h0M11.2 17.6h0M4.0 43.9h0M9.8 29.2h0M6.3 30.3h0M10.2 19.1h0M13.6 17.5h0M14.0 27.4h0M11.1 21.4h0M13.2 45.4h0M15.1 40.5h0M14.7 24.7h0M14.2 26.4h0M10.6 16.1h0M8.1 34.3h0M10.1 18.7h0M10.5 40.0h0M6.9 38.1h0M13.9 20.6h0M11.4 11.0h0M3.9 33.9h0M4.6 33.6h0M13.3 9.1h0M4.2 45.4h0M8.4 31.4h0M8.5 13.2h0M9.3 21.0h0M12.1 10.2h0M11.1 48.6h0M5.1 33.0h0M3.7 38.4h0M5.6 28.1h0M12.7 36.3h0M9.8 14.3h0M10.4 31.0h0M13.1 32.4h0M5.9 28.6h0M8.2 29.9h0M10.0 27.7h0M7.6 19.4h0M2.1 24.2h0M5.7 10.1h0M8.3 8.6h0M11.8 43.8h0M1.5 50.7h0M10.3 19.8h0M2.3 26.4h0M12.3 35.4h0M4.0 22.4h0M3.7 41.5h0M9.8 19.9h0M8.3 9.2h0M3.8 38.9h0M0.9 30.9h0M6.8 38.5h0M2.6 38.8h0M2.3 28.8h0M7.5 31.3h0M3.3 38.4h0M5.8 23.5h0M11.1 32.0h0M3.6 42.5h0M8.9 41.0h0M5.8 43.3h0M8.6 18.2h0M10.8 15.6h0M12.2 38.5h0M1.8 30.9h0M12.4 26.9h0M11.1 24.3h0M8.4 29.2h0M12.0 20.4h0M3.6 32.8h0M5.7 35.2h0M8.7 16.2h0M10.9 33.3h0M11.9 27.0h0M5.1 43.0h0M10.6 29.8h0M7.9 36.4h0M5.1 32.5h0M7.9 10.3h0M9.1 31.3h0M10.1 36.3h0M9.9 38.8h0M2.4 42.1h0M2.5 36.5h0M10.4 41.2h0M16.7 16.6h0M9.2 35.2h0M14.8 21.6h0M9.2 26.3h0M8.1 28.5h0M10.8 11.6h0M8.3 30.8h0M6.9 22.9h0M2.5 46.2h0M12.4 28.7h0M4.0 34.4h0M3.7 45.2h0M13.0 29.5h0M12.2 22.2h0M1.0 37.9h0M15.4 27.9h0M9.4 11.1h0M18.8 18.9h0M5.1 27.5h0M13.1 31.4h0M8.4 30.3h0M11.9 30.2h0M9.2 29.4h0M2.0 43.4h0M8.0 15.9h0M6.8 30.2h0M14.1 15.3h0M3.3 31.2h0M11.8 18.9h0M3.8 31.2h0M10.6 13.2h0M2.7 45.0h0M2.7 40.4h0M15.8 24.5h0M4.8 36.2h0M2.8 35.1h0M12.8 33.6h0M10.0 28.7h0M13.7 22.2h0M14.7 30.8h0M9.9 12.9h0M6.4 32.3h0M16.0 14.1h0M9.1 22.9h0M3.9 29.4h0M4.1 38.7h0M11.1 26.9h0M10.6 20.1h0M5.7 21.8h0M9.7 21.3h0M8.3 20.9h0M11.3 18.4h0M8.3 31.1h0M13.4 23.0h0M6.6 13.9h0M12.5 24.1h0M12.5 29.9h0M10.5 10.6h0M4.6 37.9h0M5.0 36.8h0M11.8 17.4h0M7.5 23.0h0M12.5 9.2h0M3.9 37.8h0M7.8 37.9h0M13.7 18.7h0M2.5 34.1h0M8.5 30.9h0M3.7 40.2h0M8.5 42.3h0M6.0 37.1h0M9.8 20.3h0M10.9 12.8h0M7.5 31.8h0M12.9 19.6h0M4.6 21.7h0M1.6 22.0h0M6.7 22.6h0M17.3 19.1h0M8.2 29.2h0M6.9 22.2h0M3.4 20.3h0M11.2 45.6h0M6.3 37.3h0M10.1 31.5h0M6.0 42.7h0M11.1 28.1h0M6.1 39.7h0M7.4 22.3h0M8.3 24.7h0M12.8 34.6h0M9.0 24.6h0M13.2 35.6h0M15.1 40.8h0M8.6 24.3h0M7.1 31.8h0M10.8 35.6h0M17.1 15.2h0M10.9 15.3h0M5.5 23.2h0M7.6 19.6h0M0.8 41.0h0M5.7 39.9h0M4.8 38.9h0M5.7 33.9h0M2.0 43.9h0M8.4 41.3h0M5.3 43.2h0M9.6 25.1h0M5.9 30.3h0M7.0 17.1h0M7.8 37.6h0M6.0 38.7h0M16.7 17.9h0M11.1 20.2h0M5.7 31.6h0M10.8 36.2h0M8.0 49.4h0M5.3 41.2h0M13.3 36.1h0M1.9 27.4h0M10.0 13.1h0M7.0 37.9h0M7.8 28.0h0M15.2 24.6h0M4.8 29.9h0M11.9 37.0h0M9.6 25.0h0M11.8 40.1h0M1.3 32.5h0M11.9 23.9h0M4.0 26.2h0M0.8 34.9h0M9.4 11.4h0M6.5 42.4h0M4.2 25.6h0M15.2 33.1h0M6.0 31.7h0M13.2 20.1h0M10.8 13.1h0M4.9 13.1h0M11.2 33.8h0M9.3 43.2h0M8.3 32.6h0M9.3 35.2h0M4.8 26.6h0M7.9 30.4h0M5.8 28.2h0M9.3 32.2h0M9.4 39.0h0M9.1 40.5h0M9.5 45.1h0M11.9 24.0h0M12.1 38.4h0M10.6 18.2h0M10.8 26.7h0M10.5 7.6h0M16.4 18.9h0M3.5 34.3h0M12.0 22.2h0M8.1 32.7h0M8.2 35.7h0M12.1 26.7h0M8.6 19.6h0M10.4 36.6h0M7.8 33.3h0M10.1 27.9h0M11.9 16.7h0M3.9 49.1h0M1.3 19.9h0M12.6 26.4h0M8.7 14.1h0M8.3 28.2h0M8.6 13.5h0M8.4 34.5h0M12.1 36.1h0M12.4 43.5h0M9.8 19.1h0M8.6 40.3h0M4.5 16.3h0M12.1 24.8h0M13.8 33.2h0M8.6 15.9h0M13.6 12.6h0M5.6 15.6h0M12.3 48.9h0M8.3 26.0h0M9.2 43.5h0M1.7 52.5h0M5.8 41.7h0M2.5 50.3h0M9.8 16.7h0M17.2 24.2h0M10.5 17.1h0M10.8 32.5h0M8.0 25.7h0M7.5 22.3h0M1.1 41.8h0M14.2 16.2h0M3.3 33.6h0M17.6 29.3h0M7.7 27.3h0M9.8 28.4h0M11.1 41.0h0M8.0 46.8h0M8.5 24.2h0M11.6 19.2h0M16.1 8.9h0M8.6 25.9h0M2.5 41.1h0M6.2 34.5h0M6.2 31.3h0M6.6 30.6h0M9.2 22.9h0M10.5 28.4h0M6.5 18.6h0M8.0 44.2h0M4.1 24.9h0M8.5 41.2h0M13.2 18.2h0M7.2 39.5h0M9.8 27.9h0M3.7 31.1h0M8.2 30.4h0M12.4 43.4h0M5.0 32.0h0M4.4 43.0h0M3.9 42.0h0M4.9 35.9h0M5.9 44.4h0M7.2 45.6h0M8.9 46.3h0M11.2 46.3h0M5.7 43.4h0M1.2 49.8h0M6.2 43.2h0M6.8 46.0h0M3.4 47.7h0M6.3 51.7h0M8.8 50.0h0M2.9 44.7h0M6.2 42.1h0M4.6 46.2h0M4.8 49.0h0M7.8 53.2h0M1.9 53.3h0M9.0 41.3h0M12.7 45.3h0M5.3 44.1h0M3.4 53.5h0M5.9 46.2h0M8.6 43.4h0M2.5 45.3h0M2.8 51.6h0M4.4 42.8h0M3.7 38.1h0M5.6 48.6h0M6.9 46.9h0M6.3 43.4h0M5.2 48.9h0M1.4 51.0h0M5.5 48.4h0M5.1 44.3h0M2.5 51.1h0M4.5 44.1h0M2.9 52.8h0M5.4 53.4h0M5.0 42.2h0M7.7 49.7h0M3.1 46.5h0M2.2 52.3h0M3.8 50.5h0M5.9 46.8h0M6.2 46.9h0M1.5 46.0h0M1.6 51.9h0M7.1 45.2h0M7.0 49.3h0M8.0 43.4h0M5.2 43.1h0M6.6 52.0h0M2.7 37.9h0M8.4 52.6h0M4.5 51.2h0M3.5 37.4h0M4.2 49.0h0M5.9 44.5h0M4.4 42.4h0M4.4 48.5h0M6.4 42.3h0M5.3 48.1h0M2.1 51.7h0M10.8 51.5h0M7.4 53.4h0M4.7 53.0h0M2.7 49.0h0M4.2 46.6h0M6.5 47.7h0M5.5 52.1h0M2.8 52.5h0M6.2 46.8h0M1.4 45.0h0M5.0 52.8h0M5.7 42.5h0M7.7 50.1h0M6.4 43.2h0M1.8 52.6h0M9.3 49.9h0M4.5 45.9h0M2.9 53.3h0M3.0 51.0h0M9.2 44.6h0M7.8 48.1h0M2.3 49.1h0M7.0 44.6h0M4.3 45.3h0M2.8 47.1h0M7.6 45.6h0M8.8 46.2h0M3.0 53.4h0M9.3 44.9h0M6.8 42.3h0M3.9 46.2h0M7.2 41.9h0M3.6 44.7h0M5.4 42.0h0M5.7 40.6h0M7.6 41.6h0" stroke="#000" stroke-opacity="0.2" stroke-width="0.75" stroke-linecap="square" fill="none" filter="url(#b03)"/>
<line x1="71.4" y1="201.9" x2="126.0" y2="201.9" stroke="#777" stroke-width="0.9" stroke-dasharray="2 1.3 0.8 0.9 3 1.1"/>
<line x1="70.9" y1="202.1" x2="80.9" y2="202.1" stroke="#444" stroke-width="1" opacity="0.7"/>
<line x1="72.10000000000001" y1="153.9" x2="72.10000000000001" y2="201.4" stroke="#aaa" stroke-width="0.6" stroke-dasharray="1 2.3 0.8 1.9 1.5 3.1"/>
<text x="105.8" y="154.6" font-size="8.3" text-anchor="start" fill="#000" font-style="italic" textLength="19.5" lengthAdjust="spacingAndGlyphs" >#150</text>
<line x1="71.4" y1="19.3" x2="97.9" y2="19.3" stroke="#999" stroke-width="1.5" stroke-dasharray="3 0.6 1.5 0.5 0.8 0.7 2.4 0.5 2 0.8 3.1 0.5"/>
<rect x="152.1" y="20.6" width="55.80000000000001" height="54.9" fill="#fff" stroke="#9a9a9a" stroke-width="0.6"/>
<clipPath id="cp152_20"><rect x="152.5" y="21.0" width="55.000000000000014" height="54.1"/></clipPath>
<g clip-path="url(#cp152_20)">
<ellipse cx="181.2" cy="40.5" rx="5.8" ry="15.8" transform="rotate(6 181.2 40.5)" fill="url(#gg)" opacity="0.23"/>
<ellipse cx="155" cy="68" rx="5.0" ry="11.2" transform="rotate(0 155 68)" fill="url(#gg)" opacity="0.09"/>
</g>
<path transform="translate(152.1 20.6)" d="M30.2 50.2h0M22.7 48.9h0M17.4 13.9h0M3.4 31.3h0M26.8 41.4h0M29.9 17.6h0M23.1 31.5h0M30.3 49.8h0M31.7 43.4h0M24.1 39.9h0M18.8 30.7h0M8.3 35.1h0M13.4 31.2h0M8.7 30.5h0M20.2 27.4h0M13.6 33.3h0M21.3 22.4h0M19.7 19.1h0M30.8 30.7h0M15.7 41.1h0M17.1 19.9h0M16.6 38.3h0M12.5 33.2h0M18.3 36.9h0M31.6 42.2h0M26.1 51.1h0M4.9 23.1h0M10.5 34.1h0M9.2 11.4h0M10.7 37.0h0M23.2 33.9h0M20.7 28.1h0M22.8 45.8h0M30.5 27.6h0M11.0 26.4h0M33.3 25.6h0M9.0 17.5h0M37.1 51.2h0M13.4 33.7h0M25.2 24.0h0M35.4 45.7h0M2.1 34.3h0M21.5 31.5h0M15.1 32.8h0M19.3 36.6h0M10.7 34.9h0M9.9 24.0h0M3.7 13.6h0M19.5 29.7h0M17.3 52.4h0M19.4 48.7h0M26.8 48.2h0M21.6 44.3h0M0.6 20.6h0M22.0 36.1h0M30.4 46.0h0M0.9 26.7h0M12.9 27.2h0M15.2 35.0h0M18.0 48.2h0M27.7 50.0h0M25.1 41.8h0M9.4 30.6h0M6.2 30.1h0M20.0 33.0h0M12.7 20.7h0M11.1 36.8h0M19.1 37.7h0M25.7 35.4h0M22.3 46.8h0M13.5 26.4h0M17.9 15.9h0M28.0 42.2h0M19.2 36.6h0M21.5 39.3h0M17.5 33.2h0M7.5 14.5h0M15.6 30.4h0M31.4 25.6h0M16.0 43.7h0M5.0 26.7h0M17.6 40.2h0M31.4 36.3h0M16.4 31.7h0M25.8 43.4h0M23.2 44.8h0M10.4 38.9h0M26.2 35.8h0M13.7 29.0h0M0.6 41.0h0M7.4 35.9h0M21.4 18.9h0M21.6 29.4h0M9.2 41.6h0M12.8 20.2h0M5.4 37.9h0M16.7 25.2h0M22.0 35.8h0M19.2 38.1h0M23.3 25.5h0M10.7 23.7h0M10.3 37.7h0M16.8 24.2h0M13.0 50.0h0M9.6 41.5h0M12.6 23.7h0M25.9 41.6h0M19.2 42.0h0M10.3 25.9h0M7.5 32.8h0M33.1 36.5h0" stroke="#000" stroke-opacity="0.1" stroke-width="0.75" stroke-linecap="square" fill="none" filter="url(#b03)"/>
<path transform="translate(152.1 20.6)" d="M32.5 15.0h0M26.3 22.6h0M33.3 24.1h0M31.4 12.7h0M24.8 21.9h0M31.3 21.0h0M28.2 28.5h0M26.5 26.5h0M31.4 16.2h0M29.3 20.6h0M31.1 14.0h0M28.5 20.4h0M29.1 20.0h0M29.8 18.8h0M27.3 26.2h0M27.9 17.8h0M27.9 12.6h0M30.1 19.7h0M28.5 22.7h0M28.3 24.1h0M32.9 22.5h0M27.4 30.1h0M31.8 9.8h0M32.0 21.5h0M31.8 13.0h0M27.6 15.7h0M31.1 13.1h0M26.9 25.6h0M27.6 20.5h0M28.2 9.2h0M29.0 19.1h0M25.2 25.6h0M30.4 25.5h0M28.7 12.7h0M28.8 20.9h0M29.1 16.2h0M27.3 15.1h0M29.2 16.9h0M33.0 18.6h0M30.4 17.1h0M29.3 13.9h0M29.0 10.6h0M23.6 27.7h0M26.4 22.3h0M29.2 16.4h0M31.1 16.6h0M30.3 17.7h0M30.7 26.0h0M28.5 26.6h0M29.2 29.6h0M29.8 10.4h0M29.4 21.4h0M28.4 18.5h0M29.3 12.1h0M33.4 15.5h0M27.7 9.9h0M27.2 19.5h0M32.0 23.9h0M28.3 12.1h0M26.6 19.1h0M31.4 17.1h0M31.4 32.1h0M30.8 6.6h0M31.6 19.5h0M30.0 26.1h0M26.8 20.0h0M30.0 15.3h0M30.7 19.3h0M27.0 31.3h0M28.4 30.0h0M28.1 26.2h0M27.3 20.6h0M32.9 6.8h0M30.5 18.3h0M31.4 21.2h0M29.8 12.0h0M28.8 15.4h0M28.3 21.2h0M25.4 26.1h0M28.1 23.5h0M24.7 16.2h0M28.7 17.4h0M27.4 21.6h0M30.6 14.0h0M24.2 23.9h0M27.7 26.4h0M31.1 19.4h0M26.1 17.3h0M26.7 27.3h0M24.7 25.1h0M26.0 16.0h0M26.4 15.3h0M27.9 22.1h0M27.3 24.0h0M32.9 21.3h0M26.6 18.5h0M29.1 17.6h0M30.9 27.2h0M33.2 23.6h0M31.1 15.1h0M27.2 25.3h0M30.1 13.0h0M29.9 12.4h0M29.7 12.6h0M27.3 16.5h0M26.8 16.3h0M30.9 25.0h0M30.8 18.1h0M29.9 15.2h0M29.2 14.9h0M26.5 13.4h0M33.1 22.8h0M27.5 19.0h0M27.3 27.2h0M29.4 16.0h0M30.4 22.0h0M28.1 15.0h0M30.5 9.9h0M26.4 25.9h0M30.3 26.9h0M28.5 16.1h0M28.8 16.9h0M32.1 18.8h0M32.6 15.8h0M28.9 29.9h0M27.8 15.7h0M28.8 9.8h0M28.8 15.9h0M34.3 17.5h0M23.7 25.2h0M31.2 19.9h0M29.3 24.3h0M27.8 20.0h0M28.3 30.1h0M32.1 21.2h0M25.5 25.0h0M28.2 27.0h0M29.1 21.0h0M31.0 15.5h0M26.1 33.8h0M26.5 25.4h0M30.1 25.0h0M33.0 12.0h0M32.5 7.5h0M29.0 22.0h0M30.7 26.8h0M27.2 18.0h0M29.2 15.6h0M27.7 15.6h0M30.8 28.5h0M29.7 30.4h0M30.0 13.2h0M27.5 21.0h0M30.6 27.6h0M26.5 25.5h0M27.5 23.4h0M30.2 29.2h0M27.7 21.2h0M30.3 17.4h0M28.9 23.6h0M25.8 15.5h0M33.9 23.2h0M29.0 8.5h0M26.6 22.8h0M30.3 22.8h0M30.8 16.3h0M33.3 13.3h0M30.4 18.4h0M24.7 25.0h0M28.0 24.2h0M31.8 21.2h0M27.7 18.4h0M28.0 28.7h0M30.0 29.8h0M31.3 15.4h0M30.5 26.1h0M28.5 22.7h0M29.2 12.1h0M28.4 24.6h0M29.7 6.0h0M26.6 26.4h0M28.8 26.8h0M27.7 17.1h0M27.3 14.9h0M30.1 20.9h0M27.8 21.6h0M26.4 17.2h0M26.7 10.3h0M26.8 12.8h0M31.7 28.7h0M32.2 16.6h0M31.2 13.0h0M27.7 21.3h0M25.4 20.7h0M31.8 7.3h0M23.8 17.6h0M28.7 20.7h0M26.2 23.1h0M29.8 15.4h0M32.6 21.9h0M29.5 31.5h0M28.1 18.4h0M25.3 18.1h0M30.2 21.3h0M26.8 14.3h0M25.8 11.0h0M29.1 21.8h0M27.2 18.3h0M26.9 23.5h0M30.8 16.6h0M28.8 12.2h0M26.6 33.3h0M28.5 25.2h0M29.4 29.1h0M28.9 14.2h0M30.8 25.8h0M26.9 26.5h0M29.1 19.6h0M32.8 23.6h0M30.0 18.0h0M28.8 26.5h0M30.6 15.3h0M30.1 19.3h0M29.9 18.8h0M29.6 6.2h0M30.9 17.2h0M31.2 6.1h0M29.0 26.0h0M30.3 11.8h0M31.6 16.8h0M27.7 21.0h0M27.1 32.4h0M27.4 33.2h0M30.9 12.3h0M29.0 20.2h0M31.4 28.2h0M26.6 34.2h0M26.8 21.9h0M33.3 14.0h0M28.8 15.2h0M30.0 22.5h0M28.5 24.0h0M27.6 17.4h0M28.8 32.5h0M28.9 20.3h0M31.9 20.7h0M31.8 21.7h0M31.5 21.3h0M27.6 14.4h0M28.8 31.7h0M33.4 18.4h0M26.6 25.5h0M25.1 25.2h0M29.5 23.9h0M26.1 22.0h0M31.2 19.8h0M31.3 20.3h0M30.0 18.0h0M26.1 18.6h0M30.7 15.3h0M25.7 9.8h0M32.2 18.8h0M26.5 27.4h0M29.7 10.5h0M28.7 14.3h0M29.2 14.2h0M28.9 22.8h0M27.9 18.5h0M28.2 25.0h0M27.0 24.4h0M32.0 19.0h0M27.1 17.7h0M25.4 16.1h0M26.5 18.5h0M27.9 23.0h0M29.1 22.6h0M28.8 21.6h0M26.1 23.8h0M31.3 27.1h0M25.8 22.2h0M24.9 24.2h0M28.9 17.0h0M27.5 18.2h0M29.7 13.9h0M29.0 21.5h0M30.3 19.7h0M27.5 34.4h0M31.1 22.2h0M25.5 23.4h0M28.4 22.2h0M29.1 20.5h0M27.8 28.5h0M30.1 18.2h0M27.2 32.9h0M27.5 16.4h0M29.7 20.9h0M28.9 28.5h0M31.3 22.8h0M29.2 19.5h0M27.9 26.1h0M26.9 13.1h0M28.7 13.8h0M26.6 27.2h0M23.6 23.0h0M26.3 18.1h0M28.4 13.6h0M25.7 20.0h0M27.5 26.7h0M33.4 18.5h0M27.5 17.9h0M29.5 25.9h0M26.6 22.6h0M28.2 27.1h0M28.3 18.5h0M28.0 11.4h0M29.2 24.4h0M31.4 21.8h0M28.6 14.0h0M26.9 15.1h0M29.8 20.5h0M24.0 18.7h0M29.1 13.3h0M28.7 23.2h0M27.6 11.2h0M28.2 21.5h0M27.5 29.5h0M30.1 13.7h0M31.3 16.0h0M30.6 20.7h0M32.5 13.9h0M30.4 22.7h0M26.6 24.1h0M34.0 22.7h0M27.4 18.8h0M31.8 21.8h0M32.9 16.2h0M33.1 10.3h0M28.9 18.0h0M27.2 27.5h0M27.5 22.0h0M32.7 25.5h0M28.6 15.2h0M24.3 21.8h0M30.4 27.1h0M28.2 33.5h0M32.4 5.6h0M26.6 24.7h0M27.6 25.1h0M34.1 19.9h0M25.7 20.2h0M31.5 16.5h0M33.2 14.8h0M28.0 25.6h0M29.0 16.4h0M28.6 24.0h0M32.1 28.8h0M33.4 20.2h0M25.3 19.2h0M28.8 13.6h0M28.0 19.4h0M28.6 25.7h0M26.3 26.9h0M28.7 24.5h0M32.7 12.4h0M33.2 15.8h0M29.3 26.8h0M32.2 10.3h0M28.7 27.1h0M28.9 19.4h0M28.2 30.2h0M28.5 13.9h0M26.9 16.3h0M28.3 22.0h0M30.0 9.1h0M25.1 23.8h0M31.6 11.6h0M34.0 24.2h0M25.0 22.7h0M29.3 17.0h0M28.4 18.4h0M29.5 14.2h0M27.4 23.3h0M31.2 11.7h0M26.9 29.6h0M29.6 30.4h0M26.7 13.1h0M28.9 13.2h0M27.1 15.3h0M28.1 25.1h0M31.5 9.0h0M32.7 18.2h0M26.8 19.5h0M29.1 11.1h0M33.0 16.6h0M27.4 23.1h0M32.6 23.3h0M26.8 22.4h0M31.4 22.6h0M30.9 17.0h0M30.0 9.3h0M28.2 12.6h0M28.1 29.3h0M27.0 19.1h0M32.3 15.3h0M26.5 27.3h0M29.6 23.3h0M31.5 15.4h0M30.0 15.8h0M27.4 20.6h0M30.9 12.0h0M26.9 23.5h0M29.0 24.1h0M28.9 14.8h0M30.5 23.9h0M26.9 23.9h0M32.9 18.5h0M26.7 21.3h0M28.9 23.5h0M25.7 21.1h0M30.7 24.5h0M29.7 27.6h0M26.4 27.4h0M30.2 13.7h0M28.2 21.5h0M29.0 28.5h0M29.9 16.7h0M34.3 18.4h0M26.6 25.5h0M28.7 14.9h0M25.9 27.1h0M26.6 20.3h0M28.2 18.6h0M27.1 20.7h0M29.8 26.7h0M29.0 12.5h0M25.7 19.6h0M29.1 20.7h0M26.3 15.5h0M26.9 24.0h0M27.7 23.7h0M31.6 8.0h0M27.7 27.8h0M27.8 20.6h0M29.6 12.2h0M34.2 19.6h0M30.9 17.3h0M31.6 27.5h0M31.2 26.2h0M29.8 28.8h0M29.9 20.9h0M31.5 14.5h0M29.9 15.6h0M29.1 13.9h0M27.0 20.9h0M28.8 25.2h0M28.5 23.9h0M31.1 15.7h0M25.7 15.2h0M28.9 16.5h0M34.6 16.2h0M30.7 15.3h0M31.5 12.2h0M31.2 21.3h0M29.0 12.4h0M33.3 16.7h0M25.1 31.0h0M33.2 20.5h0M31.0 24.0h0M28.2 20.7h0M27.3 11.3h0M28.9 24.6h0M30.3 12.3h0M31.0 20.7h0M31.0 18.3h0M27.8 26.5h0M33.0 12.8h0M25.9 25.8h0M29.9 20.4h0M26.2 26.1h0M29.4 21.4h0M30.3 16.8h0M29.9 20.9h0M30.5 22.5h0M26.6 15.2h0M27.7 27.2h0M26.9 26.9h0M31.0 25.7h0M34.3 20.5h0M29.0 27.7h0M29.4 26.3h0M27.9 28.8h0M31.2 8.1h0M31.7 19.0h0M27.3 17.9h0M27.7 27.1h0M29.9 19.6h0M29.6 14.4h0M27.9 16.9h0M29.3 12.6h0M27.5 26.2h0M30.1 20.1h0M3.6 46.4h0M0.5 51.4h0M7.4 49.8h0M2.2 46.2h0M3.7 40.3h0M2.5 45.3h0M0.9 50.3h0M6.2 49.3h0M5.0 50.9h0M2.8 50.1h0M5.6 45.6h0M2.6 41.3h0M4.7 49.1h0M3.4 53.3h0M3.1 50.9h0M5.7 43.8h0M1.2 49.3h0M2.8 44.9h0M2.6 44.2h0M3.2 45.7h0M6.3 42.8h0M4.1 47.8h0M6.1 43.1h0M1.6 45.8h0M2.1 43.1h0M5.4 54.2h0M2.6 44.1h0M1.8 49.9h0M4.2 49.3h0M3.2 47.4h0M2.2 45.5h0M3.2 49.7h0M4.8 46.5h0M5.4 43.3h0M6.7 51.8h0M0.5 47.0h0M3.8 52.2h0M3.1 41.7h0M5.4 46.7h0M3.8 46.0h0M2.7 41.3h0M4.2 44.7h0M2.8 51.7h0M4.5 42.1h0M2.5 47.5h0M3.1 42.8h0M3.1 51.8h0M5.4 54.0h0M2.4 45.0h0M4.7 47.4h0M3.6 49.6h0M2.5 53.6h0M6.6 51.1h0M1.8 48.6h0M4.9 50.7h0M1.5 51.7h0M4.4 50.0h0M2.1 47.3h0M2.0 46.1h0M2.3 46.0h0M3.1 47.9h0M1.7 46.9h0M2.7 49.6h0M3.8 45.9h0M1.2 40.1h0M2.6 45.7h0M2.6 45.0h0M1.6 47.7h0M2.7 43.4h0M5.0 49.1h0M5.1 44.5h0M6.0 45.3h0M3.3 45.1h0M3.2 43.4h0M4.3 53.2h0M4.7 50.8h0M2.6 51.9h0M1.3 42.1h0M2.4 46.3h0M5.4 43.1h0M5.2 44.0h0M2.8 41.0h0M3.3 47.6h0M2.1 38.9h0M1.9 49.4h0M2.9 45.0h0M3.3 50.3h0M2.9 44.0h0M4.5 44.4h0M3.6 51.8h0M5.0 48.1h0M2.5 48.3h0M4.2 43.8h0M6.0 40.4h0M4.9 41.7h0M0.7 45.2h0M2.3 41.4h0M4.1 46.9h0M5.6 42.9h0M2.4 51.8h0" stroke="#000" stroke-opacity="0.34" stroke-width="0.75" stroke-linecap="square" fill="none" filter="url(#b03)"/>
<line x1="152.6" y1="75.0" x2="207.4" y2="75.0" stroke="#777" stroke-width="0.9" stroke-dasharray="2 1.3 0.8 0.9 3 1.1"/>
<line x1="152.1" y1="75.2" x2="162.1" y2="75.2" stroke="#444" stroke-width="1" opacity="0.7"/>
<line x1="153.29999999999998" y1="26.6" x2="153.29999999999998" y2="74.5" stroke="#aaa" stroke-width="0.6" stroke-dasharray="1 2.3 0.8 1.9 1.5 3.1"/>
<rect x="152.1" y="84.8" width="55.80000000000001" height="54.10000000000001" fill="#fff" stroke="#9a9a9a" stroke-width="0.6"/>
<clipPath id="cp152_84"><rect x="152.5" y="85.2" width="55.000000000000014" height="53.30000000000001"/></clipPath>
<g clip-path="url(#cp152_84)">
<ellipse cx="184" cy="105" rx="5.8" ry="15.0" transform="rotate(3 184 105)" fill="url(#gg)" opacity="0.24"/>
<ellipse cx="184.6" cy="124" rx="4.2" ry="20.0" transform="rotate(0 184.6 124)" fill="url(#gg)" opacity="0.07"/>
<ellipse cx="155.8" cy="131" rx="5.8" ry="12.5" transform="rotate(0 155.8 131)" fill="url(#gg)" opacity="0.37"/>
<ellipse cx="160" cy="128" rx="13.8" ry="17.5" transform="rotate(0 160 128)" fill="url(#gg)" opacity="0.07"/>
</g>
<path transform="translate(152.1 84.8)" d="M12.5 44.5h0M27.7 44.2h0M27.3 39.9h0M24.6 28.9h0M31.9 38.8h0M13.1 43.3h0M33.4 38.6h0M19.8 40.8h0M12.6 34.6h0M24.6 47.9h0M14.0 44.7h0M23.5 45.7h0M18.6 43.5h0M22.1 36.2h0M18.8 48.4h0M15.5 51.9h0M18.1 36.0h0M17.6 34.3h0M24.8 32.7h0M20.1 41.7h0M17.5 46.0h0M22.2 39.5h0M26.4 40.2h0M27.0 52.0h0M22.9 49.3h0M9.4 46.9h0M8.2 42.1h0M25.4 25.5h0M13.8 38.1h0M12.5 43.4h0M25.0 35.6h0M15.0 31.0h0M14.4 29.4h0M8.1 46.3h0M26.8 37.8h0M22.7 38.1h0M0.5 37.5h0M14.9 40.1h0M32.3 53.6h0M19.8 47.4h0M7.4 41.2h0M17.7 42.2h0M22.3 32.9h0M6.2 43.6h0M25.7 46.4h0M20.4 32.6h0M16.2 32.9h0M35.4 45.6h0M25.7 44.5h0M16.8 51.0h0M26.9 47.4h0M24.5 48.1h0M17.7 46.0h0M20.6 41.6h0M3.9 52.7h0M16.5 51.1h0M11.9 42.0h0M28.0 42.7h0M22.7 35.2h0M21.2 42.6h0M9.0 36.4h0M11.8 42.9h0M19.0 39.2h0M14.6 43.9h0M29.1 34.0h0M8.7 50.6h0M8.6 40.5h0M3.8 24.1h0M19.3 50.3h0M21.0 37.9h0M21.4 29.6h0M26.4 53.0h0M18.3 48.6h0M11.6 52.9h0M14.8 37.9h0M13.9 31.5h0M8.6 41.9h0M23.4 39.5h0M7.6 45.4h0M27.8 43.9h0M11.5 41.2h0M4.7 42.8h0M29.5 50.5h0M19.2 46.1h0M15.8 44.1h0M15.2 44.3h0M15.8 44.5h0M25.4 43.1h0M9.7 46.5h0M18.0 39.9h0" stroke="#000" stroke-opacity="0.1" stroke-width="0.75" stroke-linecap="square" fill="none" filter="url(#b03)"/>
<path transform="translate(152.1 84.8)" d="M32.9 11.0h0M30.9 17.8h0M27.6 19.9h0M33.0 12.4h0M31.1 17.5h0M35.9 24.4h0M33.6 20.8h0M28.7 25.5h0M31.0 8.8h0M33.7 18.3h0M31.7 23.3h0M31.3 22.6h0M34.9 18.5h0M31.1 20.3h0M33.5 17.9h0M32.3 16.2h0M31.6 23.4h0M30.1 19.0h0M28.8 15.9h0M31.9 23.4h0M29.6 19.5h0M29.7 22.0h0M32.4 22.9h0M31.9 11.8h0M31.1 12.2h0M30.4 19.8h0M34.5 16.5h0M30.1 21.3h0M28.1 26.0h0M33.8 26.0h0M31.4 24.5h0M30.8 25.8h0M30.7 15.3h0M32.9 17.6h0M33.7 15.2h0M32.8 14.4h0M31.0 32.9h0M29.9 12.8h0M28.4 18.7h0M35.7 17.7h0M34.0 19.2h0M29.9 32.0h0M34.9 9.5h0M29.6 22.5h0M33.4 19.0h0M32.4 23.4h0M30.8 26.1h0M29.8 24.6h0M33.9 21.5h0M31.1 20.1h0M26.9 21.5h0M29.4 8.2h0M33.9 14.9h0M32.7 20.5h0M28.3 14.7h0M31.2 22.9h0M32.5 12.8h0M30.7 20.8h0M29.2 17.5h0M31.3 7.6h0M35.5 25.6h0M30.6 25.7h0M29.1 29.1h0M31.0 21.0h0M30.6 20.7h0M32.6 20.4h0M29.8 24.6h0M33.1 20.3h0M34.5 16.0h0M34.8 19.4h0M35.4 17.8h0M31.3 21.4h0M33.9 28.8h0M31.1 15.9h0M33.2 27.6h0M33.6 18.4h0M34.7 20.2h0M32.1 23.9h0M31.3 6.8h0M32.2 24.5h0M32.7 23.5h0M31.9 26.4h0M31.7 29.0h0M31.8 24.9h0M30.6 21.9h0M32.8 21.1h0M35.3 20.7h0M34.3 22.4h0M34.6 15.0h0M30.8 25.9h0M30.0 22.4h0M33.1 21.4h0M32.7 23.5h0M31.3 22.6h0M30.9 17.5h0M28.4 19.4h0M28.1 20.2h0M32.7 13.8h0M32.0 21.9h0M31.4 14.8h0M31.5 22.6h0M33.4 31.7h0M27.4 22.0h0M33.1 16.5h0M32.0 32.6h0M31.7 28.3h0M34.4 17.7h0M35.9 10.0h0M31.7 16.1h0M32.3 20.6h0M34.6 16.9h0M31.5 23.9h0M34.0 18.2h0M27.6 21.2h0M34.2 8.2h0M30.6 23.5h0M26.6 18.8h0M28.8 12.1h0M32.5 27.0h0M34.7 16.5h0M33.6 9.8h0M28.4 23.3h0M31.3 14.1h0M27.8 18.6h0M29.2 26.7h0M27.8 16.3h0M31.7 26.9h0M31.2 31.0h0M31.9 19.5h0M32.8 22.3h0M28.9 14.4h0M31.3 22.2h0M29.4 15.8h0M30.1 22.1h0M30.8 23.7h0M33.1 14.8h0M31.6 12.8h0M31.9 25.0h0M30.3 9.6h0M33.1 18.5h0M31.7 22.9h0M32.5 25.7h0M31.6 7.1h0M30.9 18.3h0M30.9 22.5h0M30.9 27.9h0M30.5 20.1h0M30.4 32.7h0M30.1 14.1h0M30.8 24.7h0M32.0 19.2h0M31.5 18.8h0M35.7 22.6h0M32.6 26.0h0M30.3 12.8h0M30.6 29.0h0M34.3 16.8h0M28.8 25.6h0M34.7 13.8h0M35.7 15.8h0M33.6 19.1h0M31.4 16.5h0M33.3 24.0h0M33.8 18.6h0M29.3 32.9h0M35.8 19.3h0M28.9 29.0h0M32.2 20.6h0M33.7 22.4h0M31.5 32.1h0M27.5 23.8h0M29.7 20.5h0M31.4 21.8h0M26.3 24.1h0M37.3 18.0h0M33.7 24.0h0M32.7 17.2h0M33.2 21.9h0M34.9 25.3h0M35.1 23.3h0M32.5 16.6h0M32.2 18.0h0M32.8 28.4h0M32.8 25.9h0M32.4 22.4h0M29.0 20.8h0M32.0 19.8h0M31.3 22.0h0M30.7 19.0h0M30.3 12.9h0M30.8 17.7h0M35.3 26.5h0M30.9 23.5h0M29.9 10.4h0M32.5 23.7h0M30.3 20.1h0M34.2 21.3h0M32.1 23.7h0M27.6 12.3h0M28.9 21.5h0M31.1 8.9h0M34.0 19.2h0M33.5 32.3h0M28.5 12.4h0M33.9 28.8h0M32.7 22.4h0M33.3 24.2h0M28.8 24.5h0M34.3 17.9h0M30.0 17.2h0M30.4 23.3h0M33.7 20.4h0M31.8 9.6h0M31.2 14.2h0M30.5 22.2h0M30.1 16.9h0M29.4 18.5h0M30.9 26.2h0M27.2 25.4h0M33.5 17.2h0M30.3 21.3h0M33.1 19.3h0M31.5 20.3h0M29.3 21.7h0M33.2 20.6h0M29.3 20.1h0M31.5 22.1h0M30.7 25.1h0M34.1 25.2h0M32.1 27.5h0M31.9 19.2h0M28.6 20.1h0M35.0 14.7h0M34.1 12.8h0M32.0 31.1h0M32.4 13.3h0M32.6 19.4h0M33.9 17.2h0M28.1 17.2h0M32.9 26.4h0M32.5 20.4h0M33.5 19.1h0M30.8 21.5h0M34.5 17.4h0M33.2 16.5h0M30.2 21.1h0M29.1 15.0h0M29.4 16.5h0M29.1 33.8h0M33.3 20.7h0M33.1 16.6h0M34.4 18.0h0M29.1 16.3h0M28.8 11.7h0M33.7 17.2h0M33.6 17.0h0M31.5 17.0h0M30.8 16.3h0M35.3 20.1h0M34.4 26.9h0M31.7 19.3h0M30.8 20.9h0M33.0 20.3h0M30.3 14.5h0M35.2 30.3h0M29.2 16.3h0M31.6 23.6h0M31.5 21.6h0M32.4 26.9h0M28.6 26.5h0M32.7 23.4h0M28.5 18.7h0M31.1 23.9h0M33.2 24.3h0M28.5 27.4h0M31.7 25.7h0M32.1 16.1h0M33.8 17.6h0M31.0 26.7h0M32.4 30.5h0M34.9 14.1h0M28.0 26.8h0M33.3 18.8h0M31.4 16.9h0M36.0 19.5h0M28.4 25.3h0M31.6 22.3h0M31.0 20.0h0M27.4 23.1h0M30.4 17.9h0M32.2 27.7h0M27.0 19.2h0M32.8 26.2h0M29.7 22.0h0M32.5 25.7h0M30.5 19.1h0M30.3 26.8h0M34.5 17.8h0M31.5 21.5h0M29.8 19.5h0M33.6 24.8h0M30.5 16.4h0M32.0 11.7h0M32.5 21.0h0M28.9 18.7h0M30.4 18.6h0M29.4 28.0h0M29.4 24.5h0M31.9 28.6h0M31.7 20.2h0M32.6 9.4h0M37.4 19.3h0M31.5 13.7h0M31.1 29.5h0M30.0 22.7h0M33.9 25.8h0M31.5 10.2h0M32.6 23.6h0M31.2 17.8h0M36.3 11.4h0M30.9 16.7h0M28.5 16.1h0M29.7 27.3h0M28.3 12.2h0M32.9 11.4h0M27.5 16.5h0M29.4 14.5h0M31.4 22.8h0M31.4 37.2h0M33.7 38.1h0M33.7 34.8h0M33.3 49.0h0M31.9 36.7h0M32.2 42.8h0M30.4 39.6h0M31.5 50.1h0M29.5 44.2h0M31.9 33.6h0M32.7 37.5h0M32.5 41.1h0M34.5 36.2h0M35.3 18.8h0M35.6 48.5h0M35.1 40.8h0M32.9 31.6h0M34.7 30.5h0M31.1 39.3h0M32.9 41.9h0M30.5 36.7h0M33.3 48.3h0M33.8 42.4h0M32.0 35.2h0M31.6 38.6h0M33.4 35.5h0M36.0 31.7h0M33.9 37.8h0M32.2 36.4h0M35.1 37.1h0M33.4 40.2h0M33.7 43.8h0M35.3 33.8h0M31.1 52.1h0M34.6 39.9h0M32.0 41.2h0M34.7 33.5h0M34.9 38.9h0M31.9 36.3h0M28.9 41.7h0M30.2 35.1h0M31.0 41.1h0M33.7 39.6h0M32.8 42.4h0M35.2 43.7h0M35.1 38.8h0M33.1 34.4h0M33.5 32.9h0M33.3 34.5h0M31.9 48.5h0M32.7 45.3h0M32.1 25.2h0M35.0 38.0h0M31.4 46.5h0M30.5 33.7h0M34.4 34.1h0M34.4 37.0h0M32.1 39.8h0M31.6 47.4h0M34.3 39.8h0M33.5 43.4h0M35.3 27.4h0M34.2 46.2h0M31.9 39.4h0M31.9 48.7h0M30.5 43.9h0M34.6 43.6h0M31.7 35.9h0M28.9 31.6h0M34.3 32.2h0M29.7 37.5h0M29.9 42.8h0M31.0 46.5h0M32.3 28.6h0M31.2 34.5h0M31.0 48.6h0M30.8 42.1h0M31.5 43.8h0M30.0 27.5h0M33.3 50.1h0M30.1 37.0h0M31.6 32.3h0M34.1 39.7h0M30.1 37.7h0M34.7 34.0h0M31.6 33.1h0M32.7 35.1h0M34.0 33.1h0M30.0 42.7h0M27.1 32.2h0M32.9 41.2h0M31.5 36.0h0M31.1 38.0h0M31.7 43.5h0M3.7 48.9h0M7.4 45.0h0M3.0 48.1h0M8.5 44.6h0M7.5 51.9h0M1.4 48.2h0M6.7 46.5h0M2.5 34.9h0M1.8 44.1h0M3.6 49.8h0M5.2 48.7h0M6.4 46.5h0M2.4 46.1h0M3.2 43.0h0M3.6 43.2h0M5.1 43.2h0M4.8 47.8h0M4.0 48.8h0M2.1 49.7h0M3.7 44.2h0M7.7 51.5h0M3.0 48.9h0M6.0 45.5h0M3.1 40.8h0M4.3 50.4h0M2.8 49.4h0M4.0 44.1h0M0.9 51.5h0M1.2 41.4h0M4.3 49.4h0M7.9 47.1h0M4.0 48.1h0M2.9 44.9h0M6.1 38.1h0M3.4 48.9h0M7.2 48.0h0M5.3 49.6h0M4.2 48.0h0M1.8 45.3h0M7.9 40.5h0M3.3 40.3h0M2.4 42.6h0M0.9 47.4h0M1.5 48.8h0M3.3 36.4h0M3.4 48.0h0M4.2 52.0h0M4.0 38.1h0M7.1 41.8h0M3.5 47.8h0M1.7 46.7h0M7.1 38.3h0M3.3 40.2h0M4.6 40.0h0M5.0 46.0h0M4.1 39.9h0M3.2 48.5h0M5.2 45.9h0M1.2 44.3h0M3.1 48.4h0M6.7 35.8h0M1.0 46.3h0M5.9 48.2h0M6.8 49.1h0M4.8 53.5h0M2.7 43.7h0M1.4 47.4h0M4.7 50.7h0M7.0 49.2h0M6.5 45.1h0M1.5 49.7h0M6.0 52.6h0M3.3 44.0h0M2.9 48.0h0M3.6 45.4h0M4.3 44.9h0M4.5 43.4h0M8.0 42.4h0M5.8 52.7h0M2.4 47.5h0M7.2 47.1h0M2.0 46.8h0M4.4 44.3h0M3.0 42.3h0M5.0 47.2h0M4.5 43.8h0M4.8 44.8h0M4.4 45.5h0M2.2 41.0h0M3.2 40.7h0M6.5 40.7h0M3.5 43.2h0M5.5 39.3h0M4.4 47.3h0M5.0 48.3h0M4.1 37.7h0M3.0 41.7h0M4.9 45.1h0M4.0 51.5h0M5.6 39.1h0M2.4 52.1h0M2.5 52.0h0M2.4 45.6h0M6.1 38.6h0M3.9 44.0h0M4.8 39.7h0M5.9 44.0h0M4.1 51.8h0M3.0 50.8h0M4.1 41.9h0M3.0 39.7h0M6.4 47.0h0M5.9 40.8h0M5.7 40.5h0M4.3 46.2h0M2.3 47.7h0M3.8 42.0h0M2.0 39.9h0M6.9 46.9h0M2.9 49.6h0M1.7 40.6h0M4.4 47.0h0M7.7 38.7h0M3.5 39.7h0M0.9 45.1h0M2.3 47.5h0M1.4 45.0h0M5.6 35.7h0M3.0 44.8h0M2.5 45.6h0M2.5 41.2h0M5.5 42.0h0M7.0 48.6h0M1.8 49.1h0M2.4 49.0h0M5.8 51.8h0M1.3 45.6h0M3.7 40.3h0M4.7 49.6h0M0.5 43.5h0M1.2 40.0h0M1.2 52.9h0M2.2 44.3h0M6.0 51.2h0M6.9 36.1h0M5.4 37.7h0M2.2 44.2h0M3.3 51.9h0M3.3 45.9h0M4.9 48.3h0M4.9 37.8h0M4.9 47.8h0M5.1 45.9h0M4.6 39.9h0M6.3 40.3h0M6.9 51.1h0M3.6 44.8h0M5.5 44.7h0M1.0 47.6h0M0.9 44.0h0M7.8 50.1h0M2.7 45.9h0M2.2 46.1h0M3.7 43.2h0M2.7 43.9h0M2.4 43.8h0M6.7 49.5h0M4.7 48.0h0M7.2 49.7h0M4.2 47.6h0M4.2 46.3h0M3.1 35.4h0M5.0 46.4h0M5.9 47.7h0M3.0 49.1h0M4.1 44.0h0M2.8 44.1h0M3.0 44.0h0M3.4 51.6h0M2.6 45.4h0M2.0 39.6h0M1.7 43.7h0M4.1 44.6h0M0.9 44.4h0M7.2 41.9h0M3.8 51.1h0M1.8 43.4h0M2.5 47.0h0M3.9 46.9h0M4.8 44.7h0M4.0 39.6h0M3.0 53.5h0M4.2 43.0h0M4.0 51.3h0M2.2 44.1h0M3.5 43.4h0M3.9 46.6h0M1.0 43.2h0M0.9 47.6h0M4.3 49.4h0M1.7 43.6h0M6.2 48.4h0M5.1 47.3h0M4.6 50.8h0M3.1 50.2h0M5.7 48.3h0M4.3 40.1h0M6.2 41.9h0M2.2 42.1h0M5.0 41.5h0M4.7 48.9h0M3.9 44.5h0M5.1 52.6h0M2.6 41.1h0M2.3 41.9h0M3.2 45.4h0M1.8 44.1h0M1.4 47.3h0M5.6 37.4h0M4.2 53.5h0M3.1 50.7h0M4.4 41.7h0M6.0 43.2h0M4.5 44.3h0M3.2 46.9h0M6.7 38.0h0M1.1 46.7h0M5.9 45.3h0M3.3 48.8h0M7.3 41.8h0M5.5 39.8h0M6.3 50.8h0M5.5 42.1h0M0.7 49.4h0M4.3 49.5h0M6.3 51.0h0M3.1 46.2h0M4.7 49.8h0M3.3 43.7h0M1.5 51.2h0M4.5 43.4h0M0.8 43.7h0M0.8 44.0h0M2.4 48.7h0M1.4 37.4h0M2.3 39.5h0M5.4 45.2h0M3.6 46.0h0M4.4 51.0h0M6.2 45.6h0M0.7 44.4h0M5.2 41.7h0M6.6 41.5h0M1.1 50.2h0M3.5 47.7h0M3.0 46.3h0M5.2 45.6h0M4.8 50.2h0M2.5 47.0h0M4.2 43.5h0M1.9 45.2h0M3.0 44.2h0M5.2 46.5h0M7.6 50.4h0M2.9 42.9h0M4.8 44.4h0M3.0 45.1h0M5.1 47.1h0M8.3 42.6h0M3.5 47.7h0M2.7 43.7h0M7.7 39.2h0M4.5 37.7h0M4.5 36.9h0M1.0 51.7h0M7.2 46.8h0M4.3 40.8h0M2.9 39.8h0M3.5 45.8h0M4.0 50.0h0M2.2 35.5h0M1.0 40.1h0M2.9 44.1h0M3.6 52.8h0M3.8 41.0h0M3.0 42.0h0M3.1 49.0h0M1.1 49.6h0M7.8 53.5h0M7.4 46.6h0M3.6 47.3h0M2.9 41.7h0M5.1 39.5h0M0.5 48.9h0M2.8 42.1h0M4.8 53.0h0M3.0 45.5h0M5.0 50.7h0M6.1 49.5h0M2.2 48.8h0M3.7 38.0h0M6.5 49.0h0M6.8 45.9h0M5.4 45.9h0M4.1 50.6h0M3.8 49.1h0M3.6 52.1h0M5.2 38.2h0M7.5 48.3h0M2.5 43.2h0M8.3 46.6h0M4.9 49.1h0M8.5 42.5h0M6.3 38.4h0M2.9 46.5h0M3.8 48.9h0M4.6 48.0h0M3.4 47.7h0M3.8 52.2h0M3.9 45.5h0M3.3 40.0h0M8.5 48.2h0M4.0 44.0h0M6.6 44.6h0M2.6 43.6h0M7.2 47.7h0M3.4 43.1h0M6.6 47.6h0M2.9 50.5h0M5.7 41.4h0M6.3 51.4h0M3.2 39.8h0M6.2 44.6h0M3.2 44.8h0M3.1 50.2h0M1.2 48.8h0M6.3 51.3h0M5.4 47.5h0M3.3 45.6h0M3.4 41.4h0M5.6 53.4h0M4.3 44.7h0M1.2 49.3h0M3.2 43.0h0M5.1 40.0h0M5.4 34.6h0M2.3 39.4h0M3.2 50.0h0M0.8 52.7h0M2.2 43.9h0M6.0 42.7h0M7.0 45.2h0M3.5 41.6h0M6.3 45.9h0M2.6 41.7h0M2.3 45.8h0M2.1 50.0h0M3.6 43.3h0M4.8 53.0h0M6.2 46.9h0M5.6 38.9h0M2.0 51.0h0M3.5 46.5h0M5.1 48.0h0M4.7 43.9h0M3.1 52.4h0M2.6 39.4h0M2.9 50.5h0M7.8 46.9h0M2.3 49.1h0M4.4 51.8h0M4.9 49.8h0M4.9 48.2h0M1.7 45.4h0M7.3 52.5h0M5.9 48.1h0M3.5 47.9h0M3.0 51.4h0M3.0 42.6h0M2.0 42.1h0M5.2 44.6h0M5.0 42.3h0M3.2 46.4h0M3.8 49.9h0M5.6 44.9h0M4.3 42.2h0M2.4 44.6h0M6.0 42.9h0M1.1 45.3h0M3.1 40.7h0M2.0 44.3h0M4.6 49.1h0M6.7 45.0h0M5.2 46.6h0M1.3 43.2h0M8.7 45.5h0M7.5 50.1h0M7.5 45.3h0M5.9 44.8h0M1.3 40.7h0M4.8 38.6h0M4.6 42.1h0M4.6 39.7h0M5.7 45.1h0M3.9 38.5h0M4.5 48.5h0M2.3 52.8h0M7.0 47.7h0M4.8 48.4h0M3.2 52.4h0M2.6 34.3h0M3.8 48.3h0M5.6 41.0h0M6.9 42.3h0M5.2 49.7h0M4.2 51.6h0M4.9 44.2h0M7.2 43.5h0M1.6 51.5h0M3.9 41.7h0M2.7 46.5h0M2.4 53.5h0M3.5 48.3h0M2.8 42.9h0M4.4 51.6h0M2.9 41.1h0M0.8 48.7h0M5.0 49.3h0M2.4 44.2h0M7.7 44.4h0M4.1 50.9h0M7.5 48.0h0M2.9 37.7h0M2.1 44.7h0M6.7 47.7h0M6.5 46.7h0M3.9 43.5h0M1.1 48.6h0M4.6 48.9h0M2.6 44.2h0M4.6 49.1h0M8.2 42.1h0M6.0 50.4h0M3.2 46.9h0M3.7 53.4h0M3.2 50.7h0M4.9 45.3h0M5.5 50.3h0M2.9 50.2h0M3.1 47.0h0M0.6 53.2h0M3.0 46.9h0M3.7 49.8h0M2.5 49.7h0M2.0 39.2h0M4.9 47.0h0M5.8 37.0h0M4.0 43.2h0M3.4 44.3h0M3.0 43.0h0M6.1 38.1h0M8.3 42.6h0M1.8 40.7h0M1.5 52.1h0M5.3 50.5h0M4.6 47.3h0M2.5 41.6h0M3.0 52.2h0M2.2 46.4h0M7.6 45.9h0M5.2 43.5h0M8.0 40.4h0M5.0 45.1h0M4.2 47.9h0M6.7 50.4h0M6.1 48.0h0M1.4 52.6h0M7.2 48.5h0M5.6 45.1h0M0.6 50.9h0M11.8 43.1h0M4.9 43.9h0M2.8 40.7h0M16.6 41.2h0M17.9 42.6h0M10.3 37.1h0M6.5 40.2h0M11.3 42.7h0M2.3 43.4h0M2.5 36.8h0M5.2 23.9h0M0.6 42.3h0M8.4 38.2h0M17.6 46.8h0M4.8 32.3h0M9.0 38.7h0M13.6 36.3h0M14.5 40.1h0M9.1 41.4h0M11.4 50.9h0M5.2 37.2h0M18.2 49.6h0M18.3 49.6h0M4.5 40.4h0M6.0 47.8h0M3.6 42.0h0M3.6 41.7h0M14.1 50.6h0M4.3 46.3h0M5.5 28.4h0M1.8 51.5h0M7.4 45.0h0M14.8 43.4h0M4.7 39.1h0M3.1 46.9h0M5.6 46.6h0M19.1 45.6h0M7.5 51.1h0M9.6 53.5h0M1.9 48.3h0M2.4 47.8h0M21.2 53.4h0M3.5 46.0h0M10.5 38.4h0M9.4 36.1h0M13.2 49.3h0M7.2 47.8h0M20.8 42.1h0M5.6 38.0h0M12.9 49.9h0M4.7 40.4h0M10.3 25.1h0M6.9 43.6h0M2.9 44.7h0M13.7 39.0h0M11.1 42.2h0M7.2 44.0h0M16.1 46.7h0M11.7 44.2h0M7.9 43.9h0M5.3 32.9h0M16.5 30.9h0M11.0 35.3h0M7.0 39.8h0M4.7 38.1h0M5.5 48.4h0M16.7 49.4h0M8.0 42.2h0M6.7 43.1h0M4.7 42.0h0M12.6 41.7h0M3.7 42.4h0M8.5 42.7h0M6.6 47.9h0M7.8 36.5h0M11.1 38.4h0M12.2 48.7h0M10.6 45.3h0M0.8 41.9h0M8.7 47.5h0M2.0 42.2h0M8.4 44.0h0M16.9 48.1h0M7.0 39.3h0M5.6 48.5h0M12.9 39.8h0M7.4 40.3h0M11.7 44.5h0M4.1 37.3h0M15.0 33.8h0M18.9 39.6h0M12.6 47.0h0M12.5 50.8h0M5.5 43.1h0M13.3 46.9h0M3.9 38.2h0M5.1 32.8h0M5.0 45.4h0M9.0 41.7h0M8.9 47.6h0M1.5 37.8h0M13.3 48.1h0M15.8 48.3h0M7.2 50.0h0M15.4 52.7h0M5.3 42.9h0M6.1 44.8h0M16.0 50.6h0M13.4 43.2h0M16.9 46.3h0M9.3 43.1h0M7.9 49.2h0M20.3 41.9h0M1.7 50.0h0M9.3 36.9h0M13.2 43.3h0M2.9 26.3h0M2.6 45.8h0M2.4 49.7h0M19.9 45.4h0M9.2 42.7h0M12.7 43.4h0M13.6 52.7h0M12.6 36.8h0M11.6 41.5h0M9.7 49.7h0M4.4 44.6h0M16.0 37.6h0M7.0 48.1h0M6.7 50.1h0M2.5 33.2h0M10.1 42.3h0M9.7 49.6h0M13.7 40.9h0M5.9 30.3h0M2.7 44.9h0M9.2 33.3h0M12.3 43.0h0M14.0 40.9h0M13.2 35.8h0M11.8 46.0h0M12.2 46.6h0M6.0 36.8h0M2.5 42.3h0M11.2 38.9h0M9.6 48.0h0M6.3 38.4h0M11.7 42.0h0M9.7 42.4h0M12.7 43.1h0M9.2 42.7h0M3.2 28.5h0M11.0 34.9h0M10.2 47.5h0M18.2 38.3h0M8.8 49.5h0M4.4 39.3h0M13.9 49.6h0M2.8 47.6h0M14.2 34.8h0M8.1 41.9h0M11.5 31.7h0M11.8 43.2h0M6.5 29.2h0M11.5 46.0h0M12.1 32.0h0M9.1 52.2h0M4.0 46.9h0M8.5 32.4h0M2.3 51.7h0M7.4 51.4h0M9.8 49.1h0M5.8 44.7h0M6.0 49.2h0M4.9 50.6h0M16.5 35.2h0M7.1 46.8h0M17.6 50.8h0M8.5 31.8h0M12.6 39.3h0M9.0 45.9h0M13.0 47.0h0M11.2 45.6h0M12.4 41.0h0M8.1 45.7h0M8.5 44.9h0M10.6 43.2h0M2.0 41.4h0M13.2 38.7h0M10.5 45.2h0M3.2 24.5h0M7.9 38.1h0M4.6 49.4h0M3.8 45.5h0M8.6 44.5h0M18.8 30.2h0M13.2 42.3h0M6.5 38.8h0M8.2 43.5h0M3.9 42.3h0M1.1 44.2h0M9.9 50.4h0M13.3 39.9h0M16.7 42.5h0M5.8 36.1h0M10.9 52.7h0M10.1 50.4h0M11.2 49.1h0M15.2 41.3h0M3.7 35.3h0M7.1 47.9h0M12.3 37.4h0M5.9 52.1h0M14.1 45.6h0M10.9 25.3h0M11.0 45.7h0M10.5 42.4h0M12.3 49.0h0M8.3 41.6h0M1.6 50.7h0M4.9 45.3h0M16.3 48.3h0M1.1 42.6h0M4.1 32.4h0M3.6 47.1h0M9.8 41.8h0M8.9 35.5h0M3.8 42.1h0M12.3 41.1h0M1.4 34.7h0M2.8 22.7h0M2.0 33.6h0M1.4 34.1h0M1.3 22.9h0M2.3 31.3h0M1.2 37.9h0M0.7 26.8h0M2.2 38.8h0M3.3 28.8h0M1.3 27.1h0M0.6 27.0h0M1.2 41.2h0M2.1 42.5h0M2.2 37.9h0M2.6 35.6h0M2.9 40.7h0M3.1 33.8h0M0.8 51.1h0M1.3 36.1h0M1.2 27.0h0M1.9 23.8h0M1.4 42.8h0M1.6 38.4h0M2.1 35.1h0M1.6 36.8h0M0.7 36.6h0M0.6 26.5h0M1.0 22.1h0M2.0 37.2h0M3.5 33.5h0M2.2 26.6h0M2.1 23.6h0M3.3 25.0h0M1.1 37.8h0" stroke="#000" stroke-opacity="0.26" stroke-width="0.75" stroke-linecap="square" fill="none" filter="url(#b03)"/>
<line x1="152.6" y1="138.4" x2="207.4" y2="138.4" stroke="#777" stroke-width="0.9" stroke-dasharray="2 1.3 0.8 0.9 3 1.1"/>
<line x1="152.1" y1="138.6" x2="162.1" y2="138.6" stroke="#444" stroke-width="1" opacity="0.7"/>
<line x1="153.29999999999998" y1="90.8" x2="153.29999999999998" y2="137.9" stroke="#aaa" stroke-width="0.6" stroke-dasharray="1 2.3 0.8 1.9 1.5 3.1"/>
<rect x="152.1" y="147.9" width="55.80000000000001" height="54.5" fill="#fff" stroke="#9a9a9a" stroke-width="0.6"/>
<clipPath id="cp152_147"><rect x="152.5" y="148.3" width="55.000000000000014" height="53.7"/></clipPath>
<g clip-path="url(#cp152_147)">
<ellipse cx="179" cy="173.5" rx="6.0" ry="20.5" transform="rotate(5 179 173.5)" fill="url(#gg)" opacity="0.46"/>
<ellipse cx="176.9" cy="190" rx="5.5" ry="11.2" transform="rotate(0 176.9 190)" fill="url(#gg)" opacity="0.25"/>
<ellipse cx="163" cy="192.5" rx="22.5" ry="13.8" transform="rotate(0 163 192.5)" fill="url(#gg)" opacity="0.19"/>
</g>
<path transform="translate(152.1 147.9)" d="M28.8 19.3h0M28.7 30.1h0M25.7 20.1h0M27.2 18.6h0M30.7 8.4h0M27.5 23.0h0M23.9 30.2h0M25.5 29.0h0M26.1 23.3h0M27.5 33.1h0M29.3 25.6h0M30.6 23.3h0M25.0 10.9h0M24.1 18.6h0M22.5 27.8h0M27.0 25.3h0M27.5 24.8h0M26.5 23.1h0M27.8 16.9h0M28.9 37.8h0M25.4 43.2h0M24.0 32.4h0M22.7 29.9h0M24.5 33.2h0M26.5 33.0h0M28.0 29.8h0M25.2 37.8h0M27.4 29.4h0M30.4 23.9h0M30.3 34.3h0M28.1 14.4h0M30.0 23.5h0M27.1 26.6h0M28.7 30.7h0M23.1 20.2h0M27.6 27.0h0M28.4 30.2h0M31.2 20.4h0M29.7 28.8h0M27.2 31.0h0M25.6 31.1h0M25.9 31.1h0M24.3 34.5h0M23.8 20.2h0M26.6 27.5h0M25.3 22.3h0M26.8 33.8h0M30.3 22.2h0M27.0 23.2h0M23.6 21.9h0M30.5 15.5h0M30.9 27.4h0M21.2 28.5h0M31.0 21.5h0M29.4 31.7h0M28.2 31.6h0M27.8 30.8h0M29.4 29.1h0M28.1 29.1h0M27.8 18.9h0M23.4 17.4h0M25.0 13.9h0M28.8 23.2h0M29.0 22.2h0M27.9 24.1h0M26.2 41.8h0M29.8 35.8h0M26.4 39.5h0M28.3 32.7h0M24.6 20.6h0M27.5 24.0h0M27.0 10.0h0M25.2 24.6h0M28.4 17.4h0M25.4 39.6h0M28.6 10.5h0M26.5 25.6h0M29.8 27.4h0M29.9 28.5h0M28.8 36.3h0M30.4 27.5h0M23.9 26.9h0M28.5 20.3h0M29.0 24.6h0M28.7 27.3h0M24.0 33.6h0M31.0 33.2h0M28.7 12.3h0M27.7 25.5h0M26.4 10.6h0M27.3 33.3h0M27.0 43.5h0M22.2 28.0h0M25.9 36.7h0M27.5 18.1h0M26.5 29.0h0M25.7 19.4h0M27.0 32.5h0M26.0 29.4h0M26.0 22.9h0M26.7 33.2h0M30.7 25.0h0M26.6 41.0h0M29.1 23.0h0M28.9 14.7h0M22.5 19.3h0M26.2 15.1h0M29.6 22.3h0M27.1 26.2h0M27.2 16.5h0M26.4 31.0h0M26.5 24.8h0M27.5 27.6h0M25.4 34.0h0M27.1 37.5h0M28.5 10.2h0M23.4 21.3h0M29.1 13.1h0M24.8 35.2h0M28.2 20.2h0M26.6 26.5h0M26.2 23.1h0M25.3 27.2h0M29.6 37.3h0M27.6 14.7h0M23.4 26.5h0M27.9 20.7h0M25.2 23.8h0M27.1 30.9h0M29.9 7.3h0M25.4 27.6h0M27.3 31.9h0M22.4 37.5h0M24.3 23.8h0M26.2 21.9h0M24.6 31.8h0M28.5 28.6h0M24.4 20.5h0M26.5 28.7h0M25.8 23.4h0M27.9 6.5h0M24.1 38.2h0M29.7 16.6h0M28.7 27.1h0M24.5 31.7h0M25.7 23.2h0M26.8 27.3h0M25.7 27.9h0M26.8 27.2h0M28.3 20.8h0M23.8 24.8h0M29.6 28.5h0M28.0 19.9h0M25.1 15.8h0M25.1 22.6h0M23.4 24.4h0M22.8 30.4h0M28.1 12.0h0M25.5 27.3h0M27.3 31.8h0M26.2 24.4h0M26.0 29.8h0M25.4 24.3h0M27.5 23.0h0M23.5 36.0h0M28.7 18.7h0M32.0 20.1h0M25.2 22.6h0M27.2 37.4h0M29.7 30.2h0M26.6 30.8h0M25.6 20.0h0M28.0 27.3h0M28.2 17.8h0M28.5 14.5h0M29.1 25.9h0M25.8 21.9h0M24.4 36.2h0M26.8 27.7h0M25.6 15.3h0M27.8 22.3h0M27.4 34.0h0M26.3 29.8h0M27.2 27.5h0M25.6 27.4h0M27.9 26.3h0M26.9 14.3h0M23.4 37.6h0M29.1 28.2h0M27.7 24.6h0M27.9 33.3h0M26.2 28.0h0M30.2 13.6h0M25.2 21.0h0M24.6 22.0h0M25.3 22.4h0M28.8 16.6h0M26.2 36.4h0M28.2 16.2h0M24.8 34.6h0M26.8 20.7h0M29.2 20.3h0M24.0 30.2h0M27.4 20.6h0M27.3 34.3h0M29.4 26.7h0M27.7 29.6h0M22.4 38.3h0M25.8 21.2h0M25.7 18.0h0M29.5 25.9h0M26.9 11.3h0M27.4 25.3h0M24.6 24.7h0M22.3 30.3h0M23.8 29.3h0M28.6 9.2h0M24.8 20.4h0M28.4 30.5h0M27.3 38.8h0M26.6 21.7h0M23.3 17.3h0M28.8 19.2h0M24.3 32.9h0M31.1 12.0h0M28.0 25.7h0M29.3 23.2h0M25.7 36.6h0M25.3 28.8h0M28.5 24.9h0M28.6 29.9h0M30.0 12.6h0M24.4 27.8h0M28.7 37.1h0M27.5 19.9h0M25.8 10.3h0M25.4 30.1h0M27.8 14.2h0M26.7 26.1h0M24.2 36.9h0M27.2 34.3h0M27.8 18.1h0M28.7 34.5h0M26.5 15.2h0M29.2 21.4h0M24.3 24.8h0M28.7 20.0h0M26.3 33.4h0M29.7 13.7h0M27.4 39.6h0M29.1 25.2h0M28.9 13.5h0M26.0 21.5h0M31.7 26.1h0M23.6 38.7h0M30.9 13.1h0M27.6 12.5h0M30.9 8.2h0M31.9 17.8h0M23.1 42.0h0M27.9 28.5h0M29.6 18.2h0M29.1 23.7h0M28.0 27.6h0M31.0 15.9h0M23.3 30.5h0M32.0 30.4h0M26.1 30.9h0M24.1 26.2h0M23.0 26.3h0M27.4 39.1h0M25.2 32.8h0M30.7 17.8h0M27.6 11.2h0M24.6 28.9h0M22.5 23.0h0M27.6 37.0h0M21.0 28.2h0M27.1 7.6h0M24.2 30.1h0M26.4 31.2h0M25.8 30.8h0M25.4 17.9h0M27.8 12.0h0M29.9 24.0h0M25.3 18.7h0M24.6 26.5h0M25.5 32.4h0M24.4 24.9h0M23.8 21.8h0M30.1 25.0h0M29.0 25.4h0M25.0 18.6h0M24.1 28.1h0M30.2 32.7h0M24.6 26.4h0M23.3 43.9h0M24.5 34.7h0M23.3 31.4h0M24.5 21.8h0M27.2 26.8h0M26.8 25.2h0M25.0 24.7h0M27.4 18.4h0M28.1 27.2h0M24.3 35.7h0M26.9 10.7h0M30.1 23.0h0M30.0 29.4h0M24.1 34.3h0M27.4 33.0h0M26.0 37.9h0M29.3 23.2h0M23.5 25.0h0M27.8 18.0h0M25.5 37.4h0M25.1 34.4h0M25.5 17.9h0M29.2 24.5h0M26.7 33.8h0M31.5 16.3h0M28.1 27.6h0M26.0 39.8h0M26.8 21.0h0M29.5 9.9h0M28.4 18.7h0M28.2 19.9h0M28.3 23.8h0M24.9 29.8h0M29.7 13.2h0M24.2 23.3h0M25.1 36.0h0M30.2 29.7h0M29.7 23.3h0M23.6 27.8h0M21.8 38.1h0M26.7 34.9h0M26.6 12.9h0M26.1 29.5h0M26.8 21.6h0M27.2 24.2h0M31.0 15.7h0M21.9 24.5h0M28.6 13.7h0M26.5 29.1h0M27.5 28.1h0M26.2 14.1h0M29.3 23.1h0M22.7 37.6h0M32.7 27.3h0M22.6 32.9h0M26.8 35.5h0M28.1 12.6h0M26.8 22.3h0M27.7 24.3h0M29.0 16.2h0M26.0 21.5h0M29.0 12.3h0M25.3 44.4h0M22.1 33.4h0M26.5 33.5h0M26.9 27.7h0M27.4 29.3h0M24.3 24.4h0M30.1 37.2h0M25.6 18.0h0M25.8 34.0h0M29.4 21.2h0M21.5 24.8h0M22.3 34.7h0M29.8 31.2h0M27.9 30.2h0M30.4 34.6h0M31.0 16.9h0M25.7 25.5h0M22.0 22.9h0M26.9 25.1h0M32.8 24.5h0M26.5 24.7h0M27.1 14.4h0M29.5 26.0h0M27.7 26.0h0M26.2 12.9h0M25.9 29.8h0M26.1 31.4h0M25.3 23.2h0M27.3 24.9h0M26.3 37.0h0M25.9 26.6h0M25.0 29.8h0M27.9 19.9h0M25.4 16.0h0M26.2 26.8h0M25.9 24.7h0M25.6 44.2h0M27.1 27.4h0M31.1 29.0h0M28.8 21.8h0M25.1 31.7h0M26.0 20.3h0M23.3 27.7h0M26.3 29.9h0M25.8 15.7h0M29.4 26.0h0M29.5 16.7h0M26.9 33.5h0M28.7 39.9h0M23.5 16.7h0M26.2 19.3h0M27.0 19.3h0M23.6 25.0h0M27.7 19.6h0M27.9 15.4h0M26.4 22.9h0M25.9 24.9h0M24.9 14.8h0M24.5 31.2h0M25.4 18.1h0M31.6 24.0h0M26.6 18.6h0M29.9 30.1h0M26.4 38.2h0M25.3 12.1h0M29.2 29.3h0M25.2 31.8h0M25.3 41.0h0M23.7 28.2h0M28.5 32.8h0M26.3 22.4h0M25.4 31.0h0M26.1 24.4h0M29.3 24.9h0M27.6 24.7h0M28.5 8.1h0M24.5 28.3h0M25.9 20.6h0M25.4 43.7h0M25.8 17.9h0M22.5 28.9h0M27.4 19.0h0M25.3 33.3h0M29.0 28.7h0M28.9 33.8h0M25.3 31.8h0M26.7 31.7h0M26.1 42.5h0M23.8 28.2h0M22.8 43.7h0M26.0 22.6h0M26.9 25.3h0M30.9 25.5h0M26.7 34.1h0M31.0 18.3h0M28.5 15.2h0M27.1 36.9h0M25.9 23.3h0M29.3 29.3h0M29.1 22.1h0M26.4 22.6h0M31.5 14.1h0M24.6 37.9h0M27.5 16.9h0M27.6 23.9h0M26.3 29.5h0M29.8 13.9h0M26.3 37.5h0M23.9 24.6h0M23.8 30.7h0M25.2 22.8h0M25.6 29.1h0M24.9 14.2h0M26.4 36.4h0M25.4 28.8h0M27.4 26.5h0M27.2 21.2h0M25.5 35.1h0M27.0 35.9h0M25.1 26.4h0M26.3 15.0h0M29.2 23.5h0M28.4 14.4h0M26.4 24.6h0M25.3 33.6h0M27.9 26.8h0M27.7 22.1h0M25.5 23.2h0M24.7 24.0h0M25.8 34.6h0M24.2 44.9h0M25.6 26.5h0M27.3 20.7h0M28.0 11.5h0M29.9 21.2h0M28.1 11.1h0M29.1 15.5h0M30.7 17.5h0M24.7 30.7h0M31.2 10.1h0M21.9 38.1h0M29.0 13.6h0M25.4 31.1h0M24.9 37.6h0M25.1 26.8h0M28.5 37.7h0M27.0 30.3h0M26.2 25.0h0M25.3 28.6h0M29.5 17.7h0M24.2 25.7h0M31.3 27.8h0M27.2 25.3h0M23.5 19.6h0M31.8 16.3h0M30.4 24.8h0M28.6 21.3h0M25.7 27.1h0M26.9 16.8h0M25.8 30.7h0M24.9 28.3h0M23.7 26.1h0M23.7 31.5h0M24.1 30.3h0M22.2 26.6h0M30.0 19.2h0M27.6 18.7h0M27.5 31.8h0M28.6 36.5h0M30.4 20.0h0M26.8 29.9h0M28.2 15.1h0M31.2 24.5h0M32.8 17.6h0M27.5 32.1h0M23.8 22.6h0M27.5 31.0h0M21.2 28.0h0M31.6 13.5h0M27.1 33.1h0M25.8 12.6h0M27.8 22.1h0M26.8 23.9h0M26.4 28.1h0M25.7 25.2h0M26.2 18.4h0M28.3 18.9h0M28.1 25.5h0M28.9 30.5h0M22.3 24.9h0M28.3 26.6h0M26.2 34.3h0M29.4 14.9h0M26.4 33.7h0M28.1 15.3h0M28.2 30.6h0M29.4 27.2h0M26.5 32.5h0M23.1 39.2h0M27.6 27.4h0M28.1 32.1h0M21.2 32.6h0M27.2 19.2h0M28.3 33.3h0M28.2 20.6h0M27.8 17.9h0M27.7 38.9h0M25.3 21.1h0M21.9 23.1h0M23.7 26.6h0M26.4 25.6h0M27.3 21.8h0M27.2 25.0h0M25.5 22.9h0M26.5 15.0h0M28.1 10.5h0M28.1 25.4h0M26.4 35.0h0M29.4 22.2h0M26.8 35.3h0M26.2 28.6h0M28.6 17.3h0M27.8 22.5h0M26.0 29.0h0M29.0 18.4h0M26.4 23.9h0M24.4 28.4h0M26.9 19.8h0M29.1 25.1h0M24.3 24.6h0M26.2 27.9h0M31.6 30.5h0M30.3 24.5h0M27.6 29.7h0M26.5 27.5h0M25.3 31.1h0M23.6 39.2h0M26.3 28.5h0M28.4 12.5h0M28.5 18.5h0M27.6 22.2h0M27.3 13.2h0M24.3 20.8h0M24.3 27.3h0M23.5 27.1h0M28.7 19.6h0M24.9 22.6h0M27.7 37.0h0M31.7 26.7h0M28.2 27.2h0M27.6 16.9h0M25.3 34.5h0M30.5 20.9h0M21.8 40.5h0M26.6 29.2h0M27.8 10.9h0M28.3 17.8h0M26.7 20.4h0M24.6 44.9h0M31.7 10.0h0M23.7 21.2h0M24.8 31.7h0M31.0 20.0h0M28.3 24.0h0M21.5 34.7h0M31.4 19.3h0M28.7 21.5h0M27.0 21.8h0M26.5 25.9h0M25.3 27.7h0M23.3 31.9h0M26.0 10.3h0M29.0 22.9h0M25.0 32.9h0M25.4 41.3h0M28.9 14.1h0M26.2 20.0h0M25.0 39.1h0M27.5 30.1h0M28.8 7.7h0M28.6 41.9h0M25.7 25.2h0M25.4 23.8h0M25.7 16.2h0M31.0 10.0h0M30.0 16.5h0M27.7 9.2h0M29.1 17.6h0M27.0 31.0h0M25.2 18.7h0M24.0 29.9h0M26.8 33.9h0M24.2 17.7h0M26.9 21.9h0M26.8 34.7h0M27.7 19.1h0M27.3 19.7h0M24.1 40.5h0M27.1 40.5h0M26.4 25.0h0M23.8 27.2h0M28.0 31.3h0M24.1 26.2h0M29.3 21.9h0M28.8 21.6h0M27.3 20.9h0M24.1 18.5h0M27.5 23.3h0M27.3 20.9h0M29.0 24.3h0M28.1 21.8h0M29.9 25.0h0M26.3 43.5h0M29.0 13.0h0M25.1 28.1h0M24.9 13.3h0M27.7 12.7h0M29.1 29.3h0M25.3 35.3h0M26.2 15.8h0M28.9 25.9h0M25.6 33.9h0M26.1 30.8h0M26.6 35.0h0M28.5 21.9h0M30.6 23.0h0M31.8 15.6h0M28.6 7.5h0M27.1 36.5h0M25.6 29.3h0M25.3 37.2h0M27.4 28.5h0M30.5 13.5h0M28.4 26.8h0M29.8 26.1h0M28.3 25.3h0M25.0 21.3h0M27.4 14.8h0M27.1 21.7h0M31.2 24.0h0M27.1 26.4h0M29.6 12.7h0M21.8 38.1h0M25.6 18.2h0M29.4 28.2h0M24.5 31.5h0M23.1 38.5h0M25.9 28.2h0M25.5 41.1h0M24.8 24.6h0M25.6 27.7h0M26.1 29.1h0M30.3 16.6h0M24.5 36.1h0M27.4 33.7h0M26.0 18.4h0M24.4 23.7h0M23.8 31.1h0M24.9 29.6h0M22.7 32.5h0M27.8 33.4h0M25.9 44.3h0M29.1 26.2h0M30.8 23.0h0M26.1 38.9h0M25.8 25.5h0M27.3 27.1h0M25.6 33.7h0M32.1 22.9h0M23.9 21.5h0M24.6 15.0h0M23.8 34.0h0M26.7 31.4h0M25.9 33.8h0M25.0 36.1h0M28.8 27.6h0M24.3 16.4h0M28.2 17.2h0M26.6 24.3h0M30.5 20.4h0M27.5 21.9h0M24.9 29.0h0M30.1 14.3h0M26.9 29.8h0M24.8 22.1h0M27.7 24.9h0M30.7 18.8h0M26.0 29.8h0M26.9 23.6h0M26.4 28.8h0M29.4 17.2h0M25.6 16.3h0M29.2 10.7h0M32.9 21.7h0M22.2 42.0h0M26.5 29.6h0M26.6 23.5h0M28.0 19.7h0M26.2 25.0h0M22.3 30.2h0M27.0 30.2h0M25.0 31.5h0M25.3 31.8h0M29.6 30.9h0M23.6 25.9h0M23.2 41.1h0M28.3 15.4h0M22.5 36.0h0M24.3 28.7h0M26.3 24.4h0M25.9 25.6h0M31.2 18.9h0M27.7 29.6h0M26.1 16.7h0M24.5 30.1h0M26.6 33.9h0M27.7 26.6h0M26.8 27.5h0M26.5 31.0h0M24.2 34.1h0M30.7 25.2h0M29.0 16.3h0M28.2 14.1h0M29.1 26.2h0M28.6 34.9h0M24.7 32.0h0M26.3 30.0h0M25.0 30.6h0M27.3 37.4h0M26.5 26.1h0M28.2 24.4h0M23.3 21.2h0M28.5 25.9h0M28.9 13.5h0M27.9 30.1h0M30.1 32.6h0M26.0 19.6h0M24.7 21.5h0M25.8 35.7h0M30.6 26.6h0M28.4 24.4h0M23.6 29.6h0M26.4 12.6h0M23.9 37.4h0M23.3 36.3h0M23.8 24.8h0M28.3 22.6h0M24.7 25.5h0M30.3 31.3h0M27.0 30.3h0M28.7 36.5h0M26.9 18.6h0M24.6 26.0h0M26.2 25.6h0M24.3 36.9h0M25.5 19.2h0M25.0 16.7h0M23.7 18.7h0M25.9 31.2h0M22.5 28.8h0M26.6 25.6h0M21.6 29.1h0M27.6 35.0h0M25.4 35.5h0M27.7 18.3h0M27.4 33.6h0M27.5 25.4h0M25.9 31.0h0M22.5 27.7h0M24.3 21.2h0M26.5 35.6h0M27.5 18.3h0M25.6 20.7h0M27.8 42.9h0M28.1 15.0h0M28.8 26.6h0M25.8 27.2h0M24.1 27.0h0M26.9 35.2h0M32.0 21.0h0M28.3 19.4h0M26.4 34.9h0M28.6 23.4h0M30.4 33.1h0M29.7 26.6h0M30.1 24.8h0M28.9 26.2h0M28.0 13.3h0M28.8 30.5h0M25.4 26.1h0M27.9 30.9h0M21.1 37.1h0M23.2 40.7h0M29.5 27.0h0M27.2 28.0h0M24.9 37.7h0M25.7 21.3h0M27.5 12.9h0M30.1 16.4h0M29.8 33.5h0M32.0 21.3h0M26.5 22.0h0M29.4 18.7h0M27.8 7.1h0M26.9 27.4h0M32.1 19.4h0M28.8 30.4h0M29.7 17.0h0M29.0 27.2h0M25.6 22.2h0M31.7 12.6h0M20.9 27.3h0M26.6 37.9h0M28.7 25.5h0M26.9 10.8h0M28.6 20.9h0M25.8 28.2h0M22.2 24.6h0M24.1 41.6h0M25.8 34.7h0M25.7 12.7h0M29.2 23.0h0M23.0 34.0h0M29.3 11.9h0M25.0 41.8h0M28.1 14.7h0M24.0 36.7h0M30.0 31.6h0M22.8 32.1h0M25.3 21.4h0M25.0 34.3h0M27.7 30.5h0M26.2 21.4h0M29.9 20.9h0M25.9 30.1h0M25.8 33.7h0M27.8 31.0h0M32.8 21.7h0M32.8 15.6h0M25.9 19.0h0M27.7 36.1h0M32.8 21.8h0M29.6 24.4h0M27.5 9.7h0M29.6 18.2h0M28.9 20.3h0M28.7 18.0h0M26.6 40.6h0M28.8 14.5h0M25.0 26.6h0M29.7 15.7h0M25.9 12.1h0M30.9 28.4h0M28.0 22.1h0M31.1 30.8h0M25.8 35.7h0M28.5 23.4h0M26.1 25.6h0M31.2 14.2h0M22.5 30.9h0M28.4 37.8h0M29.4 13.4h0M28.7 27.2h0M25.7 12.2h0M23.2 25.9h0M23.6 28.3h0M26.1 30.9h0M29.6 18.3h0M25.5 31.7h0M24.7 33.9h0M27.7 33.2h0M24.9 32.0h0M26.3 27.4h0M28.8 21.1h0M28.5 5.9h0M24.8 30.6h0M25.9 7.9h0M23.7 22.9h0M28.1 30.2h0M23.3 28.7h0M23.2 34.4h0M28.3 20.4h0M25.9 24.9h0M24.7 35.2h0M28.1 21.0h0M29.0 14.3h0M27.5 22.9h0M25.6 25.0h0M28.5 13.5h0M29.2 20.8h0M26.6 39.5h0M23.2 39.2h0M24.7 41.3h0M24.2 34.1h0M24.7 35.9h0M28.8 28.6h0M24.2 34.1h0M28.6 16.7h0M28.3 24.3h0M27.4 17.4h0M26.8 32.8h0M24.4 32.1h0M22.6 26.1h0M28.2 17.7h0M28.2 14.7h0M31.0 29.3h0M30.1 18.1h0M21.7 24.4h0M30.2 24.5h0M29.3 29.2h0M26.9 34.4h0M25.8 22.0h0M29.1 29.6h0M26.5 16.5h0M29.1 24.5h0M23.6 28.7h0M26.4 44.7h0M24.2 31.7h0M25.8 25.0h0M25.7 37.5h0M27.8 24.3h0M24.7 33.9h0M25.0 28.9h0M27.3 31.9h0M28.5 28.1h0M30.9 32.5h0M25.9 17.9h0M24.4 36.5h0M23.3 38.4h0M28.3 20.8h0M24.7 24.6h0M28.7 25.1h0M28.4 27.1h0M30.4 21.8h0M27.4 16.2h0M26.9 17.2h0M23.6 23.4h0M30.1 7.0h0M25.0 13.7h0M27.3 30.4h0M27.8 24.1h0M25.0 27.0h0M25.1 23.5h0M28.0 23.6h0M22.6 33.6h0M26.0 21.6h0M25.7 25.0h0M26.3 28.6h0M27.7 41.2h0M22.2 24.2h0M24.8 27.2h0M24.6 25.9h0M27.6 25.3h0M27.0 31.1h0M24.6 25.0h0M28.6 33.5h0M29.7 18.9h0M24.7 33.6h0M26.7 28.0h0M25.5 33.1h0M28.0 17.4h0M28.0 22.8h0M25.9 30.2h0M27.7 20.8h0M24.6 21.6h0M27.5 15.6h0M23.8 44.8h0M25.4 26.0h0M24.4 22.7h0M27.4 27.0h0M23.1 25.6h0M23.9 34.4h0M25.5 38.7h0M28.6 16.0h0M29.4 21.7h0M26.6 26.4h0M23.1 35.1h0M28.0 17.1h0M23.5 29.1h0M29.3 29.2h0M27.9 22.2h0M29.0 30.3h0M25.6 20.3h0M21.2 34.7h0M27.3 32.0h0M24.9 43.3h0M25.2 18.4h0M29.9 33.5h0M28.7 24.9h0M26.7 26.8h0M28.3 20.7h0M28.0 40.3h0M26.4 17.6h0M23.8 36.6h0M25.9 19.2h0M29.5 24.4h0M26.3 31.4h0M29.3 27.8h0M30.9 20.3h0M25.2 31.2h0M29.6 11.4h0M25.7 31.3h0M25.3 40.5h0M23.2 27.0h0M26.2 12.3h0M26.4 25.1h0M26.4 20.3h0M29.6 17.2h0M26.5 14.0h0M30.6 13.7h0M31.4 18.4h0M25.6 39.1h0M23.6 36.3h0M24.3 21.6h0M27.9 28.6h0M27.4 28.3h0M31.6 12.7h0M24.7 32.7h0M24.1 19.7h0M28.0 26.5h0M27.2 18.4h0M25.6 17.4h0M23.9 26.5h0M28.5 18.0h0M28.2 14.8h0M28.0 23.1h0M26.6 27.3h0M29.7 27.7h0M25.3 26.9h0M27.4 30.2h0M29.9 19.2h0M23.8 30.7h0M24.0 29.2h0M24.2 18.6h0M28.0 23.5h0M28.3 27.9h0M27.2 30.4h0M22.5 34.9h0M24.3 18.2h0M21.4 25.3h0M28.1 22.7h0M25.8 7.5h0M29.0 16.3h0M25.9 27.7h0M26.4 29.1h0M30.1 31.9h0M24.6 25.2h0M27.0 18.6h0M28.7 22.7h0M27.0 31.1h0M32.1 21.2h0M27.0 43.7h0M30.3 28.6h0M25.1 27.0h0M25.8 22.2h0M23.2 23.1h0M21.6 33.5h0M25.9 40.3h0M24.9 42.7h0M24.3 43.5h0M24.4 44.3h0M23.1 42.5h0M28.3 38.5h0M23.1 46.5h0M25.5 42.9h0M25.2 40.4h0M23.7 44.5h0M25.2 45.1h0M25.8 52.4h0M25.0 48.6h0M25.1 52.5h0M26.9 38.8h0M28.1 39.7h0M26.9 38.8h0M25.6 43.0h0M20.8 46.7h0M26.4 39.9h0M25.0 34.3h0M24.0 39.3h0M26.7 43.4h0M24.5 47.5h0M23.5 45.7h0M24.3 44.4h0M24.2 48.7h0M23.9 51.5h0M26.5 38.5h0M23.9 48.4h0M27.9 36.8h0M25.2 45.1h0M29.8 45.3h0M24.4 46.5h0M25.0 38.4h0M24.7 41.3h0M24.4 42.7h0M25.6 38.8h0M26.2 35.1h0M26.2 44.5h0M25.7 35.5h0M23.8 43.3h0M25.8 45.7h0M21.6 42.4h0M27.1 37.0h0M22.3 40.2h0M24.3 41.1h0M27.5 43.6h0M20.8 45.9h0M25.0 46.2h0M24.8 48.7h0M25.1 40.1h0M22.3 46.6h0M24.5 34.4h0M26.6 48.3h0M20.4 45.0h0M26.2 50.2h0M27.4 39.0h0M25.8 45.7h0M21.7 48.9h0M25.9 46.2h0M23.0 46.2h0M24.7 41.0h0M24.9 44.0h0M21.6 42.4h0M25.6 35.0h0M26.2 42.4h0M22.6 37.4h0M22.2 46.4h0M23.0 43.3h0M23.9 46.5h0M27.5 46.6h0M26.2 47.3h0M28.4 38.5h0M25.4 39.5h0M24.9 41.4h0M25.1 45.7h0M25.4 47.2h0M24.0 49.1h0M29.6 42.7h0M24.4 44.8h0M26.4 35.6h0M25.9 33.1h0M22.6 43.5h0M25.5 37.0h0M24.9 48.3h0M21.4 45.0h0M27.5 36.3h0M27.3 44.5h0M24.2 42.6h0M24.7 42.6h0M24.4 39.1h0M26.7 50.2h0M24.4 48.9h0M23.2 36.6h0M26.2 43.6h0M25.8 38.1h0M24.0 47.1h0M28.2 43.6h0M23.4 48.4h0M28.8 38.7h0M22.1 40.6h0M23.5 40.8h0M22.8 45.5h0M25.4 36.5h0M26.0 43.4h0M22.6 43.0h0M25.5 39.2h0M25.1 40.4h0M20.5 36.2h0M23.5 40.1h0M25.7 50.0h0M24.3 52.4h0M23.9 43.0h0M24.3 34.8h0M24.6 41.5h0M23.0 45.9h0M25.6 41.1h0M22.9 43.9h0M23.1 38.6h0M23.7 46.8h0M24.2 41.7h0M24.1 45.2h0M24.4 46.3h0M24.5 46.3h0M24.2 39.1h0M25.6 41.6h0M23.8 49.1h0M23.7 38.9h0M24.1 49.1h0M22.0 47.8h0M25.9 40.7h0M24.1 39.2h0M20.5 38.3h0M21.8 35.2h0M23.8 45.2h0M22.8 41.0h0M23.1 41.6h0M25.6 48.1h0M26.0 44.2h0M27.6 45.8h0M25.8 45.1h0M26.5 37.8h0M22.9 42.9h0M21.0 41.3h0M24.0 44.0h0M26.2 48.5h0M19.8 43.5h0M25.4 49.1h0M23.4 44.4h0M24.4 38.2h0M25.2 46.9h0M24.0 43.0h0M27.0 41.7h0M24.1 43.9h0M25.6 44.4h0M27.3 44.6h0M22.2 35.1h0M24.5 50.2h0M24.8 40.5h0M25.3 45.0h0M27.3 36.7h0M26.3 43.4h0M26.4 47.5h0M20.0 46.7h0M25.7 39.0h0M24.4 47.4h0M21.6 46.6h0M26.4 50.6h0M22.9 39.7h0M26.8 41.2h0M21.2 44.8h0M25.7 38.8h0M20.1 45.0h0M25.2 38.3h0M25.0 39.9h0M22.5 45.7h0M24.7 42.7h0M22.1 39.3h0M24.1 39.8h0M25.4 42.7h0M24.2 41.8h0M25.5 47.2h0M22.4 46.9h0M26.6 46.1h0M23.5 43.5h0M29.1 36.4h0M26.4 41.3h0M28.2 43.2h0M26.5 39.7h0M23.6 49.9h0M22.0 40.1h0M24.2 36.8h0M26.0 36.9h0M24.8 41.4h0M20.1 43.2h0M21.4 42.7h0M19.8 40.1h0M26.4 43.8h0M16.7 44.0h0M9.4 48.6h0M0.8 46.5h0M4.3 49.2h0M13.4 44.9h0M18.2 43.7h0M9.4 46.9h0M17.1 40.5h0M6.4 40.9h0M15.3 47.4h0M12.1 37.8h0M3.3 37.0h0M12.9 47.9h0M17.7 36.7h0M14.6 46.4h0M13.2 41.0h0M22.7 45.6h0M5.4 34.9h0M8.2 37.4h0M9.8 50.6h0M19.9 49.2h0M6.7 38.5h0M9.0 45.8h0M9.1 43.4h0M11.6 37.0h0M19.5 38.4h0M11.4 40.1h0M22.0 41.9h0M2.4 43.0h0M17.9 38.1h0M8.9 50.3h0M9.3 34.6h0M6.7 48.6h0M0.8 43.4h0M4.7 47.3h0M31.7 45.5h0M7.9 42.7h0M14.7 49.4h0M12.3 47.0h0M11.9 38.2h0M17.1 50.0h0M3.6 35.1h0M5.2 46.1h0M22.6 46.3h0M10.9 46.4h0M11.6 49.0h0M4.5 42.6h0M6.5 47.9h0M27.7 46.1h0M11.8 39.8h0M9.7 53.1h0M17.5 42.2h0M12.6 39.9h0M15.9 44.2h0M17.2 52.2h0M5.3 49.6h0M14.2 42.1h0M12.8 52.1h0M11.8 50.6h0M13.4 52.3h0M9.3 43.2h0M15.9 32.0h0M6.0 53.8h0M24.4 42.2h0M3.9 47.3h0M23.7 41.0h0M18.0 42.2h0M19.8 47.7h0M23.0 44.6h0M17.7 37.8h0M2.1 48.0h0M11.4 50.1h0M30.5 41.5h0M5.1 51.7h0M13.8 43.3h0M16.4 44.1h0M12.8 44.9h0M11.4 41.6h0M12.1 40.9h0M10.2 42.9h0M13.5 39.8h0M9.6 42.7h0M2.0 44.6h0M16.6 49.2h0M13.3 44.3h0M18.9 43.4h0M16.5 35.1h0M20.5 43.5h0M14.6 38.7h0M10.7 41.2h0M12.9 43.6h0M12.6 32.3h0M6.1 36.2h0M28.1 37.6h0M7.1 47.1h0M7.8 46.4h0M18.8 41.3h0M15.2 44.2h0M1.2 50.9h0M10.7 45.9h0M19.4 40.2h0M3.7 53.2h0M17.0 47.4h0M2.3 41.5h0M6.8 47.1h0M6.2 43.9h0M11.4 52.7h0M5.5 45.7h0M17.9 38.1h0M1.3 42.3h0M23.2 42.0h0M12.1 51.0h0M3.7 42.6h0M0.9 40.7h0M19.8 41.8h0M1.4 48.4h0M13.1 44.6h0M29.1 46.6h0M21.1 37.8h0M10.1 52.2h0M17.5 50.1h0M25.8 53.3h0M23.0 49.5h0M11.6 49.5h0M21.8 39.3h0M20.3 49.4h0M22.3 50.0h0M6.6 46.5h0M29.0 47.4h0M4.7 40.7h0M24.8 46.7h0M4.8 43.7h0M7.3 44.1h0M27.2 40.9h0M15.4 50.3h0M29.6 41.3h0M8.1 42.5h0M3.7 43.5h0M12.2 49.2h0M13.9 47.9h0M15.6 44.3h0M19.7 45.7h0M24.4 35.6h0M27.0 45.5h0M13.3 52.0h0M13.0 42.1h0M11.8 39.4h0M21.7 49.9h0M31.3 46.4h0M17.9 49.9h0M17.1 47.1h0M9.8 43.5h0M19.3 42.6h0M15.3 40.2h0M10.5 51.1h0M6.1 44.6h0M16.3 51.5h0M4.9 43.7h0M13.9 42.3h0M11.6 42.5h0M16.4 41.8h0M6.5 36.9h0M3.8 36.2h0M9.6 50.5h0M3.8 47.4h0M8.1 42.9h0M2.1 43.2h0M7.7 40.1h0M23.9 47.5h0M9.4 46.5h0M32.1 48.2h0M6.0 44.5h0M21.5 47.3h0M8.4 45.3h0M0.6 42.9h0M7.1 43.3h0M23.5 44.9h0M21.6 44.7h0M5.9 44.0h0M21.1 52.7h0M12.4 51.9h0M6.3 48.4h0M2.5 50.3h0M5.7 48.4h0M26.0 43.2h0M11.5 39.2h0M9.1 36.5h0M17.6 44.3h0M21.7 44.7h0M8.8 40.0h0M16.8 44.0h0M19.8 44.1h0M10.3 41.6h0M6.0 44.6h0M12.7 37.9h0M21.3 41.0h0M5.2 44.6h0M26.2 44.7h0M23.2 40.2h0M7.3 48.5h0M15.0 33.5h0M0.6 42.2h0M4.2 41.0h0M7.9 45.5h0M2.5 51.4h0M9.3 36.3h0M15.4 49.9h0M15.1 44.9h0M16.5 53.7h0M17.0 50.3h0M6.4 52.6h0M4.5 46.6h0M18.2 39.4h0M6.6 32.4h0M7.7 37.2h0M11.5 41.9h0M4.6 42.7h0M7.1 44.6h0M8.5 51.1h0M23.3 43.4h0M14.2 39.5h0M16.5 47.8h0M5.7 38.3h0M15.7 47.1h0M2.6 32.6h0M0.7 46.9h0M22.6 39.1h0M5.7 38.5h0M14.2 40.1h0M26.4 47.9h0M9.1 42.3h0M20.2 42.4h0M7.4 45.2h0M20.6 52.6h0M7.8 37.7h0M2.6 43.6h0M16.9 46.9h0M12.8 36.3h0M11.9 41.7h0M2.4 48.0h0M22.4 45.6h0M16.3 50.2h0M11.3 42.2h0M24.7 41.1h0M8.3 46.5h0M7.2 39.2h0M21.0 44.5h0M4.7 41.3h0M16.4 49.1h0M12.9 51.0h0M11.0 53.4h0M19.4 38.1h0M10.3 46.4h0M11.0 39.0h0M15.4 44.2h0M7.6 49.7h0M10.8 45.6h0M19.8 43.3h0M11.3 44.1h0M19.4 40.9h0M14.6 40.5h0M11.9 50.7h0M4.1 47.2h0M11.9 45.8h0M15.9 45.0h0M5.0 38.5h0M17.9 46.7h0M29.1 41.1h0M17.7 41.5h0M6.9 41.2h0M4.0 39.3h0M8.4 43.7h0M11.7 49.1h0M3.2 44.1h0M3.4 49.1h0M3.1 42.6h0M4.2 50.5h0M7.8 42.6h0M3.0 50.8h0M6.3 33.0h0M9.5 37.2h0M5.4 41.8h0M3.2 42.2h0M7.7 48.0h0M7.2 50.8h0M26.3 48.9h0M12.0 51.2h0M6.4 37.7h0M23.1 39.6h0M2.0 45.3h0M3.0 48.3h0M11.9 43.4h0M6.3 52.6h0M23.4 50.8h0M15.9 40.8h0M21.9 42.0h0M25.8 37.4h0M16.9 43.9h0M7.7 43.0h0M5.4 43.7h0M7.6 45.7h0M8.3 51.6h0M16.3 50.1h0M9.9 48.1h0M5.3 45.4h0M2.5 42.6h0M14.3 41.8h0M3.8 43.8h0M14.0 46.9h0M0.8 42.2h0M0.9 39.0h0M17.4 43.0h0M18.7 53.1h0M22.0 48.6h0M17.8 49.4h0M14.2 46.7h0M7.6 35.1h0M15.3 48.3h0M11.0 48.8h0M9.8 44.1h0M16.6 35.1h0M23.4 42.4h0M15.9 48.0h0M25.2 53.9h0M12.5 35.5h0M16.5 43.9h0M4.1 49.3h0M2.8 40.4h0M10.9 49.4h0M9.3 42.7h0M12.7 42.5h0M15.2 50.7h0M12.0 47.2h0M4.8 52.0h0M14.7 42.1h0M10.0 40.2h0M6.9 46.5h0M16.8 41.9h0M1.0 48.6h0M27.4 45.3h0M13.0 46.6h0M12.1 39.0h0M5.9 42.4h0M21.3 46.6h0M6.2 42.6h0M17.9 41.4h0M3.6 42.8h0M3.5 48.8h0M10.5 50.2h0M15.5 43.4h0M13.4 33.0h0M0.5 33.2h0M13.6 36.5h0M16.2 43.4h0M23.5 45.9h0M28.6 49.3h0M17.3 48.9h0M23.8 47.9h0M14.2 46.4h0M12.4 47.7h0M24.9 35.6h0M6.6 36.5h0M5.4 46.1h0M12.2 46.7h0M17.1 47.0h0M7.6 43.9h0M1.1 42.1h0M9.7 46.7h0M9.9 36.0h0M9.1 47.8h0M11.4 42.3h0M2.6 45.8h0M11.9 46.3h0M7.1 51.4h0M12.1 49.2h0M7.9 47.1h0M8.9 51.0h0M5.2 47.5h0M13.4 35.8h0M20.8 41.4h0M18.0 42.3h0M17.4 39.4h0M12.7 35.0h0M7.9 51.7h0M5.7 45.6h0M8.4 47.1h0M7.0 38.9h0M7.3 42.8h0M1.2 43.7h0M1.7 41.9h0M13.1 45.8h0M8.2 46.8h0M25.5 46.5h0M11.4 44.1h0M13.3 48.1h0M18.8 47.2h0M5.0 44.0h0M3.6 51.9h0M4.3 35.7h0M8.3 39.9h0M12.0 45.4h0M2.8 36.1h0M7.3 37.5h0M8.5 45.5h0M6.7 45.5h0M6.7 53.6h0M20.1 37.8h0M15.7 43.4h0M10.2 36.8h0M6.6 43.7h0M6.2 32.2h0M11.5 42.6h0M9.0 38.3h0M2.3 46.1h0M5.2 48.4h0M14.0 47.4h0M2.9 39.3h0M7.6 51.1h0M7.2 51.7h0M7.7 50.0h0M18.7 46.1h0M11.3 42.8h0M8.0 48.3h0M24.0 40.9h0M20.6 42.0h0M7.3 42.6h0M9.7 40.3h0M4.7 43.3h0M1.9 44.2h0M18.8 40.0h0M11.6 40.4h0M7.4 49.9h0M16.0 45.0h0M4.3 51.8h0M16.2 46.7h0M15.3 43.3h0M16.2 50.8h0M18.3 38.9h0M1.6 46.4h0M15.3 44.4h0M9.0 42.4h0M18.8 32.9h0M10.8 41.2h0M14.9 42.8h0M24.8 45.5h0M5.2 35.7h0M7.5 44.2h0M23.5 46.5h0M11.5 39.5h0M11.7 39.3h0M6.0 37.2h0M19.8 51.0h0M13.8 35.6h0M2.6 39.2h0M17.8 43.9h0M2.6 36.9h0M3.6 45.4h0M7.8 47.2h0M14.5 38.3h0M17.1 44.6h0M23.8 43.7h0M6.8 43.8h0M20.6 47.2h0M20.1 50.0h0M9.2 43.2h0M19.6 38.2h0M12.7 49.8h0M2.3 34.2h0M31.6 39.6h0M23.6 48.5h0M15.9 40.5h0M15.8 40.5h0M15.0 40.3h0M13.6 46.2h0M5.3 49.4h0M15.3 43.6h0M9.7 42.0h0M14.7 45.6h0M22.1 39.3h0M7.9 42.8h0M24.8 46.3h0M20.9 47.6h0M12.5 46.5h0M19.7 46.9h0M15.9 44.1h0M3.7 46.3h0M6.7 47.5h0M21.7 52.6h0M13.7 38.7h0M6.8 38.1h0M13.9 44.5h0M11.7 34.4h0M22.6 47.1h0M10.8 42.5h0M6.7 39.9h0M19.1 33.5h0M11.8 48.7h0M17.5 36.3h0M22.9 43.5h0M8.1 46.2h0M19.9 45.0h0M7.4 45.6h0M10.7 39.4h0M27.3 52.5h0M23.5 39.3h0M5.3 37.0h0M9.4 51.6h0M18.8 44.7h0M12.6 47.0h0M9.4 38.7h0M4.5 53.4h0M2.3 38.2h0M15.6 42.6h0M7.6 45.3h0M9.5 35.5h0M19.0 45.6h0M25.8 49.0h0M5.6 42.0h0M4.4 32.5h0M17.2 40.8h0M19.4 45.4h0M9.7 53.2h0M2.4 53.9h0M21.0 41.6h0M26.4 46.7h0M13.9 42.3h0M10.4 42.2h0M7.8 48.7h0M18.1 51.2h0M21.5 44.0h0M17.5 43.1h0M16.0 47.8h0M14.2 40.2h0M3.9 41.1h0M14.3 42.4h0M14.7 51.9h0M16.2 36.9h0M17.4 52.5h0M11.3 47.1h0M8.3 49.8h0M6.4 44.5h0M5.0 40.6h0M21.2 44.2h0M18.9 35.9h0M27.8 50.8h0M30.7 42.1h0M16.4 46.5h0M8.7 47.7h0M10.7 47.1h0M2.2 53.6h0M18.8 39.3h0M15.4 41.4h0M1.0 39.5h0M10.2 51.2h0M13.5 38.5h0M18.0 39.9h0M10.5 45.1h0M11.1 41.5h0M8.6 42.7h0M21.4 45.7h0M14.9 44.1h0M17.1 38.9h0M1.0 41.4h0M7.4 41.3h0M12.1 50.9h0M3.0 36.1h0M10.1 48.1h0M23.8 49.6h0M12.2 44.8h0M17.9 44.1h0M8.3 46.7h0M14.9 47.3h0M14.7 36.3h0M6.1 35.6h0M4.0 43.8h0M13.2 40.7h0M26.0 45.6h0M15.3 40.4h0M22.7 43.1h0M3.8 43.4h0M21.0 40.2h0M9.0 49.2h0M8.5 49.3h0M21.8 41.8h0M0.5 38.1h0M22.2 47.5h0M11.7 42.4h0M20.4 41.9h0M13.2 44.4h0M9.3 50.9h0M6.6 52.9h0M4.2 49.4h0M2.3 43.2h0M17.6 40.3h0M15.7 44.5h0M22.5 49.3h0M13.1 43.5h0M3.0 52.0h0M8.8 37.7h0M3.8 34.3h0M3.2 42.1h0M13.1 49.4h0M18.2 34.7h0M6.6 47.7h0M13.9 44.4h0M3.9 48.2h0M10.1 43.1h0M9.8 43.2h0M13.5 50.3h0M11.5 41.0h0M9.8 43.6h0M15.2 48.5h0M25.4 49.2h0M31.5 46.9h0M5.8 51.9h0M16.3 40.0h0M2.3 52.3h0M17.5 33.2h0M4.2 47.4h0M3.0 35.5h0M6.2 41.6h0M13.2 35.2h0M13.0 42.4h0M6.8 46.7h0M24.6 46.6h0M19.0 45.6h0M5.6 45.5h0M18.1 46.7h0M4.7 38.0h0M4.1 42.9h0M3.5 45.1h0M6.5 45.1h0M10.4 44.2h0M14.2 41.6h0M18.0 45.6h0M10.2 44.5h0M20.1 44.2h0M24.5 45.1h0M12.8 44.4h0M13.3 46.9h0M5.1 48.7h0M11.7 40.1h0M3.9 40.0h0M13.0 40.7h0M24.9 42.1h0M2.7 39.6h0M9.8 43.6h0M18.9 40.6h0M13.6 49.5h0M8.1 35.1h0" stroke="#000" stroke-opacity="0.2" stroke-width="0.75" stroke-linecap="square" fill="none" filter="url(#b03)"/>
<line x1="152.6" y1="201.9" x2="207.4" y2="201.9" stroke="#777" stroke-width="0.9" stroke-dasharray="2 1.3 0.8 0.9 3 1.1"/>
<line x1="152.1" y1="202.1" x2="162.1" y2="202.1" stroke="#444" stroke-width="1" opacity="0.7"/>
<line x1="153.29999999999998" y1="153.9" x2="153.29999999999998" y2="201.4" stroke="#aaa" stroke-width="0.6" stroke-dasharray="1 2.3 0.8 1.9 1.5 3.1"/>
<line x1="152.6" y1="19.3" x2="179.1" y2="19.3" stroke="#999" stroke-width="1.5" stroke-dasharray="3 0.6 1.5 0.5 0.8 0.7 2.4 0.5 2 0.8 3.1 0.5"/>
<rect x="221.1" y="20.6" width="55.599999999999994" height="54.9" fill="#fff" stroke="#9a9a9a" stroke-width="0.6"/>
<clipPath id="cp221_20"><rect x="221.5" y="21.0" width="54.8" height="54.1"/></clipPath>
<g clip-path="url(#cp221_20)">
<ellipse cx="250.8" cy="63.5" rx="7.0" ry="12.5" transform="rotate(0 250.8 63.5)" fill="url(#gg)" opacity="0.18"/>
<ellipse cx="225" cy="65.5" rx="6.5" ry="10.0" transform="rotate(0 225 65.5)" fill="url(#gg)" opacity="0.07"/>
</g>
<path transform="translate(221.1 20.6)" d="M17.9 35.8h0M32.1 29.5h0M18.4 44.4h0M18.9 41.0h0M17.3 37.8h0M14.7 51.8h0M14.7 47.7h0M27.1 38.1h0M32.2 32.7h0M10.4 40.9h0M12.6 44.9h0M13.9 44.8h0M7.6 32.2h0M31.3 42.9h0M18.5 34.7h0M19.0 41.1h0M19.3 42.1h0M24.3 49.5h0M11.7 39.2h0M21.5 33.0h0M8.5 39.3h0M12.5 40.1h0M4.3 44.5h0M10.8 34.5h0M18.0 50.2h0M1.5 41.2h0M34.4 40.2h0M8.5 50.6h0M17.0 46.8h0M29.7 45.1h0M17.8 52.5h0M1.4 34.8h0M12.9 37.8h0M13.4 30.5h0M13.2 43.8h0M11.4 41.3h0M1.3 51.6h0M24.3 33.6h0M10.9 43.5h0M11.1 41.1h0M16.8 30.7h0M21.6 44.1h0M6.2 40.3h0M14.1 39.9h0M15.3 32.6h0M15.5 43.8h0M18.4 44.0h0M9.8 42.2h0M23.6 41.8h0M16.9 41.8h0M19.7 34.0h0M14.4 46.3h0M6.8 44.7h0M10.8 38.9h0M4.8 36.1h0M25.5 33.0h0M16.2 33.5h0M33.1 45.5h0M7.8 34.8h0M12.4 43.4h0M29.9 49.8h0M6.1 42.8h0M23.2 37.3h0M10.6 46.8h0M2.5 41.6h0M14.3 39.7h0M15.1 31.9h0M22.3 38.8h0M32.5 52.9h0M10.7 52.7h0M27.6 36.7h0M12.6 48.4h0M8.4 39.4h0M4.4 37.3h0M8.4 42.9h0M17.2 39.3h0M2.6 42.8h0M20.4 41.1h0M27.2 38.8h0M22.5 43.0h0M26.8 50.9h0M4.5 30.9h0M15.1 26.9h0M11.0 21.0h0M4.4 33.7h0M11.7 20.2h0M9.2 26.7h0M1.1 19.5h0M11.9 25.5h0M0.7 26.8h0M20.8 29.2h0M1.0 20.8h0M5.2 18.4h0M4.0 19.9h0M8.4 14.8h0M14.4 26.9h0M20.6 30.9h0M14.6 28.4h0M8.2 16.1h0M12.9 25.2h0M5.0 27.6h0M10.9 19.4h0" stroke="#000" stroke-opacity="0.1" stroke-width="0.75" stroke-linecap="square" fill="none" filter="url(#b03)"/>
<path transform="translate(221.1 20.6)" d="M30.3 47.7h0M30.7 42.8h0M24.3 50.6h0M29.1 36.9h0M28.7 43.5h0M29.7 38.3h0M32.4 45.8h0M28.5 37.0h0M26.1 47.9h0M29.8 50.7h0M30.9 40.1h0M32.1 39.5h0M28.8 45.3h0M30.0 44.1h0M30.2 47.8h0M27.3 33.0h0M35.0 39.5h0M29.5 44.3h0M27.5 40.3h0M30.3 42.8h0M31.8 41.5h0M27.7 35.6h0M24.9 44.0h0M30.5 40.7h0M31.4 36.9h0M28.7 41.6h0M27.5 41.3h0M30.4 54.4h0M29.6 46.2h0M31.9 38.1h0M30.9 40.7h0M32.1 39.9h0M32.6 38.4h0M28.3 46.9h0M32.4 47.0h0M35.1 47.7h0M29.6 47.3h0M27.3 46.7h0M30.7 42.0h0M27.6 47.9h0M24.0 41.9h0M25.7 41.0h0M28.4 38.7h0M27.9 44.1h0M29.1 40.7h0M31.3 38.6h0M25.5 47.5h0M28.5 50.2h0M30.5 35.6h0M30.4 45.1h0M29.8 36.1h0M25.4 51.8h0M31.8 51.5h0M31.4 42.6h0M30.7 48.3h0M28.1 48.9h0M30.3 43.7h0M30.8 44.3h0M27.0 50.3h0M28.2 41.4h0M31.2 42.3h0M29.3 40.9h0M31.3 39.5h0M25.5 34.8h0M27.4 44.3h0M33.6 45.5h0M27.7 36.2h0M31.9 45.2h0M29.4 45.8h0M31.2 45.2h0M33.3 35.2h0M27.8 40.1h0M26.8 52.4h0M30.6 44.8h0M31.8 41.6h0M31.9 41.7h0M31.7 45.5h0M33.2 35.3h0M27.0 39.0h0M27.3 44.6h0M32.3 41.0h0M32.6 47.1h0M28.0 46.0h0M33.6 40.4h0M23.5 45.4h0M30.4 45.8h0M31.0 42.5h0M29.6 38.8h0M35.0 50.3h0M29.2 38.6h0M30.8 50.6h0M29.7 38.7h0M32.2 44.0h0M27.4 41.7h0M30.1 37.3h0M30.4 49.0h0M32.6 48.9h0M31.7 42.3h0M31.3 48.8h0M29.8 45.3h0M27.9 42.8h0M28.3 37.5h0M30.7 53.7h0M24.9 40.4h0M30.2 39.2h0M30.1 47.0h0M25.1 42.3h0M31.3 45.6h0M34.7 43.8h0M33.1 40.0h0M27.2 40.2h0M28.4 47.2h0M31.7 42.9h0M27.2 43.5h0M28.5 41.0h0M24.9 50.5h0M35.8 40.8h0M24.6 42.8h0M31.9 51.3h0M32.4 51.6h0M30.2 35.4h0M30.1 38.5h0M32.0 32.4h0M27.0 37.1h0M30.0 47.9h0M28.8 36.4h0M28.3 42.1h0M32.9 43.4h0M25.4 47.5h0M26.1 39.8h0M31.1 44.0h0M30.5 41.9h0M24.5 34.8h0M27.3 37.9h0M28.4 34.4h0M29.3 45.3h0M28.3 49.5h0M30.3 47.5h0M27.2 43.9h0M25.7 33.5h0M24.8 40.9h0M30.3 53.4h0M30.6 41.0h0M32.6 43.4h0M29.7 43.5h0M32.4 50.8h0M25.7 43.4h0M28.4 42.9h0M36.3 41.7h0M28.3 38.3h0M32.5 44.1h0M27.7 50.1h0M29.0 44.0h0M29.2 43.7h0M24.1 36.8h0M26.4 40.4h0M29.2 42.4h0M28.5 48.1h0M23.9 40.2h0M29.0 38.5h0M33.5 42.3h0M32.7 45.6h0M28.9 47.8h0M25.6 36.7h0M28.6 30.9h0M28.5 41.8h0M24.8 37.7h0M33.2 45.9h0M30.3 49.5h0M30.0 49.0h0M32.1 53.4h0M32.6 40.0h0M31.4 48.4h0M31.5 53.8h0M30.5 40.8h0M32.2 48.6h0M29.6 45.4h0M30.1 44.1h0M30.7 40.9h0M31.7 44.7h0M34.5 44.3h0M30.0 36.8h0M36.0 41.7h0M28.3 41.5h0M29.7 42.3h0M34.4 40.4h0M29.0 40.6h0M31.4 34.7h0M32.5 41.0h0M25.7 50.2h0M26.0 46.3h0M29.7 39.5h0M25.0 39.3h0M31.8 42.5h0M28.1 47.6h0M29.8 43.2h0M27.3 35.9h0M28.4 44.2h0M28.5 44.3h0M29.0 41.6h0M29.6 44.5h0M23.4 42.7h0M29.1 40.6h0M32.4 48.5h0M32.9 46.4h0M31.0 43.4h0M31.8 39.5h0M29.3 44.4h0M29.3 36.6h0M29.4 40.7h0M27.9 45.8h0M32.7 43.2h0M26.5 41.9h0M29.2 37.5h0M28.0 43.5h0M28.0 44.9h0M26.0 46.0h0M27.7 43.4h0M29.7 40.2h0M32.6 33.9h0M30.2 45.9h0M29.0 42.4h0M26.5 42.5h0M30.1 39.8h0M29.7 40.9h0M26.8 42.3h0M27.5 47.0h0M27.4 49.6h0M29.6 42.6h0M27.6 44.8h0M26.8 35.1h0M30.9 32.4h0M32.8 40.0h0M34.1 43.9h0M34.3 35.5h0M28.4 44.0h0M28.1 43.0h0M29.2 45.9h0M31.4 37.0h0M34.2 35.4h0M27.3 45.2h0M29.2 46.0h0M30.7 38.9h0M25.1 48.3h0M29.0 42.1h0M28.8 41.4h0M27.6 42.9h0M30.4 36.5h0M25.2 45.4h0M32.1 40.0h0M29.2 40.2h0M30.8 42.3h0M28.1 38.9h0M30.9 44.4h0M28.4 44.6h0M30.1 32.7h0M28.0 43.8h0M33.2 44.6h0M26.2 47.0h0M28.9 46.7h0M25.7 34.6h0M25.1 45.5h0M33.0 43.8h0M30.1 42.1h0M30.2 37.6h0M33.1 46.6h0M32.4 42.2h0M32.0 47.4h0M27.5 38.7h0M32.1 45.1h0M31.2 42.9h0M27.4 43.3h0M25.5 44.0h0M36.1 46.2h0M27.2 38.4h0M28.2 45.5h0M28.7 37.5h0M30.1 45.1h0M33.3 36.5h0M33.9 41.5h0M24.0 47.5h0M32.5 45.3h0M32.0 38.3h0M31.1 34.6h0M34.4 44.6h0M31.1 43.1h0M31.5 43.6h0M27.0 40.9h0M24.2 38.4h0M29.2 44.5h0M35.7 40.6h0M28.4 42.2h0M35.9 37.4h0M28.6 45.3h0M32.4 44.6h0M30.0 47.5h0M26.9 50.3h0M28.3 44.5h0M27.0 39.7h0M32.5 45.4h0M29.1 46.6h0M23.8 43.6h0M24.8 47.6h0M27.3 42.6h0M27.3 52.7h0M34.0 34.4h0M31.6 41.2h0M33.9 44.3h0M27.5 40.5h0M29.8 51.0h0M29.9 40.1h0M28.5 46.8h0M28.8 51.2h0M32.2 43.4h0M30.0 41.1h0M34.0 41.7h0M30.5 36.1h0M29.1 43.6h0M29.5 42.9h0M32.5 46.2h0M31.9 39.9h0M28.2 42.7h0M25.1 35.7h0M30.6 42.7h0M29.9 48.5h0M23.5 44.7h0M29.0 36.3h0M31.6 49.6h0M25.4 42.9h0M32.5 42.9h0M28.4 47.4h0M24.8 42.5h0M27.8 42.3h0M26.1 43.6h0M33.2 44.9h0M26.0 40.2h0M27.5 35.4h0M31.8 45.1h0M29.2 49.9h0M31.7 39.8h0M29.8 42.0h0M29.7 49.1h0M33.3 38.0h0M31.7 48.5h0M30.1 45.2h0M27.8 49.9h0M29.1 40.1h0M25.4 37.8h0M31.1 42.9h0M34.7 45.8h0M30.7 38.9h0M31.3 35.7h0M27.5 49.5h0M30.5 37.1h0M27.9 42.1h0M30.6 43.7h0M31.8 33.6h0M28.4 43.4h0M32.7 39.7h0M25.9 38.7h0M26.2 40.2h0M27.7 48.3h0M31.3 42.0h0M30.6 50.5h0M28.9 37.3h0M29.8 36.7h0M30.4 47.0h0M28.7 47.3h0M33.2 51.8h0M28.7 45.6h0M32.0 46.8h0M32.4 45.2h0M31.7 47.3h0M31.1 45.6h0M30.5 42.5h0M24.5 42.5h0M29.8 40.1h0M28.4 48.9h0M29.0 31.8h0M28.2 42.2h0M33.3 44.3h0M31.2 40.2h0M28.1 35.1h0M31.5 43.0h0M27.7 43.1h0M32.9 47.4h0M6.0 49.4h0M4.6 44.9h0M3.9 46.7h0M4.0 41.4h0M2.4 49.4h0M2.9 44.5h0M7.9 41.1h0M3.8 43.2h0M2.6 44.2h0M5.4 43.8h0M6.4 47.7h0M1.1 45.1h0M3.5 39.8h0M4.7 49.6h0M8.1 47.9h0M4.9 49.8h0M3.6 43.3h0M6.5 47.4h0M2.6 43.3h0M0.6 53.0h0M2.9 42.9h0M2.4 42.8h0M4.3 45.0h0M6.0 35.2h0M4.3 51.4h0M4.1 42.6h0M9.2 42.9h0M5.7 45.8h0M3.5 41.0h0M4.3 45.6h0M8.7 39.0h0M3.0 49.3h0M7.8 41.4h0M1.6 44.2h0M8.1 44.1h0M6.0 44.2h0M1.1 45.9h0M5.0 41.9h0M9.0 44.8h0M5.1 39.1h0M2.6 45.7h0M5.9 47.1h0M1.0 49.2h0M4.2 44.6h0M3.7 41.6h0M4.8 44.4h0M3.4 45.7h0M3.3 44.1h0M6.9 47.6h0M4.1 45.3h0M7.5 39.6h0M4.5 45.6h0M3.0 41.8h0M1.7 44.7h0M6.3 43.7h0M0.9 46.4h0M7.1 46.0h0M2.7 43.3h0M3.0 40.7h0M6.3 43.6h0M8.9 49.5h0M2.6 41.8h0M4.9 43.4h0M3.6 46.6h0M1.8 44.6h0M3.2 50.7h0M5.6 44.4h0M1.2 44.2h0M1.8 43.4h0M4.8 47.9h0M6.5 42.5h0M4.4 44.7h0M6.1 53.3h0M6.5 48.3h0M4.5 46.8h0M3.5 44.6h0M4.6 40.2h0M2.9 48.0h0M5.7 45.5h0M5.3 41.8h0M7.8 36.9h0M3.0 41.9h0M2.7 45.7h0M4.2 48.6h0M8.8 46.8h0M1.5 44.9h0M1.9 41.8h0M2.8 48.5h0M1.8 46.1h0M1.9 48.2h0M6.9 39.3h0M5.8 41.5h0M4.8 44.5h0M6.1 40.0h0M8.9 46.2h0M2.2 49.7h0M7.4 46.9h0M2.6 41.8h0M1.6 51.1h0M4.1 44.8h0M3.0 49.6h0M3.0 48.2h0" stroke="#000" stroke-opacity="0.36" stroke-width="0.75" stroke-linecap="square" fill="none" filter="url(#b03)"/>
<line x1="221.6" y1="75.0" x2="276.2" y2="75.0" stroke="#777" stroke-width="0.9" stroke-dasharray="2 1.3 0.8 0.9 3 1.1"/>
<line x1="221.1" y1="75.2" x2="231.1" y2="75.2" stroke="#444" stroke-width="1" opacity="0.7"/>
<line x1="222.29999999999998" y1="26.6" x2="222.29999999999998" y2="74.5" stroke="#aaa" stroke-width="0.6" stroke-dasharray="1 2.3 0.8 1.9 1.5 3.1"/>
<text x="261.3" y="27.6" font-size="8.3" text-anchor="start" fill="#000" font-weight="bold" font-style="italic" textLength="14.1" lengthAdjust="spacingAndGlyphs" >#81</text>
<rect x="221.1" y="84.8" width="55.599999999999994" height="54.10000000000001" fill="#fff" stroke="#9a9a9a" stroke-width="0.6"/>
<clipPath id="cp221_84"><rect x="221.5" y="85.2" width="54.8" height="53.30000000000001"/></clipPath>
<g clip-path="url(#cp221_84)">
<ellipse cx="224.8" cy="131" rx="7.2" ry="12.0" transform="rotate(0 224.8 131)" fill="url(#gg)" opacity="0.37"/>
<ellipse cx="252.9" cy="131.5" rx="6.0" ry="11.2" transform="rotate(0 252.9 131.5)" fill="url(#gg)" opacity="0.25"/>
<ellipse cx="226" cy="106" rx="8.0" ry="2.8" transform="rotate(0 226 106)" fill="url(#gg)" opacity="0.24"/>
</g>
<path transform="translate(221.1 84.8)" d="M22.3 32.3h0M20.2 35.2h0M28.8 50.0h0M14.1 40.0h0M20.4 30.2h0M12.4 29.5h0M11.1 41.2h0M13.7 53.5h0M23.3 37.1h0M19.3 38.0h0M9.0 52.0h0M15.2 37.1h0M31.4 39.2h0M27.1 22.4h0M24.0 33.2h0M13.0 47.6h0M34.8 24.9h0M30.5 39.0h0M12.1 48.6h0M15.6 37.1h0M14.7 39.6h0M11.8 48.9h0M33.7 34.7h0M10.2 40.2h0M9.1 41.9h0M18.4 41.1h0M9.5 43.3h0M4.0 38.4h0M15.4 41.5h0M25.4 39.8h0M6.8 44.1h0M15.5 46.7h0M33.6 52.0h0M16.7 34.2h0M19.2 39.8h0M9.3 30.3h0M28.5 34.2h0M27.3 48.7h0M7.4 44.0h0M16.1 30.8h0M10.5 42.1h0M26.6 36.0h0M14.8 48.5h0M12.8 36.3h0M1.5 44.2h0M9.7 34.2h0M12.2 35.8h0M46.3 37.2h0M24.6 32.0h0M25.5 43.7h0M7.2 33.4h0M9.7 40.7h0M24.7 40.5h0M9.0 34.2h0M33.3 37.9h0M34.4 40.4h0M13.1 38.5h0M21.9 46.8h0M13.1 44.7h0M3.8 29.5h0M0.7 37.8h0M10.1 46.1h0M13.3 38.1h0M13.7 30.7h0M22.6 30.8h0M4.5 43.7h0M12.0 37.0h0M24.6 33.5h0M3.9 44.2h0M7.0 42.1h0M35.1 30.9h0M16.2 40.3h0M18.1 40.0h0M24.2 36.3h0M7.3 42.5h0M19.1 28.2h0M24.3 38.4h0M26.6 41.1h0M4.2 38.4h0M23.7 48.5h0M15.0 45.7h0M30.1 43.2h0M31.3 45.8h0M7.2 32.3h0M8.5 53.3h0M28.6 34.7h0M8.6 41.2h0M13.3 47.2h0M18.7 49.3h0M21.1 43.9h0M7.3 43.2h0M20.1 41.4h0M18.4 41.7h0M12.9 45.8h0M16.7 34.8h0M25.8 46.5h0M28.3 38.3h0M26.3 52.0h0M23.5 44.1h0M16.5 30.1h0M6.7 40.8h0M27.4 45.0h0M11.5 42.8h0M15.8 36.1h0M16.6 47.3h0M5.5 38.3h0M16.5 34.0h0M7.6 44.4h0M38.5 41.8h0M11.7 52.6h0" stroke="#000" stroke-opacity="0.1" stroke-width="0.75" stroke-linecap="square" fill="none" filter="url(#b03)"/>
<path transform="translate(221.1 84.8)" d="M7.9 44.0h0M4.1 51.2h0M2.2 44.8h0M5.0 44.7h0M2.3 41.0h0M4.4 44.5h0M6.1 50.9h0M3.6 49.8h0M2.1 45.7h0M2.6 44.0h0M6.0 46.2h0M1.2 49.8h0M3.8 48.9h0M4.3 44.1h0M1.2 51.9h0M3.1 53.1h0M2.3 41.4h0M6.3 42.6h0M2.8 48.9h0M2.5 53.4h0M7.1 49.6h0M8.5 48.7h0M4.3 51.4h0M6.7 40.0h0M6.9 51.0h0M4.2 52.8h0M1.7 42.4h0M4.5 39.6h0M3.6 49.5h0M1.6 41.3h0M5.3 50.5h0M6.3 43.8h0M2.6 52.6h0M6.2 47.8h0M4.4 45.6h0M5.5 49.6h0M3.8 47.6h0M8.3 47.3h0M4.0 53.0h0M9.9 46.1h0M3.3 46.9h0M0.5 52.4h0M2.4 41.5h0M1.7 51.3h0M2.6 40.4h0M6.5 39.5h0M3.9 44.1h0M6.6 43.9h0M5.6 52.1h0M7.8 48.6h0M4.6 38.6h0M4.5 51.5h0M1.5 44.8h0M9.7 41.2h0M3.2 45.8h0M1.7 53.2h0M8.2 37.1h0M4.7 43.0h0M5.0 45.4h0M2.6 46.8h0M7.2 40.9h0M6.2 47.6h0M3.1 43.0h0M4.7 50.0h0M1.0 49.7h0M3.8 50.2h0M4.5 45.4h0M4.3 49.3h0M2.3 46.4h0M6.6 50.6h0M7.8 50.6h0M3.1 42.7h0M2.7 48.3h0M1.4 47.0h0M4.3 43.9h0M0.7 46.5h0M4.9 41.8h0M4.1 46.8h0M1.2 48.2h0M1.7 51.0h0M4.0 46.6h0M5.0 47.3h0M3.8 49.5h0M5.0 48.2h0M6.2 45.6h0M8.3 39.4h0M3.6 39.4h0M7.3 49.3h0M4.1 40.7h0M1.9 43.6h0M3.8 49.0h0M1.7 43.9h0M4.9 44.7h0M6.4 45.7h0M8.4 41.2h0M5.9 40.7h0M3.5 45.8h0M2.7 45.8h0M5.7 44.0h0M3.1 44.9h0M4.5 43.4h0M6.0 47.7h0M2.0 40.4h0M2.9 51.0h0M5.5 46.4h0M5.2 52.7h0M3.0 44.7h0M4.4 37.6h0M3.8 44.0h0M7.6 48.9h0M8.2 44.2h0M8.0 47.0h0M5.2 48.2h0M2.4 49.3h0M3.6 41.8h0M2.8 47.7h0M7.2 46.7h0M2.7 53.0h0M3.8 51.7h0M5.9 50.5h0M3.3 45.5h0M5.0 48.7h0M3.5 46.4h0M4.4 51.3h0M4.7 44.9h0M6.8 49.6h0M2.2 45.9h0M0.6 46.9h0M1.7 52.0h0M7.4 44.6h0M1.2 52.3h0M2.6 47.4h0M3.9 42.1h0M6.2 48.0h0M4.7 53.6h0M9.1 47.5h0M2.5 45.0h0M3.4 41.3h0M1.7 43.9h0M5.2 49.7h0M1.9 41.3h0M3.6 38.2h0M3.0 47.2h0M4.9 44.3h0M4.9 49.8h0M2.7 41.4h0M2.2 47.6h0M4.5 38.5h0M8.9 48.2h0M4.2 40.8h0M5.5 34.9h0M8.4 48.1h0M3.6 47.5h0M6.3 37.1h0M4.5 40.4h0M2.5 45.3h0M2.5 42.8h0M4.2 44.4h0M4.5 49.7h0M1.2 45.4h0M1.2 50.0h0M5.8 51.0h0M6.8 46.8h0M0.8 42.8h0M7.2 46.9h0M6.0 43.6h0M6.5 38.9h0M1.7 46.9h0M6.7 50.7h0M6.2 51.9h0M5.7 50.2h0M1.2 40.7h0M2.2 52.1h0M7.6 41.3h0M2.9 46.6h0M5.4 47.8h0M8.0 47.5h0M3.1 45.1h0M6.8 45.1h0M5.2 44.3h0M2.9 42.6h0M6.0 44.5h0M1.0 49.6h0M2.4 46.6h0M1.5 53.3h0M4.5 45.2h0M3.4 36.7h0M7.3 46.3h0M7.1 42.4h0M7.9 43.2h0M2.3 46.4h0M3.3 46.8h0M4.1 45.6h0M5.0 44.2h0M7.5 49.4h0M2.8 50.7h0M1.2 44.7h0M6.0 50.5h0M3.4 45.3h0M0.9 51.7h0M2.8 48.3h0M1.9 47.3h0M2.2 48.2h0M3.3 41.8h0M3.6 49.6h0M6.9 50.7h0M9.6 50.9h0M8.9 49.9h0M4.6 38.3h0M6.5 45.6h0M2.6 40.1h0M7.3 46.2h0M2.5 42.6h0M3.5 48.3h0M5.4 46.8h0M4.3 46.6h0M2.5 51.6h0M3.3 43.6h0M8.7 41.9h0M2.4 46.8h0M3.2 45.9h0M6.5 50.9h0M5.7 41.6h0M5.2 48.0h0M7.8 51.1h0M2.4 44.1h0M4.9 44.3h0M4.5 50.3h0M4.5 39.8h0M8.4 46.0h0M4.7 38.7h0M3.6 40.3h0M8.3 44.1h0M1.0 46.6h0M1.0 38.3h0M3.2 44.9h0M1.4 49.4h0M6.1 45.8h0M3.5 47.9h0M6.3 47.1h0M10.5 49.2h0M4.6 43.7h0M5.4 48.3h0M4.1 52.2h0M3.4 37.6h0M3.3 47.1h0M5.9 48.9h0M5.7 48.4h0M4.6 40.9h0M2.8 50.9h0M3.3 44.3h0M6.2 37.2h0M2.1 47.1h0M1.4 38.3h0M9.1 45.1h0M3.9 49.1h0M9.2 43.0h0M3.3 44.7h0M6.4 50.6h0M8.3 44.2h0M0.7 48.2h0M8.0 45.7h0M3.3 46.4h0M1.9 47.8h0M3.0 47.0h0M1.3 48.7h0M4.6 42.3h0M3.5 39.8h0M4.8 44.4h0M3.5 47.5h0M2.9 45.4h0M1.3 49.0h0M4.8 44.0h0M9.8 47.4h0M4.8 38.5h0M4.9 40.7h0M5.3 48.0h0M3.3 43.7h0M1.3 43.3h0M8.1 42.5h0M2.8 48.1h0M6.9 47.4h0M5.3 49.5h0M3.6 35.4h0M5.9 48.8h0M7.7 40.9h0M6.4 52.9h0M3.3 45.0h0M0.7 49.2h0M4.4 48.8h0M3.5 46.4h0M1.9 51.2h0M3.2 52.0h0M6.2 42.8h0M4.8 44.6h0M6.7 36.9h0M5.3 44.6h0M5.8 43.6h0M2.3 49.4h0M4.7 39.6h0M5.2 49.5h0M0.8 41.9h0M2.9 52.3h0M2.5 50.6h0M6.6 44.3h0M4.8 50.8h0M4.8 53.5h0M0.8 47.3h0M2.0 44.4h0M3.0 48.6h0M5.8 47.6h0M6.4 50.1h0M4.6 43.8h0M5.1 41.9h0M10.1 41.8h0M7.5 45.4h0M8.6 43.9h0M3.1 48.8h0M1.6 47.2h0M10.4 46.3h0M1.5 46.2h0M2.7 47.5h0M1.3 44.8h0M5.7 46.3h0M1.2 47.9h0M1.0 49.8h0M2.0 52.1h0M3.9 36.2h0M5.8 50.9h0M5.1 44.1h0M4.0 46.5h0M3.7 50.9h0M0.9 44.8h0M7.4 45.6h0M5.2 43.8h0M3.8 52.2h0M8.2 46.4h0M1.8 53.1h0M6.7 45.6h0M3.4 46.0h0M0.9 44.3h0M4.5 38.4h0M6.3 46.7h0M5.0 41.1h0M2.2 38.7h0M0.9 38.3h0M8.8 49.4h0M7.4 48.3h0M1.5 50.7h0M5.0 42.9h0M6.4 48.7h0M4.0 45.0h0M4.2 41.8h0M5.9 53.5h0M1.9 39.0h0M3.6 38.2h0M9.3 45.7h0M4.8 47.0h0M2.1 42.7h0M3.8 51.2h0M8.0 44.8h0M2.1 44.3h0M4.7 41.6h0M6.4 45.0h0M1.4 49.4h0M7.8 42.0h0M3.1 45.4h0M5.1 49.8h0M3.3 41.9h0M1.9 50.2h0M9.0 47.0h0M7.0 42.8h0M0.7 42.5h0M2.5 40.1h0M5.3 41.1h0M2.9 48.9h0M2.9 50.7h0M2.1 51.6h0M1.7 43.4h0M5.6 46.2h0M7.8 49.1h0M4.6 38.4h0M3.1 47.8h0M4.6 53.1h0M7.6 46.8h0M0.7 45.1h0M6.9 45.7h0M1.2 40.7h0M2.2 52.1h0M3.1 44.1h0M3.2 52.4h0M5.9 42.6h0M5.1 40.4h0M6.9 36.6h0M2.3 50.4h0M8.6 48.5h0M6.3 49.1h0M4.7 43.5h0M4.1 43.0h0M1.1 47.9h0M2.6 47.0h0M6.7 42.8h0M6.5 40.8h0M6.2 48.0h0M5.1 49.5h0M4.2 37.9h0M8.6 47.2h0M4.2 46.4h0M4.8 45.0h0M8.8 49.0h0M4.5 40.9h0M1.3 43.0h0M7.0 49.7h0M2.9 45.0h0M1.5 46.7h0M0.6 50.3h0M3.3 50.6h0M8.2 47.6h0M0.9 47.3h0M1.0 51.2h0M2.7 45.3h0M2.1 52.3h0M5.1 45.9h0M6.2 44.9h0M1.2 45.9h0M2.9 51.3h0M1.6 41.1h0M7.6 50.4h0M2.6 46.7h0M2.0 35.9h0M3.3 48.5h0M5.6 47.3h0M4.3 45.3h0M3.4 45.0h0M4.1 36.4h0M3.5 48.8h0M5.7 38.8h0M31.3 45.8h0M33.2 46.2h0M30.5 43.8h0M27.5 47.5h0M33.1 49.3h0M29.9 48.5h0M29.2 39.4h0M33.3 41.0h0M28.4 45.2h0M30.9 53.5h0M32.2 39.3h0M28.6 47.9h0M28.4 48.6h0M34.3 49.3h0M27.6 51.6h0M36.0 51.2h0M31.4 50.4h0M34.2 53.3h0M31.4 43.6h0M31.3 43.4h0M32.0 45.1h0M33.6 43.5h0M34.0 43.2h0M34.7 52.1h0M31.7 45.7h0M32.6 48.6h0M29.3 49.8h0M27.2 41.4h0M28.8 47.5h0M34.4 44.1h0M31.0 48.1h0M32.6 49.3h0M28.6 48.1h0M34.1 50.0h0M35.3 40.1h0M34.7 40.2h0M29.0 47.5h0M31.4 47.1h0M34.4 41.2h0M30.9 44.0h0M34.7 49.2h0M32.5 52.1h0M31.2 42.6h0M34.0 38.5h0M32.4 46.6h0M27.9 47.5h0M29.7 52.8h0M33.6 50.7h0M34.2 46.6h0M34.5 49.4h0M33.2 51.5h0M30.7 40.1h0M28.7 49.8h0M29.4 45.7h0M30.4 51.0h0M35.7 47.2h0M30.1 44.1h0M31.3 39.4h0M28.8 47.5h0M32.4 47.5h0M32.6 43.4h0M31.5 42.2h0M32.4 37.7h0M33.1 47.7h0M30.8 47.3h0M34.3 47.0h0M36.5 52.1h0M32.1 45.8h0M28.9 41.9h0M32.3 47.2h0M32.8 48.4h0M31.2 41.8h0M30.7 46.3h0M33.5 49.8h0M29.3 46.2h0M33.6 40.3h0M31.2 40.2h0M30.1 51.8h0M29.3 50.8h0M31.4 39.5h0M32.3 47.7h0M31.2 52.1h0M31.0 50.0h0M31.8 44.3h0M32.7 51.4h0M35.3 52.0h0M27.7 40.7h0M31.2 52.0h0M27.2 47.3h0M28.9 50.2h0M34.3 45.5h0M35.1 50.0h0M31.4 53.2h0M37.0 46.3h0M32.4 48.2h0M33.8 44.9h0M31.3 52.0h0M31.5 52.6h0M35.4 41.6h0M33.5 45.6h0M30.4 50.6h0M34.4 49.1h0M32.7 49.5h0M33.0 53.5h0M29.7 46.4h0M28.9 44.3h0M32.7 45.2h0M30.0 45.7h0M32.2 43.5h0M32.3 44.0h0M32.7 49.8h0M36.5 43.4h0M31.5 43.1h0M34.5 42.5h0M27.8 51.7h0M37.4 47.3h0M31.4 46.4h0M29.7 49.7h0M35.1 43.3h0M33.9 49.1h0M35.7 46.4h0M30.0 47.8h0M33.0 45.6h0M29.6 49.7h0M28.0 41.6h0M31.6 40.7h0M33.1 39.6h0M31.4 48.7h0M35.1 43.1h0M32.5 52.2h0M29.9 48.5h0M34.6 51.8h0M31.7 48.4h0M30.2 49.3h0M32.9 44.5h0M29.9 47.0h0M33.1 42.1h0M29.7 50.2h0M31.7 46.5h0M34.4 45.6h0M28.3 41.8h0M31.5 46.0h0M31.0 42.9h0M27.7 45.7h0M32.9 48.1h0M29.1 44.1h0M32.3 36.0h0M33.6 46.4h0M31.6 46.8h0M31.3 43.8h0M34.5 48.3h0M32.7 45.6h0M27.3 44.7h0M26.4 44.0h0M32.7 45.6h0M33.2 51.3h0M31.1 45.3h0M28.5 53.4h0M34.6 46.5h0M33.0 47.9h0M35.1 49.1h0M31.6 42.1h0M31.3 52.2h0M30.1 45.7h0M26.2 46.2h0M30.7 50.5h0M30.9 39.0h0M30.8 42.0h0M28.2 45.4h0M34.8 46.8h0M26.9 46.8h0M31.8 52.8h0M29.8 39.9h0M30.9 41.7h0M32.3 49.7h0M31.6 46.5h0M28.9 40.5h0M32.6 53.1h0M29.4 37.1h0M31.7 47.9h0M29.8 38.2h0M35.1 38.2h0M33.1 50.5h0M35.0 46.5h0M34.1 45.6h0M33.6 52.7h0M31.7 38.9h0M35.2 43.9h0M30.5 51.2h0M34.0 49.0h0M30.4 50.0h0M32.2 45.1h0M29.9 48.9h0M30.0 52.6h0M27.4 42.2h0M32.3 39.0h0M36.3 40.4h0M30.3 44.8h0M32.2 53.0h0M30.8 44.4h0M35.0 46.7h0M33.7 46.9h0M30.5 43.9h0M29.4 43.1h0M32.2 46.5h0M33.7 47.2h0M32.8 42.8h0M27.8 51.3h0M36.2 45.4h0M33.9 42.7h0M29.6 48.5h0M33.9 49.3h0M34.5 47.1h0M31.5 47.1h0M29.6 45.1h0M27.7 41.4h0M33.7 44.2h0M33.7 46.4h0M31.6 49.4h0M34.6 45.3h0M33.3 44.3h0M29.8 44.6h0M34.6 37.4h0M33.3 44.8h0M33.4 47.6h0M27.9 44.5h0M26.9 46.0h0M29.9 50.8h0M27.3 48.0h0M29.4 44.4h0M31.2 47.1h0M31.6 42.5h0M31.1 44.8h0M33.0 50.1h0M32.0 52.0h0M31.0 40.9h0M27.6 50.5h0M30.9 48.9h0M33.5 42.6h0M35.0 50.0h0M35.8 49.9h0M29.0 49.3h0M32.1 40.2h0M33.9 45.5h0M35.0 44.8h0M33.6 51.3h0M32.2 51.6h0M33.2 44.7h0M35.2 45.6h0M30.6 45.0h0M27.4 51.5h0M28.8 38.5h0M32.6 36.8h0M4.0 22.0h0M6.0 21.6h0M4.0 20.1h0M5.8 22.1h0M4.7 22.3h0M5.4 19.8h0M3.1 21.1h0M2.2 20.9h0M8.0 21.2h0M8.3 21.7h0M3.2 21.3h0M7.9 20.6h0M2.8 22.6h0M7.6 21.9h0M3.2 21.0h0M6.2 21.7h0M7.8 20.0h0M7.8 20.1h0M1.8 20.7h0M3.2 22.4h0M8.8 23.5h0M2.7 21.4h0M9.2 19.3h0M7.5 23.3h0M8.1 20.4h0M4.6 21.4h0M2.7 20.1h0M8.7 20.2h0M8.4 20.0h0M2.3 18.7h0M2.8 20.8h0M7.7 19.6h0M4.9 22.5h0M7.5 22.8h0M4.5 19.5h0M5.0 21.8h0M1.5 20.9h0M4.8 23.6h0M2.8 20.3h0M4.3 20.5h0M5.1 20.6h0M0.9 20.4h0M9.4 21.1h0M5.6 22.0h0M6.0 20.2h0M2.1 22.1h0M4.1 21.7h0M3.6 22.2h0M4.4 21.5h0M6.8 19.0h0M7.9 22.7h0M3.4 19.4h0M6.2 20.2h0M1.7 22.9h0M4.6 20.0h0M0.7 21.6h0M6.0 21.6h0M1.2 20.4h0M4.8 20.8h0M5.1 20.8h0M4.7 21.4h0M7.0 22.6h0M4.8 18.9h0M9.6 19.5h0M5.7 22.5h0M6.9 22.7h0M5.0 23.6h0M6.6 19.4h0M7.3 20.8h0M8.4 20.4h0M7.7 19.8h0M4.0 21.1h0M8.6 20.3h0M6.0 22.4h0M4.6 21.4h0M11.2 21.1h0M7.3 22.6h0M9.7 22.6h0M3.0 21.6h0M3.9 20.9h0M3.1 20.3h0M10.4 19.7h0" stroke="#000" stroke-opacity="0.26" stroke-width="0.75" stroke-linecap="square" fill="none" filter="url(#b03)"/>
<line x1="221.6" y1="138.4" x2="276.2" y2="138.4" stroke="#777" stroke-width="0.9" stroke-dasharray="2 1.3 0.8 0.9 3 1.1"/>
<line x1="221.1" y1="138.6" x2="231.1" y2="138.6" stroke="#444" stroke-width="1" opacity="0.7"/>
<line x1="222.29999999999998" y1="90.8" x2="222.29999999999998" y2="137.9" stroke="#aaa" stroke-width="0.6" stroke-dasharray="1 2.3 0.8 1.9 1.5 3.1"/>
<text x="256.3" y="91.2" font-size="8.3" text-anchor="start" fill="#000" font-style="italic" textLength="18.7" lengthAdjust="spacingAndGlyphs" >#108</text>
<rect x="221.1" y="147.9" width="55.599999999999994" height="54.5" fill="#fff" stroke="#9a9a9a" stroke-width="0.6"/>
<clipPath id="cp221_147"><rect x="221.5" y="148.3" width="54.8" height="53.7"/></clipPath>
<g clip-path="url(#cp221_147)">
<ellipse cx="247.7" cy="191.8" rx="7.0" ry="12.5" transform="rotate(0 247.7 191.8)" fill="url(#gg)" opacity="0.46"/>
<ellipse cx="231" cy="192.5" rx="17.5" ry="11.0" transform="rotate(0 231 192.5)" fill="url(#gg)" opacity="0.25"/>
<ellipse cx="228.4" cy="163" rx="6.2" ry="6.2" transform="rotate(0 228.4 163)" fill="url(#gg)" opacity="0.09"/>
</g>
<path transform="translate(221.1 147.9)" d="M26.4 19.0h0M29.8 29.0h0M20.2 19.1h0M22.5 34.1h0M37.9 19.0h0M16.3 34.3h0M23.6 48.4h0M8.0 42.9h0M16.5 25.0h0M24.4 35.0h0M18.3 38.8h0M3.6 32.7h0M11.1 31.4h0M20.7 31.0h0M22.3 23.1h0M18.9 31.4h0M43.3 36.3h0M7.3 33.7h0M38.5 37.6h0M4.9 48.9h0M26.4 37.4h0M32.5 16.5h0M21.5 29.9h0M22.0 15.0h0M30.1 21.8h0M23.9 41.7h0M20.3 33.7h0M6.4 26.2h0M21.7 29.6h0M25.3 23.3h0M18.5 24.7h0M2.9 33.5h0M17.5 34.2h0M13.9 45.0h0M47.2 44.8h0M6.5 31.0h0M33.3 40.2h0M9.6 28.4h0M19.5 27.3h0M21.0 50.5h0M29.8 51.8h0M31.8 7.4h0M24.1 20.6h0M23.4 47.8h0M23.4 10.7h0M18.8 28.9h0M27.8 20.1h0M15.9 31.0h0M19.6 35.4h0M29.7 33.7h0M34.2 34.5h0M41.7 40.0h0M20.3 22.8h0M15.3 27.9h0M31.9 29.5h0M18.4 36.1h0M18.2 38.9h0M13.0 25.5h0M16.1 41.0h0M8.8 13.5h0M19.6 27.2h0M22.6 30.1h0M34.3 35.1h0M14.0 29.8h0M34.9 26.5h0M22.1 47.1h0M26.2 40.8h0M8.4 33.9h0M33.1 38.7h0M0.9 43.0h0M27.2 33.7h0M26.1 23.5h0M34.0 44.5h0M26.8 40.8h0M6.7 30.8h0M18.8 38.7h0M6.2 33.2h0M31.1 24.1h0M35.3 37.1h0M13.7 24.3h0" stroke="#000" stroke-opacity="0.1" stroke-width="0.75" stroke-linecap="square" fill="none" filter="url(#b03)"/>
<path transform="translate(221.1 147.9)" d="M27.0 34.3h0M25.1 34.1h0M25.7 51.4h0M29.4 42.3h0M24.8 41.9h0M23.6 39.2h0M27.6 44.6h0M27.2 43.2h0M22.5 46.8h0M26.7 48.1h0M27.1 38.9h0M29.3 48.0h0M25.9 47.6h0M27.9 41.6h0M27.3 40.1h0M30.4 41.7h0M29.3 53.1h0M26.8 47.4h0M30.7 34.5h0M32.6 47.1h0M23.2 44.8h0M32.7 44.5h0M30.5 49.4h0M24.8 45.9h0M31.5 40.0h0M26.9 41.2h0M25.1 43.0h0M20.7 40.8h0M21.8 39.2h0M25.0 49.3h0M23.6 48.5h0M25.5 40.1h0M21.9 44.8h0M26.4 48.0h0M24.9 33.5h0M28.2 50.8h0M26.7 44.7h0M28.0 45.4h0M28.1 48.6h0M28.1 35.4h0M27.8 42.4h0M23.8 48.8h0M24.8 46.1h0M24.7 47.1h0M30.4 39.8h0M24.4 48.8h0M24.1 49.4h0M27.7 39.5h0M25.1 50.8h0M29.0 44.8h0M27.3 49.6h0M24.9 45.8h0M27.9 50.8h0M25.6 43.2h0M27.4 43.0h0M25.9 46.9h0M25.3 42.7h0M27.4 44.7h0M25.6 43.7h0M23.3 40.3h0M24.6 38.6h0M26.0 43.6h0M26.3 42.3h0M25.1 48.7h0M28.1 37.6h0M27.2 39.9h0M28.4 40.3h0M27.5 40.4h0M26.1 46.0h0M28.6 37.2h0M25.1 40.0h0M21.9 45.3h0M26.0 42.6h0M24.4 53.1h0M25.6 45.6h0M23.6 43.4h0M20.2 42.8h0M26.8 39.3h0M23.5 38.7h0M25.1 49.4h0M26.9 41.0h0M25.2 48.0h0M24.7 39.6h0M28.8 44.0h0M30.3 42.8h0M25.8 46.2h0M27.2 44.3h0M24.0 40.7h0M24.5 41.5h0M30.2 39.5h0M27.9 46.3h0M22.3 49.2h0M27.2 45.9h0M27.2 49.1h0M27.7 40.8h0M24.9 39.7h0M24.4 39.7h0M27.2 48.9h0M26.0 49.2h0M29.7 47.5h0M29.6 46.5h0M22.7 40.3h0M27.2 43.9h0M23.0 43.8h0M22.5 42.8h0M28.3 45.4h0M25.0 47.2h0M32.0 42.6h0M27.0 36.8h0M28.8 35.9h0M26.0 48.6h0M25.8 36.6h0M23.8 42.4h0M26.8 48.9h0M30.5 47.3h0M22.3 38.1h0M28.7 37.3h0M30.2 48.0h0M26.8 48.2h0M24.6 49.2h0M26.9 41.0h0M24.4 33.5h0M25.7 46.7h0M25.5 41.7h0M22.8 50.2h0M26.5 43.9h0M24.3 42.6h0M27.5 46.1h0M25.0 41.3h0M28.4 51.6h0M25.4 46.6h0M28.7 45.8h0M24.0 44.1h0M26.8 38.3h0M26.8 43.9h0M24.6 52.3h0M27.5 39.7h0M29.9 42.5h0M23.8 37.9h0M29.6 38.0h0M27.5 46.3h0M25.0 47.7h0M29.5 43.6h0M26.6 47.3h0M26.8 50.6h0M28.7 44.4h0M27.2 42.0h0M28.5 40.3h0M26.5 37.6h0M33.3 45.5h0M26.8 46.3h0M21.9 51.3h0M22.0 47.1h0M25.5 47.8h0M28.4 45.3h0M29.4 42.4h0M27.3 42.4h0M24.7 38.5h0M27.7 52.7h0M24.3 41.5h0M24.7 46.0h0M21.0 44.8h0M24.6 38.9h0M27.3 45.0h0M27.4 50.1h0M22.7 49.6h0M30.5 46.6h0M21.2 45.3h0M30.9 48.2h0M26.4 37.7h0M26.8 36.5h0M24.4 41.9h0M27.8 40.7h0M26.4 43.8h0M27.4 47.1h0M28.0 42.5h0M27.1 40.8h0M23.2 41.0h0M26.6 33.6h0M28.8 45.8h0M22.2 38.7h0M24.1 32.3h0M21.7 46.1h0M30.6 51.9h0M28.0 49.9h0M30.3 39.0h0M31.1 39.9h0M25.7 35.2h0M33.0 45.8h0M29.1 41.5h0M29.3 46.7h0M25.5 46.7h0M25.4 37.3h0M28.3 54.0h0M25.3 40.8h0M30.3 43.1h0M27.6 44.0h0M27.5 44.4h0M25.8 37.1h0M27.0 42.4h0M23.8 42.7h0M29.7 39.2h0M28.9 35.9h0M32.1 47.7h0M24.6 46.0h0M20.7 42.9h0M23.8 37.4h0M25.5 39.8h0M27.5 37.4h0M27.7 46.2h0M28.9 47.2h0M28.6 49.3h0M30.2 49.4h0M30.0 37.1h0M25.9 51.5h0M24.9 47.8h0M29.7 50.9h0M24.9 45.2h0M26.2 47.3h0M21.1 43.5h0M30.0 43.8h0M29.5 51.3h0M27.0 41.8h0M25.0 37.7h0M25.4 42.9h0M29.4 40.4h0M24.6 43.6h0M26.0 50.5h0M26.7 51.3h0M26.1 38.1h0M26.7 39.1h0M29.2 42.5h0M25.7 41.5h0M25.6 47.7h0M27.3 44.1h0M30.0 40.8h0M28.7 48.2h0M27.5 41.3h0M26.2 49.7h0M24.0 48.8h0M28.1 46.1h0M28.1 41.4h0M31.3 44.2h0M29.0 42.9h0M25.7 49.6h0M23.9 43.8h0M24.3 35.6h0M29.5 44.0h0M21.4 43.6h0M26.0 45.8h0M25.8 45.1h0M26.3 44.9h0M25.3 48.4h0M23.2 35.0h0M21.8 40.4h0M27.0 46.9h0M28.9 36.0h0M22.2 47.2h0M31.7 47.2h0M26.3 49.3h0M31.4 49.1h0M27.2 42.4h0M25.1 41.7h0M23.2 45.8h0M29.6 42.4h0M28.9 47.4h0M26.3 43.7h0M30.9 40.0h0M24.7 41.8h0M24.5 46.9h0M28.4 42.5h0M28.5 34.6h0M29.4 38.6h0M29.2 40.6h0M28.4 47.5h0M22.6 53.5h0M22.7 41.6h0M28.6 47.2h0M27.3 42.3h0M28.9 45.9h0M25.7 49.8h0M31.1 40.9h0M25.5 38.5h0M23.2 44.9h0M29.4 36.5h0M26.0 45.7h0M25.0 48.5h0M28.4 43.7h0M30.0 45.8h0M29.8 47.2h0M25.9 51.9h0M24.7 46.0h0M25.7 39.7h0M23.0 50.1h0M30.5 49.7h0M21.1 47.4h0M27.0 47.2h0M27.4 47.1h0M28.0 49.7h0M27.1 41.3h0M20.4 45.6h0M20.7 41.0h0M26.6 43.4h0M24.5 53.2h0M22.6 50.3h0M25.8 43.4h0M26.9 46.5h0M21.7 46.6h0M26.2 43.9h0M26.7 43.4h0M29.8 39.4h0M24.5 46.6h0M26.1 48.8h0M26.9 53.2h0M29.6 39.2h0M29.7 39.7h0M27.6 42.1h0M22.7 48.2h0M28.3 42.4h0M24.3 40.0h0M26.3 49.8h0M25.4 43.7h0M25.5 37.6h0M25.6 40.7h0M30.0 44.9h0M30.3 43.6h0M27.1 51.3h0M28.0 44.4h0M28.0 45.8h0M29.9 40.9h0M25.3 39.4h0M30.1 47.3h0M25.8 46.9h0M32.1 48.1h0M26.4 39.1h0M30.0 42.4h0M22.2 49.0h0M24.3 41.9h0M32.8 41.9h0M28.9 42.7h0M27.2 40.8h0M27.5 47.4h0M25.8 48.1h0M28.8 38.0h0M31.8 44.8h0M29.1 51.4h0M24.1 38.6h0M25.7 53.5h0M31.2 48.3h0M23.9 42.0h0M26.1 44.5h0M23.4 44.2h0M25.3 46.3h0M23.9 41.2h0M27.0 47.4h0M26.9 44.9h0M26.2 40.8h0M25.4 39.5h0M28.2 46.0h0M26.2 39.5h0M25.5 43.1h0M29.5 42.2h0M27.2 40.6h0M28.5 42.6h0M24.2 34.1h0M25.7 42.1h0M29.9 37.5h0M24.9 37.6h0M28.8 45.3h0M25.6 47.1h0M27.1 41.4h0M26.5 47.0h0M29.3 52.9h0M27.4 44.3h0M26.9 39.7h0M26.2 46.8h0M25.5 42.4h0M23.0 47.0h0M29.6 43.9h0M27.1 44.9h0M26.8 42.8h0M29.5 45.5h0M25.6 37.7h0M29.5 42.9h0M28.2 41.3h0M23.2 47.0h0M29.9 35.5h0M27.1 43.4h0M22.3 52.8h0M25.3 46.6h0M26.7 53.5h0M24.1 41.9h0M27.4 47.6h0M26.6 49.7h0M29.9 46.0h0M22.8 39.1h0M22.1 41.5h0M29.2 52.2h0M27.2 48.4h0M25.5 42.5h0M28.7 35.6h0M26.1 39.5h0M27.3 46.9h0M27.2 50.9h0M26.9 50.3h0M27.3 33.6h0M26.6 39.4h0M25.6 31.8h0M25.9 42.2h0M23.5 42.7h0M28.9 44.3h0M28.5 39.4h0M31.4 39.3h0M23.2 44.9h0M28.3 50.5h0M28.7 48.8h0M22.3 44.9h0M24.9 33.0h0M30.8 37.9h0M28.4 48.2h0M25.8 38.9h0M30.3 43.9h0M27.1 44.6h0M27.6 47.1h0M27.1 48.9h0M26.5 37.1h0M24.4 46.8h0M24.1 45.1h0M28.7 40.6h0M26.5 37.5h0M23.1 46.4h0M27.2 38.3h0M25.4 40.4h0M25.7 40.7h0M25.2 37.2h0M25.5 50.1h0M26.0 47.3h0M25.7 41.8h0M30.7 45.3h0M25.0 47.5h0M22.7 36.3h0M25.8 41.8h0M26.9 37.6h0M27.8 42.9h0M25.9 45.6h0M25.6 49.2h0M24.2 45.4h0M26.2 32.3h0M23.8 41.3h0M27.8 37.4h0M25.0 41.4h0M22.6 41.2h0M29.2 48.6h0M23.7 40.0h0M24.6 33.0h0M32.8 40.1h0M27.4 41.3h0M25.7 36.1h0M23.6 43.0h0M24.6 47.3h0M25.0 45.8h0M28.0 37.7h0M29.9 42.8h0M29.4 47.5h0M22.3 35.9h0M22.5 48.0h0M26.6 48.6h0M23.5 47.7h0M26.5 46.9h0M28.3 44.4h0M30.3 36.8h0M25.5 49.0h0M23.6 47.6h0M26.7 45.3h0M28.5 37.8h0M28.7 47.4h0M23.4 38.5h0M22.0 45.3h0M30.6 41.5h0M22.0 49.2h0M28.7 44.1h0M22.7 37.7h0M25.8 51.5h0M30.8 39.1h0M21.6 43.3h0M28.8 40.0h0M26.8 48.4h0M30.5 44.2h0M27.3 46.7h0M24.5 47.7h0M26.8 40.0h0M26.3 42.4h0M25.2 47.5h0M28.7 48.7h0M25.3 47.3h0M25.8 52.4h0M23.5 49.1h0M25.0 35.1h0M28.6 37.2h0M24.1 43.5h0M27.7 43.3h0M27.6 45.3h0M21.9 50.1h0M30.5 40.9h0M28.5 42.4h0M24.2 42.5h0M21.1 40.6h0M28.4 49.0h0M27.8 45.1h0M24.7 48.8h0M31.8 45.7h0M31.4 44.5h0M25.9 48.4h0M26.9 42.7h0M25.0 44.6h0M26.4 35.8h0M27.9 52.5h0M27.5 46.3h0M28.0 48.4h0M28.7 42.2h0M23.4 46.2h0M27.7 41.2h0M25.8 46.3h0M30.9 40.9h0M24.0 43.9h0M24.3 41.5h0M23.9 49.9h0M27.8 44.8h0M28.2 48.3h0M23.9 46.9h0M24.9 36.4h0M27.7 41.1h0M30.6 42.6h0M25.8 39.7h0M26.1 43.5h0M28.3 40.1h0M24.6 38.6h0M24.7 41.9h0M26.1 40.6h0M29.1 40.3h0M27.2 43.2h0M27.6 44.4h0M25.4 43.9h0M25.1 43.2h0M29.7 48.2h0M30.3 39.8h0M29.8 46.1h0M28.3 42.6h0M31.4 39.5h0M27.2 37.2h0M25.8 45.9h0M27.2 45.3h0M30.2 38.8h0M21.8 49.1h0M22.4 42.4h0M32.9 47.6h0M26.2 48.6h0M24.3 47.6h0M25.5 40.5h0M23.9 41.0h0M27.3 53.0h0M29.2 48.6h0M26.2 52.5h0M26.3 51.2h0M23.2 47.0h0M23.7 42.4h0M26.1 34.9h0M27.6 44.3h0M21.9 43.4h0M26.3 36.1h0M24.8 49.1h0M25.4 43.0h0M26.3 42.9h0M23.6 43.2h0M21.2 44.7h0M25.7 37.3h0M22.4 45.0h0M25.3 40.8h0M25.0 45.0h0M29.4 41.8h0M21.3 39.6h0M24.0 46.1h0M29.6 45.7h0M24.2 48.6h0M25.3 38.1h0M26.5 40.5h0M28.6 40.0h0M29.7 47.5h0M23.0 41.9h0M25.6 40.0h0M27.5 42.8h0M31.2 45.3h0M29.1 48.7h0M27.8 48.0h0M24.7 48.9h0M29.2 49.3h0M25.1 41.2h0M29.7 43.6h0M23.4 47.1h0M27.2 34.6h0M25.0 33.1h0M24.3 42.3h0M24.4 50.0h0M25.9 37.0h0M28.6 45.6h0M22.7 48.6h0M22.9 39.5h0M30.6 41.5h0M26.7 39.8h0M25.8 33.9h0M25.7 40.1h0M29.1 41.8h0M24.3 41.5h0M21.4 45.9h0M21.7 37.8h0M27.3 42.3h0M32.1 37.0h0M27.5 52.7h0M24.8 37.5h0M29.3 53.1h0M24.5 48.0h0M28.4 44.5h0M28.8 42.6h0M28.3 42.6h0M26.1 38.6h0M26.4 43.4h0M24.1 40.3h0M25.5 50.8h0M27.9 47.2h0M30.2 47.4h0M31.1 50.9h0M28.6 43.4h0M26.9 43.5h0M24.6 36.3h0M27.7 37.3h0M28.5 52.5h0M26.9 39.3h0M24.8 46.9h0M26.3 41.8h0M27.3 38.2h0M23.8 45.8h0M24.6 47.0h0M25.3 44.3h0M26.2 50.2h0M25.8 44.3h0M23.5 44.6h0M26.1 45.4h0M21.1 47.0h0M26.8 45.4h0M27.7 48.9h0M23.9 41.3h0M27.3 36.6h0M28.0 41.5h0M28.3 51.3h0M31.7 40.4h0M26.8 40.2h0M22.9 44.5h0M24.9 37.8h0M25.7 40.9h0M23.5 44.9h0M28.0 45.8h0M24.7 39.5h0M20.4 47.3h0M29.3 39.6h0M22.9 38.0h0M30.4 42.9h0M25.4 44.3h0M26.6 42.4h0M26.1 47.1h0M29.2 38.5h0M26.2 43.6h0M28.4 47.5h0M26.3 46.6h0M29.9 49.9h0M24.4 44.8h0M27.6 38.7h0M25.7 41.7h0M29.0 44.1h0M32.0 46.6h0M25.4 45.2h0M26.9 40.0h0M27.6 37.2h0M27.1 41.6h0M26.9 40.5h0M31.3 40.7h0M28.7 44.3h0M29.8 40.6h0M23.2 47.3h0M29.4 47.1h0M30.6 44.1h0M24.2 46.4h0M21.9 42.4h0M28.3 50.6h0M25.5 42.9h0M22.9 43.3h0M24.7 44.0h0M24.6 46.1h0M26.3 40.6h0M28.2 46.5h0M25.9 43.0h0M28.8 46.4h0M26.2 53.4h0M25.3 37.7h0M24.8 45.0h0M29.1 39.3h0M27.6 37.8h0M26.5 42.8h0M30.8 35.0h0M25.2 34.8h0M25.3 42.4h0M26.6 48.9h0M24.1 41.3h0M30.6 44.1h0M24.0 44.0h0M23.6 39.7h0M25.1 36.6h0M31.5 42.0h0M27.2 42.7h0M26.3 40.0h0M27.7 41.8h0M24.3 48.3h0M30.7 46.0h0M28.0 42.4h0M26.9 47.4h0M26.7 50.3h0M30.4 45.1h0M27.2 39.9h0M25.4 40.8h0M25.6 39.6h0M27.6 45.5h0M26.2 51.7h0M27.3 43.6h0M27.1 41.1h0M28.6 39.6h0M26.5 53.4h0M27.3 38.8h0M23.5 49.4h0M21.5 51.8h0M30.2 41.7h0M27.3 41.7h0M24.0 46.0h0M24.7 46.8h0M27.5 41.0h0M26.8 44.1h0M26.1 42.8h0M29.9 40.4h0M27.0 48.8h0M27.7 42.0h0M23.5 42.6h0M21.3 41.8h0M26.5 50.2h0M28.3 48.9h0M27.8 45.1h0M22.3 41.2h0M26.0 43.5h0M23.2 36.6h0M27.1 42.6h0M26.6 42.8h0M25.9 38.4h0M28.9 45.8h0M26.5 52.1h0M24.6 47.8h0M26.4 44.0h0M28.9 43.9h0M26.5 38.2h0M27.3 45.8h0M25.4 38.3h0M29.2 44.6h0M29.7 43.6h0M28.5 44.6h0M27.2 42.9h0M28.1 47.9h0M26.8 39.1h0M29.2 48.6h0M23.4 45.1h0M30.7 46.8h0M25.2 45.3h0M27.5 38.8h0M25.8 42.4h0M25.7 50.2h0M21.8 39.1h0M24.7 49.9h0M26.4 42.7h0M26.0 51.3h0M31.8 45.0h0M24.0 42.6h0M21.9 48.3h0M26.0 49.2h0M25.0 40.4h0M20.8 45.1h0M29.4 33.8h0M23.7 43.5h0M29.4 52.8h0M31.0 45.2h0M22.7 40.0h0M28.0 44.0h0M24.4 43.5h0M25.7 46.6h0M27.4 47.5h0M24.7 50.9h0M30.2 46.3h0M23.7 38.9h0M26.0 43.4h0M24.2 43.4h0M22.4 43.1h0M23.0 45.2h0M19.9 40.4h0M25.4 37.1h0M25.4 43.0h0M30.1 47.1h0M25.5 47.7h0M26.4 47.7h0M25.4 45.2h0M25.7 48.4h0M31.3 51.4h0M30.4 43.2h0M30.9 42.6h0M26.5 39.8h0M29.1 36.3h0M26.3 47.2h0M23.5 46.2h0M23.7 42.4h0M27.5 50.5h0M32.2 39.3h0M22.1 40.5h0M27.2 43.4h0M23.1 39.8h0M27.1 44.1h0M32.0 38.4h0M23.2 49.0h0M25.2 44.5h0M29.9 41.3h0M25.9 44.0h0M26.7 51.9h0M30.4 40.9h0M30.0 36.8h0M24.7 40.5h0M24.9 44.6h0M27.3 39.7h0M27.6 40.8h0M28.0 45.2h0M23.5 39.6h0M29.2 43.5h0M27.3 42.3h0M30.7 46.0h0M24.7 44.9h0M23.6 41.9h0M25.6 39.1h0M24.2 48.8h0M24.1 42.8h0M23.2 49.7h0M24.0 47.3h0M28.3 46.4h0M25.2 33.6h0M24.1 42.8h0M22.6 38.4h0M27.4 43.8h0M29.4 45.9h0M30.0 45.1h0M26.2 44.7h0M28.9 48.3h0M28.3 41.6h0M23.7 48.5h0M29.4 39.1h0M26.7 39.3h0M26.8 53.8h0M25.6 41.9h0M26.4 41.7h0M27.6 36.5h0M28.6 40.3h0M29.9 44.8h0M26.2 46.2h0M31.9 50.7h0M24.4 50.7h0M26.1 44.7h0M25.6 42.2h0M28.1 44.8h0M28.6 41.5h0M24.2 41.9h0M25.9 45.6h0M31.5 44.5h0M31.5 48.1h0M29.3 35.6h0M25.6 43.8h0M26.6 34.8h0M27.4 52.4h0M30.3 45.2h0M28.0 43.9h0M20.8 46.4h0M29.2 37.1h0M32.9 47.5h0M28.0 50.7h0M24.0 43.5h0M22.6 48.4h0M28.6 42.0h0M21.1 42.3h0M25.7 43.6h0M25.2 42.4h0M27.0 41.1h0M24.4 42.8h0M26.4 39.2h0M22.6 43.2h0M26.6 49.8h0M25.1 43.8h0M26.0 40.9h0M23.0 34.7h0M21.6 38.7h0M24.1 41.4h0M21.5 45.1h0M27.5 38.0h0M24.6 41.7h0M28.2 49.4h0M28.2 47.1h0M30.0 47.0h0M27.1 46.4h0M29.2 44.6h0M29.3 41.3h0M23.6 43.7h0M28.1 53.5h0M26.1 39.0h0M21.7 39.6h0M25.6 41.9h0M27.5 44.0h0M25.0 42.6h0M23.1 40.8h0M27.3 35.7h0M25.7 40.2h0M26.7 46.6h0M26.3 48.3h0M25.1 45.4h0M24.0 36.1h0M23.7 42.4h0M27.9 52.5h0M27.7 46.8h0M24.2 51.8h0M24.8 43.2h0M31.8 48.2h0M32.5 41.0h0M27.6 38.1h0M27.6 40.8h0M30.1 46.3h0M21.9 42.1h0M24.4 44.3h0M29.3 38.2h0M25.9 47.0h0M24.1 41.8h0M24.7 48.7h0M28.6 38.5h0M29.5 51.5h0M25.7 45.4h0M28.2 47.2h0M32.5 44.4h0M25.7 44.9h0M26.3 35.2h0M28.9 45.2h0M24.3 39.7h0M22.3 44.6h0M27.4 44.6h0M29.2 42.6h0M23.4 44.1h0M30.8 50.3h0M26.6 52.8h0M24.0 41.2h0M25.5 53.5h0M26.7 39.6h0M27.7 34.5h0M27.2 39.2h0M24.6 45.1h0M26.3 41.4h0M26.6 40.4h0M30.1 45.5h0M27.4 50.5h0M31.6 36.7h0M26.9 38.1h0M28.3 41.1h0M24.7 42.6h0M29.7 39.3h0M27.6 42.5h0M25.7 44.4h0M31.4 41.8h0M27.1 45.7h0M22.4 42.5h0M28.1 45.6h0M26.8 39.1h0M25.6 46.6h0M24.6 48.3h0M27.7 51.4h0M22.3 43.7h0M22.3 38.5h0M31.9 47.3h0M27.6 38.8h0M26.7 46.1h0M30.2 34.3h0M26.3 38.3h0M26.7 42.3h0M30.5 51.7h0M25.5 48.3h0M27.4 44.9h0M22.6 53.7h0M26.3 38.8h0M22.9 51.0h0M27.3 48.3h0M26.9 37.3h0M26.0 40.1h0M23.6 44.6h0M24.6 45.4h0M27.0 41.4h0M24.2 42.6h0M29.4 48.9h0M29.8 39.8h0M24.2 44.9h0M26.5 46.9h0M27.7 37.0h0M27.2 51.0h0M26.3 43.6h0M26.7 36.4h0M28.5 45.8h0M28.9 41.2h0M24.6 38.8h0M26.2 43.7h0M28.1 39.3h0M24.6 38.3h0M25.2 47.9h0M29.0 44.0h0M29.6 45.9h0M25.4 46.9h0M23.2 40.4h0M27.1 43.9h0M24.8 42.3h0M23.7 40.1h0M29.2 49.6h0M22.4 47.4h0M24.6 37.1h0M25.1 44.4h0M29.5 49.0h0M27.0 49.7h0M21.1 43.3h0M26.0 42.6h0M28.0 42.8h0M24.0 41.7h0M26.0 41.6h0M22.4 41.5h0M25.0 44.4h0M28.1 41.9h0M28.2 40.2h0M25.0 45.3h0M25.5 47.1h0M28.8 40.9h0M32.3 47.1h0M24.9 38.1h0M26.1 44.0h0M28.3 45.3h0M28.3 36.7h0M25.0 43.4h0M28.7 43.2h0M27.2 39.0h0M29.7 44.1h0M23.0 42.4h0M25.9 44.5h0M31.9 38.1h0M30.2 37.9h0M26.3 38.4h0M26.4 49.0h0M31.2 48.1h0M26.2 47.7h0M22.5 43.0h0M24.6 33.7h0M25.7 37.6h0M29.8 39.4h0M29.8 42.6h0M29.4 46.8h0M30.3 39.4h0M23.0 44.6h0M26.8 48.9h0M26.5 44.7h0M29.9 45.3h0M26.3 44.3h0M29.8 50.0h0M30.8 46.0h0M23.9 47.9h0M25.8 39.9h0M26.3 40.3h0M23.1 44.2h0M24.1 48.0h0M27.5 37.8h0M27.8 45.7h0M23.4 47.6h0M25.5 42.4h0M28.5 33.4h0M25.1 47.1h0M27.6 50.6h0M28.1 44.1h0M29.7 43.1h0M22.6 48.9h0M29.5 46.3h0M29.4 35.5h0M27.8 37.4h0M25.1 40.0h0M29.5 39.9h0M29.2 47.4h0M27.6 45.7h0M29.9 44.9h0M28.6 46.2h0M22.1 52.9h0M28.1 43.4h0M28.3 39.3h0M26.2 38.2h0M26.3 49.0h0M23.1 38.9h0M28.1 40.7h0M29.7 44.0h0M27.9 48.9h0M32.0 50.3h0M28.5 43.3h0M28.8 47.9h0M26.5 39.7h0M24.1 37.0h0M27.6 49.1h0M28.1 42.8h0M23.6 46.0h0M26.4 50.7h0M26.7 43.8h0M26.9 37.4h0M31.0 41.7h0M27.0 45.0h0M28.3 40.1h0M24.8 42.5h0M24.1 39.8h0M28.7 42.4h0M28.4 42.5h0M27.6 40.7h0M30.8 41.0h0M28.0 52.5h0M30.9 40.6h0M24.8 45.1h0M27.4 50.0h0M25.5 46.6h0M26.2 41.0h0M30.6 50.9h0M28.4 45.4h0M25.7 52.6h0M24.2 49.4h0M25.0 46.9h0M27.1 42.2h0M26.1 45.0h0M25.5 40.5h0M30.4 40.2h0M27.0 38.4h0M23.3 41.5h0M32.6 44.8h0M28.7 48.0h0M23.9 39.4h0M26.4 48.7h0M27.1 38.1h0M26.4 36.1h0M27.5 37.4h0M24.2 34.9h0M24.5 40.9h0M29.0 41.8h0M26.0 41.3h0M26.9 41.9h0M23.4 42.6h0M28.3 35.9h0M21.3 47.7h0M26.2 39.7h0M22.5 42.4h0M29.5 40.8h0M28.5 43.2h0M23.5 49.7h0M29.4 42.2h0M28.8 46.6h0M31.1 48.2h0M27.0 47.5h0M26.1 38.8h0M25.8 41.7h0M29.9 44.3h0M28.1 40.0h0M28.7 41.1h0M22.5 46.9h0M27.3 50.7h0M31.3 43.8h0M23.0 33.3h0M26.8 37.3h0M30.3 46.3h0M23.4 34.5h0M30.8 49.1h0M29.5 51.2h0M28.1 40.4h0M27.2 44.0h0M25.0 43.3h0M26.0 32.8h0M27.2 40.6h0M29.2 42.8h0M21.2 38.3h0M25.6 48.5h0M20.9 42.9h0M30.0 46.6h0M23.8 43.0h0M27.7 49.0h0M25.4 42.6h0M26.2 38.2h0M25.0 47.3h0M25.4 41.2h0M24.6 39.8h0M28.6 45.2h0M27.8 44.7h0M26.8 47.0h0M24.6 42.1h0M23.5 49.9h0M28.7 44.2h0M27.8 47.2h0M28.6 46.8h0M26.6 43.3h0M29.4 47.3h0M27.7 49.3h0M24.5 44.0h0M23.6 49.2h0M28.5 44.0h0M25.4 43.2h0M28.4 46.5h0M24.4 42.0h0M25.3 43.4h0M24.8 39.5h0M31.7 40.6h0M27.2 45.8h0M30.2 49.9h0M25.7 46.9h0M29.1 45.6h0M24.6 52.2h0M29.4 43.1h0M26.9 45.1h0M26.6 47.4h0M24.5 41.6h0M26.0 37.5h0M23.2 39.7h0M23.2 47.9h0M29.4 46.1h0M23.6 45.4h0M26.9 37.0h0M29.7 45.9h0M28.5 33.4h0M24.1 51.9h0M27.8 41.0h0M24.4 39.4h0M25.3 32.3h0M27.1 44.0h0M24.9 43.0h0M25.1 49.2h0M24.4 43.1h0M30.7 50.8h0M24.7 35.1h0M31.7 39.6h0M25.6 43.9h0M28.7 41.4h0M25.6 41.7h0M23.4 48.7h0M25.3 44.6h0M24.6 47.9h0M31.9 40.5h0M26.7 43.6h0M30.7 41.2h0M29.7 45.2h0M29.1 41.3h0M24.4 42.3h0M29.1 43.2h0M28.8 51.4h0M22.3 38.5h0M24.9 40.5h0M28.1 38.3h0M24.1 43.1h0M26.4 44.2h0M26.5 36.0h0M25.1 46.1h0M27.4 45.8h0M23.5 40.4h0M21.6 42.4h0M23.8 46.9h0M25.7 49.4h0M32.5 45.1h0M27.7 37.7h0M25.1 31.9h0M28.3 50.1h0M25.9 42.3h0M27.0 41.5h0M27.9 46.9h0M22.8 33.5h0M25.9 42.7h0M22.5 47.2h0M30.3 46.4h0M22.6 44.7h0M23.9 48.6h0M27.4 45.5h0M28.9 46.8h0M26.9 47.9h0M29.5 41.4h0M23.7 52.3h0M26.1 47.5h0M28.1 46.7h0M29.5 45.4h0M30.1 43.8h0M24.0 50.8h0M26.7 47.5h0M26.9 45.1h0M30.8 37.5h0M24.2 45.0h0M29.9 45.2h0M28.0 47.9h0M25.8 35.9h0M21.7 42.3h0M24.0 44.3h0M26.1 32.4h0M29.2 46.9h0M24.2 37.3h0M30.5 45.0h0M25.8 38.9h0M24.6 51.5h0M24.5 43.7h0M25.4 42.9h0M23.1 49.9h0M26.8 47.7h0M23.8 42.8h0M32.1 43.5h0M25.3 36.8h0M24.7 46.5h0M25.2 40.6h0M29.6 51.8h0M25.5 41.8h0M22.1 38.9h0M23.4 43.4h0M26.9 46.1h0M20.2 42.8h0M23.2 43.1h0M21.1 41.6h0M25.7 38.0h0M26.9 45.6h0M28.7 37.9h0M22.8 43.8h0M26.7 40.8h0M21.9 43.6h0M29.5 39.1h0M28.0 37.5h0M28.4 36.9h0M29.4 43.3h0M29.6 41.6h0M22.6 38.9h0M23.7 45.0h0M24.7 46.5h0M26.1 41.3h0M25.0 42.3h0M27.8 50.2h0M25.1 43.9h0M29.4 50.6h0M24.0 37.8h0M24.9 49.8h0M25.2 48.4h0M26.0 46.7h0M27.7 43.2h0M24.7 44.1h0M28.7 42.6h0M22.8 43.2h0M28.9 37.6h0M23.4 47.5h0M17.5 41.5h0M10.8 49.6h0M16.0 35.7h0M17.5 51.3h0M12.4 44.0h0M3.6 47.6h0M9.8 53.1h0M23.1 48.0h0M4.1 44.2h0M17.4 45.8h0M13.5 42.0h0M22.6 42.8h0M11.3 36.5h0M19.5 40.1h0M10.7 45.3h0M12.3 42.0h0M13.1 45.3h0M1.7 40.2h0M21.5 45.7h0M13.0 53.5h0M5.3 50.0h0M17.8 41.5h0M8.7 46.1h0M5.5 50.3h0M8.1 51.5h0M12.3 49.5h0M15.2 49.3h0M14.8 45.3h0M20.8 48.2h0M5.4 48.4h0M14.2 45.5h0M14.1 43.5h0M7.1 37.7h0M7.0 50.7h0M14.2 47.4h0M11.5 49.3h0M10.5 41.8h0M13.8 45.1h0M2.0 44.7h0M11.8 44.3h0M6.8 44.5h0M10.4 47.7h0M2.1 42.5h0M14.2 42.7h0M3.4 39.1h0M9.3 47.4h0M10.9 45.3h0M14.1 44.3h0M0.8 45.0h0M10.9 53.7h0M9.9 53.8h0M8.8 38.7h0M7.9 43.5h0M9.1 43.2h0M26.1 46.0h0M8.6 44.5h0M9.6 49.3h0M9.8 48.7h0M3.1 45.6h0M9.1 45.4h0M1.5 41.9h0M18.6 44.5h0M17.3 37.6h0M7.5 45.1h0M6.5 45.8h0M12.8 46.2h0M16.0 49.1h0M8.2 45.0h0M11.1 39.7h0M1.0 52.2h0M10.8 46.1h0M11.4 43.6h0M9.0 50.6h0M9.1 38.4h0M1.7 39.0h0M17.7 42.0h0M1.8 43.8h0M10.5 45.6h0M17.7 42.9h0M16.1 37.4h0M16.3 52.4h0M4.0 48.0h0M2.7 45.1h0M13.4 42.3h0M2.1 44.2h0M9.3 46.3h0M10.3 37.2h0M17.4 46.7h0M17.1 53.7h0M8.8 42.3h0M18.5 44.4h0M9.6 37.8h0M2.5 46.4h0M22.7 46.3h0M8.6 43.1h0M1.7 39.5h0M15.0 52.6h0M7.5 41.0h0M17.0 37.6h0M7.7 49.9h0M20.8 41.7h0M11.6 46.7h0M10.9 44.3h0M11.1 45.4h0M8.5 43.8h0M9.8 49.4h0M3.5 51.0h0M17.2 45.3h0M22.8 40.9h0M10.2 41.9h0M2.6 47.0h0M15.7 49.5h0M9.6 42.8h0M19.3 39.0h0M9.1 42.6h0M4.9 39.1h0M6.9 46.7h0M7.8 46.0h0M5.0 40.2h0M15.4 44.1h0M8.0 46.9h0M16.6 42.2h0M10.2 43.7h0M19.2 38.9h0M4.7 44.3h0M13.1 49.4h0M21.3 43.3h0M13.5 44.8h0M4.4 45.7h0M9.4 50.2h0M8.0 38.6h0M11.5 42.1h0M10.6 46.3h0M12.2 48.2h0M5.6 44.4h0M13.1 42.1h0M9.1 42.4h0M16.9 44.5h0M2.9 45.6h0M4.6 43.3h0M1.0 43.7h0M15.3 47.6h0M13.9 40.9h0M9.6 44.4h0M8.0 43.4h0M4.5 45.2h0M11.0 39.9h0M5.4 46.2h0M9.5 46.9h0M2.6 44.2h0M3.1 44.7h0M5.1 42.4h0M13.8 49.4h0M9.2 45.7h0M3.0 42.5h0M6.7 46.3h0M21.7 36.6h0M17.8 50.6h0M13.8 43.2h0M15.0 38.4h0M5.5 47.8h0M3.5 36.7h0M8.6 47.1h0M10.4 46.4h0M15.4 45.8h0M4.9 39.0h0M14.1 43.5h0M16.2 49.8h0M5.4 42.2h0M18.6 45.5h0M1.9 43.9h0M7.0 49.9h0M0.9 41.8h0M15.4 48.3h0M11.3 42.4h0M14.5 45.8h0M10.2 39.1h0M6.7 49.8h0M4.4 48.2h0M16.6 48.1h0M8.8 42.5h0M6.7 38.8h0M4.9 41.3h0M17.7 50.7h0M11.7 37.9h0M8.5 42.4h0M18.2 40.4h0M12.6 44.4h0M15.6 42.1h0M21.2 46.1h0M8.6 43.7h0M6.5 49.3h0M15.4 43.6h0M16.4 51.5h0M17.6 46.6h0M3.0 40.7h0M15.3 44.2h0M7.8 50.0h0M14.8 50.9h0M7.7 40.4h0M9.0 48.4h0M2.3 44.5h0M14.1 45.6h0M13.0 34.0h0M13.5 48.9h0M3.4 46.0h0M9.7 44.5h0M1.0 41.3h0M5.0 44.9h0M12.6 42.5h0M26.7 46.7h0M10.0 43.1h0M11.4 40.9h0M8.5 42.3h0M15.3 41.3h0M1.8 42.8h0M17.5 46.3h0M6.9 44.2h0M4.2 41.1h0M11.9 41.7h0M3.7 43.1h0M10.1 47.0h0M6.4 45.5h0M12.7 52.1h0M10.7 35.1h0M12.0 40.1h0M12.3 45.2h0M13.4 41.1h0M17.1 38.5h0M0.7 38.2h0M11.5 50.9h0M11.1 39.4h0M13.8 38.3h0M10.1 51.1h0M9.3 38.3h0M9.7 46.1h0M10.2 34.7h0M13.3 40.0h0M6.4 49.5h0M14.2 42.1h0M14.9 53.3h0M20.5 42.3h0M22.5 43.4h0M1.9 40.4h0M8.8 52.2h0M7.6 40.3h0M12.6 44.9h0M17.8 39.9h0M15.0 40.1h0M6.5 48.7h0M5.8 46.7h0M6.6 48.7h0M12.0 46.6h0M21.4 39.5h0M15.1 45.5h0M2.5 44.3h0M12.1 39.6h0M6.4 50.1h0M7.4 38.6h0M6.4 46.4h0M7.6 46.3h0M16.3 53.4h0M11.4 41.5h0M12.1 43.7h0M4.9 52.6h0M21.7 41.4h0M10.5 51.2h0M2.8 48.8h0M11.5 41.3h0M10.1 47.1h0M12.1 42.5h0M12.4 45.8h0M2.4 38.8h0M4.4 44.2h0M9.3 47.8h0M7.9 44.2h0M18.2 39.2h0M16.9 41.1h0M18.6 46.0h0M5.1 51.8h0M10.6 47.9h0M10.6 48.7h0M2.3 43.5h0M19.8 43.3h0M5.9 42.0h0M9.8 43.5h0M20.6 50.3h0M9.1 48.6h0M4.8 47.3h0M16.9 42.6h0M8.1 45.9h0M17.6 42.5h0M14.9 44.4h0M5.6 49.5h0M20.1 39.3h0M11.2 43.2h0M1.6 45.1h0M9.5 41.9h0M0.5 47.9h0M17.6 44.9h0M21.5 44.3h0M9.2 42.8h0M7.6 44.5h0M14.8 51.4h0M13.0 43.6h0M6.1 37.7h0M19.9 43.1h0M8.9 38.6h0M12.7 44.2h0M4.3 46.6h0M26.3 43.4h0M8.5 47.2h0M5.0 43.3h0M20.6 43.5h0M11.1 40.6h0M0.9 43.3h0M9.0 39.4h0M6.1 46.1h0M11.3 51.9h0M4.5 39.5h0M12.8 42.9h0M14.1 41.3h0M6.6 47.3h0M20.8 42.6h0M14.5 46.8h0M18.9 38.1h0M5.4 39.1h0M17.6 48.9h0M13.7 40.9h0M13.3 46.6h0M21.0 39.1h0M8.9 47.2h0M8.7 40.2h0M7.1 53.9h0M15.8 49.5h0M13.1 44.1h0M7.5 43.6h0M7.8 43.4h0M1.2 42.7h0M10.6 40.2h0M20.0 51.5h0M3.5 39.5h0M4.9 43.8h0M2.6 45.4h0M7.6 47.9h0M5.6 47.7h0M6.7 39.1h0M16.5 44.8h0M21.0 44.6h0M8.7 53.1h0M3.9 39.3h0M12.2 38.9h0M8.9 36.9h0M19.4 47.4h0M12.9 41.8h0M14.6 43.2h0M1.8 44.7h0M5.8 43.2h0M10.9 53.3h0M12.7 44.2h0M14.6 42.8h0M15.6 48.1h0M19.3 44.6h0M8.6 50.4h0M8.8 42.0h0M17.2 42.8h0M16.1 49.7h0M4.1 44.5h0M10.8 44.0h0M7.9 50.5h0M10.8 45.4h0M10.2 42.1h0M12.4 48.7h0M2.7 46.8h0M20.4 48.2h0M19.8 45.1h0M6.2 42.4h0M9.2 41.1h0M19.2 49.3h0M13.0 46.6h0M6.9 39.2h0M8.9 42.7h0M7.8 40.7h0M8.6 46.4h0M10.5 50.7h0M9.0 51.4h0M9.6 45.0h0M11.6 44.9h0M3.9 37.2h0M6.0 43.7h0M10.7 48.8h0M13.5 40.8h0M12.5 41.2h0M0.7 41.2h0M6.6 37.8h0M8.4 41.4h0M16.9 38.9h0M12.8 41.6h0M4.9 47.1h0M14.5 40.1h0M0.6 37.9h0M4.1 48.5h0M3.9 44.9h0M0.6 44.2h0M17.9 47.5h0M7.1 46.9h0M3.4 37.1h0M4.7 36.9h0M13.1 48.6h0M10.2 46.3h0M7.9 42.5h0M14.1 40.1h0M4.1 52.8h0M7.4 38.3h0M13.2 39.8h0M2.5 49.5h0M15.2 50.9h0M22.2 50.8h0M15.3 43.3h0M4.4 50.3h0M17.6 43.1h0M2.0 46.3h0M20.6 50.0h0M3.1 38.9h0M11.7 42.6h0M7.0 51.1h0M13.8 49.6h0M4.0 44.3h0M17.9 47.4h0M18.9 49.2h0M12.4 42.8h0M4.5 39.8h0M5.1 42.4h0M10.3 42.5h0M11.6 48.7h0M6.6 45.5h0M18.5 40.4h0M7.3 48.7h0M12.4 47.5h0M10.1 53.7h0M7.3 44.2h0M14.8 42.3h0M21.2 46.3h0M9.7 36.8h0M21.1 50.9h0M14.7 50.0h0M20.8 44.1h0M2.2 48.7h0M10.1 40.2h0M10.1 37.9h0M9.5 51.3h0M6.0 43.4h0M1.8 42.5h0M5.3 35.7h0M16.9 52.2h0M10.5 44.2h0M21.9 47.6h0M19.5 44.0h0M1.2 44.4h0M5.2 47.0h0M9.0 40.2h0M8.1 43.7h0M8.1 51.8h0M14.2 52.4h0M8.7 43.6h0M14.1 48.5h0M5.3 44.0h0M10.9 41.3h0M1.1 45.6h0M16.4 51.3h0M14.0 44.6h0M11.5 38.3h0M6.7 35.6h0M6.0 37.2h0M8.2 40.5h0M11.3 41.4h0M14.3 38.4h0M19.0 51.6h0M8.7 39.8h0M12.2 39.8h0M11.5 43.9h0M19.3 47.8h0M1.5 44.7h0M5.6 50.6h0M17.7 44.3h0M11.2 40.2h0M1.6 45.7h0M13.1 41.1h0M21.5 46.7h0M21.8 37.5h0M7.2 46.7h0M14.6 46.1h0M4.2 43.3h0M3.4 45.4h0M16.8 51.8h0M18.3 45.4h0M2.5 49.0h0M6.5 43.9h0M12.8 43.9h0M16.3 45.8h0M4.4 39.5h0M18.2 47.8h0M6.7 38.1h0M4.6 42.5h0M13.1 45.5h0M15.2 48.3h0M4.6 40.3h0M6.9 41.0h0M13.6 50.0h0M13.0 40.8h0M18.5 52.7h0M17.8 48.7h0M4.0 47.5h0M13.7 42.7h0M16.1 35.6h0M10.5 42.9h0M8.5 46.3h0M8.1 49.4h0M20.4 42.6h0M11.7 45.2h0M16.4 41.0h0M16.5 39.5h0M3.3 43.4h0M9.3 34.0h0M4.8 44.0h0M5.1 46.7h0M13.1 41.2h0M3.2 43.3h0M23.8 49.0h0M4.2 38.5h0M3.0 45.5h0M20.0 46.7h0M4.0 39.5h0M15.2 48.1h0M8.3 44.9h0M18.3 45.6h0M18.1 48.8h0M12.0 52.4h0M7.0 48.4h0M2.9 50.2h0M3.9 53.4h0M12.3 52.9h0M15.0 38.5h0M10.2 46.4h0M6.2 48.8h0M15.0 44.0h0M6.7 40.4h0M10.3 46.7h0M11.2 45.6h0M9.0 44.2h0M9.5 41.6h0M5.9 52.7h0M17.6 50.6h0M22.9 43.5h0M8.9 47.2h0M11.4 43.1h0M3.3 49.0h0M13.9 39.3h0M3.8 44.8h0M6.6 37.8h0M12.9 40.2h0M10.5 40.2h0M15.3 49.6h0M8.6 15.5h0M9.6 15.1h0M13.3 13.0h0M4.7 19.6h0M11.4 13.1h0M6.6 17.8h0M5.6 11.6h0M9.7 13.7h0M7.2 14.3h0M8.6 13.4h0M7.2 14.7h0M4.9 16.7h0M4.3 15.4h0M12.1 14.8h0M6.7 15.7h0M8.6 19.5h0M6.6 12.1h0M7.2 13.4h0M4.5 15.5h0M5.9 17.6h0M9.6 17.4h0M5.4 12.6h0M8.4 10.4h0M5.6 13.0h0M5.8 16.8h0M8.1 14.7h0M8.8 17.0h0M8.7 18.4h0M11.0 14.3h0M4.4 14.2h0M5.1 17.1h0M6.8 12.9h0M7.7 16.7h0M10.5 15.7h0M6.6 13.7h0M4.8 13.8h0M8.2 16.1h0M8.0 9.5h0M6.4 18.3h0M4.5 16.4h0M6.0 17.8h0M8.4 16.7h0M8.8 17.7h0M4.9 12.9h0M6.0 18.4h0M2.1 17.5h0M6.5 16.2h0M5.3 16.0h0" stroke="#000" stroke-opacity="0.2" stroke-width="0.75" stroke-linecap="square" fill="none" filter="url(#b03)"/>
<line x1="221.6" y1="201.9" x2="276.2" y2="201.9" stroke="#777" stroke-width="0.9" stroke-dasharray="2 1.3 0.8 0.9 3 1.1"/>
<line x1="221.1" y1="202.1" x2="231.1" y2="202.1" stroke="#444" stroke-width="1" opacity="0.7"/>
<line x1="222.29999999999998" y1="153.9" x2="222.29999999999998" y2="201.4" stroke="#aaa" stroke-width="0.6" stroke-dasharray="1 2.3 0.8 1.9 1.5 3.1"/>
<text x="255.8" y="155" font-size="8.3" text-anchor="start" fill="#000" font-weight="bold" font-style="italic" textLength="18.8" lengthAdjust="spacingAndGlyphs" >#127</text>
<line x1="221.6" y1="19.3" x2="248.1" y2="19.3" stroke="#999" stroke-width="1.5" stroke-dasharray="3 0.6 1.5 0.5 0.8 0.7 2.4 0.5 2 0.8 3.1 0.5"/>
<line x1="65.2" y1="17.3" x2="65.2" y2="157.5" stroke="#505050" stroke-width="1.5"/>
<path d="M65.2 14.3L67.60000000000001 18.9L62.800000000000004 18.9Z" fill="#000"/>
<line x1="147.15" y1="17.2" x2="147.15" y2="157" stroke="#2a2a2a" stroke-width="1.3"/>
<path d="M147.15 14.2L149.55 18.799999999999997L144.75 18.799999999999997Z" fill="#000"/>
<line x1="215.3" y1="17.5" x2="215.3" y2="180.5" stroke="#8c8c8c" stroke-width="0.9"/>
<path d="M215.3 14.5L217.70000000000002 19.1L212.9 19.1Z" fill="#000"/>
<text x="67.2" y="201.8" font-size="8.4" text-anchor="start" fill="#000" textLength="42" lengthAdjust="spacingAndGlyphs" transform="rotate(-90 67.2 201.8)" >Syndecan1</text>
<text x="148.2" y="202.3" font-size="8.1" text-anchor="start" fill="#000" textLength="39.8" lengthAdjust="spacingAndGlyphs" transform="rotate(-90 148.2 202.3)" >Syndecan1</text>
<text x="216.7" y="201.6" font-size="8.2" text-anchor="start" fill="#000" textLength="18.8" lengthAdjust="spacingAndGlyphs" transform="rotate(-90 216.7 201.6)" >B220</text>
<text x="70.8" y="212.2" font-size="8.7" text-anchor="start" fill="#000" textLength="18.4" lengthAdjust="spacingAndGlyphs" >B220</text>
<line x1="91.3" y1="209.5" x2="127" y2="209.5" stroke="#222" stroke-width="1.0"/>
<path d="M130 209.5L125 207.2L125 211.8Z" fill="#000"/>
<text x="153" y="211.6" font-size="8.3" text-anchor="start" fill="#000" textLength="44.6" lengthAdjust="spacingAndGlyphs" >Blimp1/GFP</text>
<line x1="199.5" y1="209.5" x2="284.3" y2="209.5" stroke="#222" stroke-width="1.0"/>
<path d="M287.3 209.5L282.3 207.2L282.3 211.8Z" fill="#000"/>
<text x="299.8" y="9" font-size="11.5" text-anchor="start" fill="#000" font-weight="bold" style="stroke-width:0.45px">B</text>
<text x="303.6" y="36.5" font-size="7.8" text-anchor="start" fill="#000" textLength="11" lengthAdjust="spacingAndGlyphs" >Alb</text>
<text x="304.8" y="62.9" font-size="7.8" text-anchor="start" fill="#000" textLength="9.6" lengthAdjust="spacingAndGlyphs" >Hb</text>
<g filter="url(#b0709)">
<linearGradient id="sm316_0" x1="0" y1="0" x2="0" y2="1"><stop offset="0" stop-color="#000" stop-opacity="0.13"/><stop offset="1" stop-color="#000" stop-opacity="0.08"/></linearGradient>
<rect x="316.8" y="35" width="9.6" height="26.0" fill="url(#sm316_0)"/>
<rect x="316.6" y="42" width="10.0" height="2.5" rx="1" fill="#000" opacity="0.14"/>
<rect x="316.6" y="59" width="10.0" height="2.5" rx="1" fill="#000" opacity="0.2"/>
</g>
<rect x="316.70000000000005" y="31.6" width="9.8" height="3.8" rx="1.9" fill="#000" opacity="1" filter="url(#b07)"/>
<text x="315.3" y="26.7" font-size="5.7" text-anchor="start" fill="#000" textLength="13.8" lengthAdjust="spacingAndGlyphs" >NMS</text>
<g filter="url(#b0709)">
<linearGradient id="sm335_0" x1="0" y1="0" x2="0" y2="1"><stop offset="0" stop-color="#000" stop-opacity="0.1"/><stop offset="1" stop-color="#000" stop-opacity="0.06"/></linearGradient>
<rect x="335.4" y="35.5" width="9.6" height="26.5" fill="url(#sm335_0)"/>
<rect x="335.2" y="44" width="10.0" height="2.5" rx="1" fill="#000" opacity="0.17"/>
<rect x="335.2" y="59.8" width="10.0" height="2.6" rx="1" fill="#000" opacity="0.2"/>
</g>
<rect x="335.3" y="32" width="9.8" height="3.7" rx="1.9" fill="#000" opacity="1" filter="url(#b07)"/>
<text x="333.7" y="26.7" font-size="5.7" text-anchor="start" fill="#000" textLength="13.3" lengthAdjust="spacingAndGlyphs" >gfp/+</text>
<g filter="url(#b0709)">
<linearGradient id="sm354_0" x1="0" y1="0" x2="0" y2="1"><stop offset="0" stop-color="#000" stop-opacity="0.18"/><stop offset="1" stop-color="#000" stop-opacity="0.32"/></linearGradient>
<rect x="354.4" y="34" width="9.4" height="15.0" fill="url(#sm354_0)"/>
<linearGradient id="sm354_1" x1="0" y1="0" x2="0" y2="1"><stop offset="0" stop-color="#000" stop-opacity="0.6"/><stop offset="1" stop-color="#000" stop-opacity="0.7"/></linearGradient>
<rect x="354.4" y="49" width="9.4" height="9.5" fill="url(#sm354_1)"/>
<linearGradient id="sm354_2" x1="0" y1="0" x2="0" y2="1"><stop offset="0" stop-color="#000" stop-opacity="0.3"/><stop offset="1" stop-color="#000" stop-opacity="0.08"/></linearGradient>
<rect x="354.4" y="58.5" width="9.4" height="7.5" fill="url(#sm354_2)"/>
<linearGradient id="sm354_3" x1="0" y1="0" x2="0" y2="1"><stop offset="0" stop-color="#000" stop-opacity="0.08"/><stop offset="1" stop-color="#000" stop-opacity="0.0"/></linearGradient>
<rect x="354.4" y="66" width="9.4" height="10.0" fill="url(#sm354_3)"/>
<rect x="354.2" y="42" width="9.8" height="3.5" rx="1" fill="#000" opacity="0.4"/>
<rect x="353.59999999999997" y="51" width="11.0" height="6.5" rx="1" fill="#000" opacity="0.8"/>
<rect x="354.2" y="60" width="9.8" height="2.0" rx="1" fill="#000" opacity="0.2"/>
<rect x="354.2" y="66.5" width="9.8" height="2.5" rx="1" fill="#000" opacity="0.08"/>
</g>
<rect x="354.3" y="30.4" width="9.6" height="3.9" rx="1.9" fill="#000" opacity="1" filter="url(#b07)"/>
<text x="355.9" y="26.7" font-size="5.7" text-anchor="start" fill="#000" textLength="7.4" lengthAdjust="spacingAndGlyphs" >+/+</text>
<text x="367.4" y="56.5" font-size="5.4" text-anchor="middle" fill="#000" style="font-family:'DejaVu Sans',sans-serif">★</text>
<g filter="url(#b0709)">
<linearGradient id="sm373_0" x1="0" y1="0" x2="0" y2="1"><stop offset="0" stop-color="#000" stop-opacity="0.1"/><stop offset="1" stop-color="#000" stop-opacity="0.25"/></linearGradient>
<rect x="373.59999999999997" y="33.5" width="9.0" height="15.5" fill="url(#sm373_0)"/>
<linearGradient id="sm373_1" x1="0" y1="0" x2="0" y2="1"><stop offset="0" stop-color="#000" stop-opacity="0.45"/><stop offset="1" stop-color="#000" stop-opacity="0.8"/></linearGradient>
<rect x="373.59999999999997" y="49" width="9.0" height="18.0" fill="url(#sm373_1)"/>
<rect x="373.4" y="41.5" width="9.4" height="3.0" rx="1" fill="#000" opacity="0.3"/>
<rect x="373.4" y="51.5" width="9.4" height="2.5" rx="1" fill="#000" opacity="0.15"/>
<rect x="373.4" y="57" width="9.4" height="3.0" rx="1" fill="#000" opacity="0.15"/>
<rect x="373.4" y="63" width="9.4" height="3.0" rx="1" fill="#000" opacity="0.15"/>
</g>
<rect x="373.5" y="29.6" width="9.2" height="3.9" rx="1.9" fill="#000" opacity="1" filter="url(#b07)"/>
<text x="370.2" y="26.7" font-size="5.7" text-anchor="start" fill="#000" textLength="14.8" lengthAdjust="spacingAndGlyphs" >gfp/+</text>
<text x="385" y="61.5" font-size="7.5" text-anchor="middle" fill="#000" font-weight="bold" >*</text>
<text x="385" y="67.3" font-size="7.5" text-anchor="middle" fill="#000" font-weight="bold" >*</text>
<g filter="url(#b0709)">
<linearGradient id="sm392_0" x1="0" y1="0" x2="0" y2="1"><stop offset="0" stop-color="#000" stop-opacity="0.03"/><stop offset="1" stop-color="#000" stop-opacity="0.08"/></linearGradient>
<rect x="392.4" y="35" width="7.2" height="11.0" fill="url(#sm392_0)"/>
<linearGradient id="sm392_1" x1="0" y1="0" x2="0" y2="1"><stop offset="0" stop-color="#000" stop-opacity="0.12"/><stop offset="1" stop-color="#000" stop-opacity="0.75"/></linearGradient>
<rect x="392.4" y="46" width="7.2" height="15.0" fill="url(#sm392_1)"/>
<linearGradient id="sm392_2" x1="0" y1="0" x2="0" y2="1"><stop offset="0" stop-color="#000" stop-opacity="0.85"/><stop offset="1" stop-color="#000" stop-opacity="0.92"/></linearGradient>
<rect x="392.4" y="61" width="7.2" height="6.5" fill="url(#sm392_2)"/>
<rect x="391.59999999999997" y="62" width="8.8" height="5.0" rx="1" fill="#000" opacity="0.5"/>
</g>
<rect x="392.3" y="31.2" width="7.4" height="3.6" rx="1.9" fill="#000" opacity="1" filter="url(#b07)"/>
<text x="393" y="26.7" font-size="5.7" text-anchor="start" fill="#000" textLength="8" lengthAdjust="spacingAndGlyphs" >+/+</text>
<text x="403.3" y="66.7" font-size="5.4" text-anchor="middle" fill="#000" style="font-family:'DejaVu Sans',sans-serif">★</text>
<g filter="url(#b0709)">
<linearGradient id="sm411_0" x1="0" y1="0" x2="0" y2="1"><stop offset="0" stop-color="#000" stop-opacity="0.17"/><stop offset="1" stop-color="#000" stop-opacity="0.13"/></linearGradient>
<rect x="411.4" y="34" width="9.4" height="39.0" fill="url(#sm411_0)"/>
<rect x="411.2" y="44.5" width="9.8" height="3.0" rx="1" fill="#000" opacity="0.36"/>
<rect x="411.2" y="59.3" width="9.8" height="3.4" rx="1" fill="#000" opacity="0.52"/>
<rect x="410.9" y="73" width="10.4" height="4.5" rx="1" fill="#000" opacity="0.95"/>
</g>
<rect x="411.3" y="30.4" width="9.6" height="3.9" rx="1.9" fill="#000" opacity="1" filter="url(#b07)"/>
<text x="409.2" y="26.7" font-size="5.7" text-anchor="start" fill="#000" textLength="14.1" lengthAdjust="spacingAndGlyphs" >gfp/+</text>
<text x="423.4" y="77.5" font-size="5.4" text-anchor="middle" fill="#000" style="font-family:'DejaVu Sans',sans-serif">★</text>
<g filter="url(#b0709)">
<linearGradient id="sm430_0" x1="0" y1="0" x2="0" y2="1"><stop offset="0" stop-color="#000" stop-opacity="0.13"/><stop offset="1" stop-color="#000" stop-opacity="0.24"/></linearGradient>
<rect x="430.5" y="36" width="8.0" height="36.5" fill="url(#sm430_0)"/>
<rect x="430.3" y="45.3" width="8.4" height="3.4" rx="1" fill="#000" opacity="0.42"/>
<rect x="430.3" y="54.3" width="8.4" height="3.4" rx="1" fill="#000" opacity="0.36"/>
<rect x="430.3" y="60" width="8.4" height="3.6" rx="1" fill="#000" opacity="0.52"/>
<rect x="430.3" y="66" width="8.4" height="2.0" rx="1" fill="#000" opacity="0.2"/>
<rect x="430.3" y="70.3" width="8.4" height="1.3" rx="1" fill="#000" opacity="0.4"/>
</g>
<rect x="430.40000000000003" y="33" width="8.2" height="3.2" rx="1.9" fill="#000" opacity="0.9" filter="url(#b07)"/>
<text x="427.9" y="26.7" font-size="5.7" text-anchor="start" fill="#000" textLength="14.4" lengthAdjust="spacingAndGlyphs" >gfp/+</text>
<text x="441.7" y="59.0" font-size="7.5" text-anchor="middle" fill="#000" font-weight="bold" >*</text>
<text x="441.7" y="73.5" font-size="7.5" text-anchor="middle" fill="#000" font-weight="bold" >*</text>
<g filter="url(#b0709)">
<linearGradient id="sm449_0" x1="0" y1="0" x2="0" y2="1"><stop offset="0" stop-color="#000" stop-opacity="0.15"/><stop offset="1" stop-color="#000" stop-opacity="0.13"/></linearGradient>
<rect x="449.4" y="36" width="9.0" height="35.0" fill="url(#sm449_0)"/>
<rect x="449.2" y="44.5" width="9.4" height="3.0" rx="1" fill="#000" opacity="0.36"/>
<rect x="449.2" y="60" width="9.4" height="3.4" rx="1" fill="#000" opacity="0.42"/>
<rect x="448.8" y="70.4" width="10.2" height="4.6" rx="1" fill="#000" opacity="0.95"/>
</g>
<rect x="449.3" y="32" width="9.2" height="4.7" rx="1.9" fill="#000" opacity="1" filter="url(#b07)"/>
<text x="447.9" y="26.7" font-size="5.7" text-anchor="start" fill="#000" textLength="14.3" lengthAdjust="spacingAndGlyphs" >gfp/+</text>
<text x="461" y="73.9" font-size="5.4" text-anchor="middle" fill="#000" style="font-family:'DejaVu Sans',sans-serif">★</text>
<text x="299.7" y="101" font-size="11.5" text-anchor="start" fill="#000" font-weight="bold" style="stroke-width:0.45px">C</text>
<line x1="346.3" y1="103.7" x2="346.3" y2="188.9" stroke="#000" stroke-width="1.4"/>
<text x="339.9" y="106.9" font-size="6.4" text-anchor="end" fill="#000" >5000</text>
<text x="339.9" y="123.74" font-size="6.4" text-anchor="end" fill="#000" >4000</text>
<text x="339.9" y="140.58" font-size="6.4" text-anchor="end" fill="#000" >3000</text>
<text x="339.9" y="157.42" font-size="6.4" text-anchor="end" fill="#000" >2000</text>
<text x="339.9" y="174.26" font-size="6.4" text-anchor="end" fill="#000" >1000</text>
<text x="339.9" y="191.1" font-size="6.4" text-anchor="end" fill="#000" >0</text>
<path d="M342.30 104.20H346.3M344.60 105.88H346.3M344.60 107.57H346.3M344.60 109.25H346.3M344.60 110.94H346.3M343.40 112.62H346.3M344.60 114.30H346.3M344.60 115.99H346.3M344.60 117.67H346.3M344.60 119.36H346.3M342.30 121.04H346.3M344.60 122.72H346.3M344.60 124.41H346.3M344.60 126.09H346.3M344.60 127.78H346.3M343.40 129.46H346.3M344.60 131.14H346.3M344.60 132.83H346.3M344.60 134.51H346.3M344.60 136.20H346.3M342.30 137.88H346.3M344.60 139.56H346.3M344.60 141.25H346.3M344.60 142.93H346.3M344.60 144.62H346.3M343.40 146.30H346.3M344.60 147.98H346.3M344.60 149.67H346.3M344.60 151.35H346.3M344.60 153.04H346.3M342.30 154.72H346.3M344.60 156.40H346.3M344.60 158.09H346.3M344.60 159.77H346.3M344.60 161.46H346.3M343.40 163.14H346.3M344.60 164.82H346.3M344.60 166.51H346.3M344.60 168.19H346.3M344.60 169.88H346.3M342.30 171.56H346.3M344.60 173.24H346.3M344.60 174.93H346.3M344.60 176.61H346.3M344.60 178.30H346.3M343.40 179.98H346.3M344.60 181.66H346.3M344.60 183.35H346.3M344.60 185.03H346.3M344.60 186.72H346.3M342.30 188.40H346.3" stroke="#000" stroke-width="0.8" fill="none"/>
<path d="M346.3 104.2H444.3V188.4H346.3" stroke="#000" stroke-width="1.1" fill="none"/>
<text x="322" y="151.5" font-size="8.1" text-anchor="start" fill="#000" textLength="17.2" lengthAdjust="spacingAndGlyphs" transform="rotate(-90 322 151.5)" >Cpm</text>
<path d="M359.40 178.2V174.3M356.80 174.3H362.00" stroke="#000" stroke-width="0.9" fill="none"/>
<rect x="353" y="178.2" width="12.80" height="10.20" fill="#000"/>
<path d="M383.60 178.2V177.4M381.00 177.4H386.20" stroke="#000" stroke-width="0.9" fill="none"/>
<rect x="377.2" y="178.2" width="12.80" height="10.20" fill="#000"/>
<path d="M408.50 117V113.2M405.90 113.2H411.10" stroke="#000" stroke-width="0.9" fill="none"/>
<rect x="402" y="117" width="13.00" height="71.40" fill="#000"/>
<path d="M432.30 173.8V169.7M429.70 169.7H434.90" stroke="#000" stroke-width="0.9" fill="none"/>
<rect x="425.8" y="173.8" width="13.00" height="14.60" fill="#000"/>
<text x="350.7" y="196.3" font-size="6.6" text-anchor="start" fill="#000" textLength="16.6" lengthAdjust="spacingAndGlyphs" >Blank</text>
<text x="374.2" y="196.3" font-size="6.6" text-anchor="start" fill="#000" textLength="19.6" lengthAdjust="spacingAndGlyphs" >B220+</text>
<text x="383.1" y="203" font-size="6.6" text-anchor="middle" fill="#000" >GFP-</text>
<text x="399" y="196.3" font-size="6.6" text-anchor="start" fill="#000" textLength="18" lengthAdjust="spacingAndGlyphs" >B220-</text>
<text x="407.1" y="203" font-size="6.6" text-anchor="middle" fill="#000" >GFP+</text>
<text x="423.9" y="196.3" font-size="6.6" text-anchor="start" fill="#000" textLength="18.4" lengthAdjust="spacingAndGlyphs" >B220-</text>
<text x="432.2" y="203" font-size="6.6" text-anchor="middle" fill="#000" >GFP-</text>
<text x="-0.9" y="234.9" font-size="11.8" text-anchor="start" fill="#000" font-weight="bold" style="stroke-width:0.45px">D</text>
<text x="60.9" y="253.5" font-size="7.35" text-anchor="start" fill="#000" textLength="29" lengthAdjust="spacingAndGlyphs" >Tumours</text>
<text x="14.3" y="265.8" font-size="5.6" text-anchor="start" fill="#000" textLength="11.8" lengthAdjust="spacingAndGlyphs" transform="rotate(-90 14.3 265.8)" >Liver</text>
<text x="25.8" y="263.2" font-size="7.6" text-anchor="start" fill="#000" font-style="italic" textLength="36" lengthAdjust="spacingAndGlyphs" >blimp1 +/+</text>
<text x="91.2" y="263.2" font-size="7.6" text-anchor="start" fill="#000" font-style="italic" textLength="41.2" lengthAdjust="spacingAndGlyphs" >blimp1 gfp/+</text>
<path d="M18 265.2H66.4M80.2 265.2H136.2" stroke="#777" stroke-width="0.8" fill="none"/>
<text x="2.9" y="325.8" font-size="7.5" text-anchor="middle" fill="#000" font-weight="bold" >*</text>
<linearGradient id="gelA" x1="0" y1="0" x2="0" y2="1"><stop offset="0" stop-color="#b6b6b6"/><stop offset="0.5" stop-color="#bcbcbc"/><stop offset="1" stop-color="#c8c8c8"/></linearGradient>
<linearGradient id="gelB" x1="0" y1="0" x2="0" y2="1"><stop offset="0" stop-color="#b8b8b8"/><stop offset="0.1" stop-color="#acacac"/><stop offset="0.45" stop-color="#b0b0b0"/><stop offset="0.6" stop-color="#bebebe"/><stop offset="1" stop-color="#c8c8c8"/></linearGradient>
<linearGradient id="gelC" x1="0" y1="0" x2="0" y2="1"><stop offset="0" stop-color="#b6b6b6"/><stop offset="0.45" stop-color="#b8b8b8"/><stop offset="0.6" stop-color="#c0c0c0"/><stop offset="1" stop-color="#cacaca"/></linearGradient>
<linearGradient id="gelD" x1="0" y1="0" x2="0" y2="1"><stop offset="0" stop-color="#bababa"/><stop offset="0.5" stop-color="#c0c0c0"/><stop offset="1" stop-color="#cccccc"/></linearGradient>
<linearGradient id="streak" x1="0" y1="0" x2="0" y2="1"><stop offset="0" stop-color="#000" stop-opacity="0.0"/><stop offset="0.12" stop-color="#000" stop-opacity="1"/><stop offset="0.45" stop-color="#000" stop-opacity="0.8"/><stop offset="0.75" stop-color="#000" stop-opacity="0.15"/><stop offset="1" stop-color="#000" stop-opacity="0.05"/></linearGradient>
<rect x="8.2" y="268" width="26.60" height="111.30" fill="url(#gelA)"/>
<rect x="35.8" y="268" width="32.90" height="111.30" fill="url(#gelB)"/>
<rect x="77.8" y="268" width="26.20" height="111.30" fill="url(#gelC)"/>
<rect x="105" y="268" width="33.70" height="111.30" fill="url(#gelD)"/>
<clipPath id="gclip"><rect x="8.2" y="268" width="26.6" height="111.3"/><rect x="35.8" y="268" width="32.9" height="111.3"/><rect x="77.8" y="268" width="26.2" height="111.3"/><rect x="105" y="268" width="33.7" height="111.3"/></clipPath>
<g clip-path="url(#gclip)">
<linearGradient id="stU" x1="0" y1="0" x2="0" y2="1"><stop offset="0" stop-color="#000" stop-opacity="0.15"/><stop offset="0.16" stop-color="#000" stop-opacity="0.9"/><stop offset="0.5" stop-color="#000" stop-opacity="1"/><stop offset="1" stop-color="#000" stop-opacity="0.7"/></linearGradient>
<linearGradient id="stL" x1="0" y1="0" x2="0" y2="1"><stop offset="0" stop-color="#000" stop-opacity="1"/><stop offset="0.3" stop-color="#000" stop-opacity="0.5"/><stop offset="1" stop-color="#000" stop-opacity="0.2"/></linearGradient>
<g filter="url(#b2)">
<rect x="12.0" y="268" width="4.4" height="56.0" fill="url(#stU)" opacity="0.08"/>
<rect x="12.0" y="324" width="4.4" height="55.3" fill="url(#stL)" opacity="0.04"/>
<rect x="20.1" y="268" width="4.6" height="56.0" fill="url(#stU)" opacity="0.2"/>
<rect x="20.1" y="324" width="4.6" height="55.3" fill="url(#stL)" opacity="0.07"/>
<rect x="28.6" y="268" width="4.6" height="56.0" fill="url(#stU)" opacity="0.2"/>
<rect x="28.6" y="324" width="4.6" height="55.3" fill="url(#stL)" opacity="0.07"/>
<rect x="36.9" y="268" width="5" height="56.0" fill="url(#stU)" opacity="0.33"/>
<rect x="36.9" y="324" width="5" height="55.3" fill="url(#stL)" opacity="0.08"/>
<rect x="44.8" y="268" width="5.2" height="56.0" fill="url(#stU)" opacity="0.38"/>
<rect x="44.8" y="324" width="5.2" height="55.3" fill="url(#stL)" opacity="0.1"/>
<rect x="53.0" y="268" width="5" height="56.0" fill="url(#stU)" opacity="0.3"/>
<rect x="53.0" y="324" width="5" height="55.3" fill="url(#stL)" opacity="0.07"/>
<rect x="61.5" y="268" width="5" height="56.0" fill="url(#stU)" opacity="0.3"/>
<rect x="61.5" y="324" width="5" height="55.3" fill="url(#stL)" opacity="0.07"/>
<rect x="81.0" y="268" width="5.2" height="56.0" fill="url(#stU)" opacity="0.68"/>
<rect x="81.0" y="324" width="5.2" height="55.3" fill="url(#stL)" opacity="0.13"/>
<rect x="89.3" y="268" width="5" height="56.0" fill="url(#stU)" opacity="0.34"/>
<rect x="89.3" y="324" width="5" height="55.3" fill="url(#stL)" opacity="0.1"/>
<rect x="97.8" y="268" width="5" height="56.0" fill="url(#stU)" opacity="0.36"/>
<rect x="97.8" y="324" width="5" height="55.3" fill="url(#stL)" opacity="0.1"/>
<rect x="106.9" y="268" width="5" height="56.0" fill="url(#stU)" opacity="0.16"/>
<rect x="106.9" y="324" width="5" height="55.3" fill="url(#stL)" opacity="0.06"/>
<rect x="114.9" y="268" width="5" height="56.0" fill="url(#stU)" opacity="0.16"/>
<rect x="114.9" y="324" width="5" height="55.3" fill="url(#stL)" opacity="0.06"/>
<rect x="123.0" y="268" width="5" height="56.0" fill="url(#stU)" opacity="0.13"/>
<rect x="123.0" y="324" width="5" height="55.3" fill="url(#stL)" opacity="0.06"/>
<rect x="131.5" y="268" width="5" height="56.0" fill="url(#stU)" opacity="0.18"/>
<rect x="131.5" y="324" width="5" height="55.3" fill="url(#stL)" opacity="0.07"/>
</g>
<g filter="url(#b09)">
<ellipse cx="14.2" cy="322.7" rx="3.3" ry="2.3" fill="#000" opacity="0.72"/>
<ellipse cx="22.4" cy="322.2" rx="3.3" ry="2.3" fill="#000" opacity="0.72"/>
<ellipse cx="30.9" cy="321.4" rx="3.0" ry="1.9" fill="#000" opacity="0.42"/>
<ellipse cx="30.9" cy="339.2" rx="2.7" ry="2.0" fill="#000" opacity="0.5"/>
<ellipse cx="39.4" cy="322" rx="3.4" ry="2.4" fill="#000" opacity="0.72"/>
<ellipse cx="47.4" cy="322" rx="3.3" ry="2.3" fill="#000" opacity="0.65"/>
<ellipse cx="47.4" cy="343.2" rx="2.6" ry="1.9" fill="#000" opacity="0.52"/>
<ellipse cx="55.5" cy="323.8" rx="3.1" ry="2.9" fill="#000" opacity="0.48"/>
<ellipse cx="64" cy="319" rx="2.9" ry="3.0" fill="#000" opacity="0.3"/>
<ellipse cx="83.6" cy="323.7" rx="3.2" ry="2.4" fill="#000" opacity="0.7"/>
<ellipse cx="83.6" cy="315.2" rx="2.9" ry="2.5" fill="#000" opacity="0.5"/>
<ellipse cx="91.8" cy="323.7" rx="3.1" ry="2.1" fill="#000" opacity="0.5"/>
<ellipse cx="91.8" cy="331.8" rx="2.7" ry="2.1" fill="#000" opacity="0.33"/>
<ellipse cx="100.3" cy="323.7" rx="3.4" ry="2.4" fill="#000" opacity="0.75"/>
<ellipse cx="109.4" cy="323.1" rx="3.2" ry="2.2" fill="#000" opacity="0.5"/>
<ellipse cx="117.4" cy="324.3" rx="3.1" ry="2.1" fill="#000" opacity="0.45"/>
<ellipse cx="125.5" cy="327" rx="3.6" ry="2.8" fill="#000" opacity="0.75"/>
<ellipse cx="134" cy="325.6" rx="3.0" ry="2.2" fill="#000" opacity="0.45"/>
<ellipse cx="134" cy="335.6" rx="2.6" ry="2.1" fill="#000" opacity="0.28"/>
</g>
<rect x="8" y="268" width="131" height="112" filter="url(#noise)" opacity="0.3"/>
</g>
<text x="152.5" y="234" font-size="11.2" text-anchor="start" fill="#000" font-weight="bold" style="stroke-width:0.45px">E</text>
<path d="M180.0 238.6V323.4H306.5" stroke="#000" stroke-width="1.3" fill="none"/>
<text x="176.0" y="241.3" font-size="5.8" text-anchor="end" fill="#000" >100</text>
<text x="176.0" y="258.14" font-size="5.8" text-anchor="end" fill="#000" >80</text>
<text x="176.0" y="274.98" font-size="5.8" text-anchor="end" fill="#000" >60</text>
<text x="176.0" y="291.82" font-size="5.8" text-anchor="end" fill="#000" >40</text>
<text x="176.0" y="308.66" font-size="5.8" text-anchor="end" fill="#000" >20</text>
<text x="176.0" y="325.5" font-size="5.8" text-anchor="end" fill="#000" >0</text>
<text x="180.0" y="332.6" font-size="5.8" text-anchor="middle" fill="#000" >0</text>
<text x="214.8" y="332.6" font-size="5.8" text-anchor="middle" fill="#000" >100</text>
<text x="249.6" y="332.6" font-size="5.8" text-anchor="middle" fill="#000" >200</text>
<text x="284.4" y="332.6" font-size="5.8" text-anchor="middle" fill="#000" >300</text>
<path d="M176.80 239.20H180.0M176.80 256.04H180.0M176.80 272.88H180.0M176.80 289.72H180.0M176.80 306.56H180.0M176.80 323.40H180.0M180.00 323.4V326.0M214.80 323.4V326.0M249.60 323.4V326.0M284.40 323.4V326.0" stroke="#000" stroke-width="1.15" fill="none"/>
<text x="186.1" y="247.8" font-size="11.0" text-anchor="start" fill="#000" textLength="24" lengthAdjust="spacingAndGlyphs" >Male</text>
<text x="190" y="280.1" font-size="6.2" text-anchor="start" fill="#000" font-style="italic" textLength="26.2" lengthAdjust="spacingAndGlyphs" >P = .0028</text>
<path d="M213 323.4H213.5V317.4H216.6V314.7H218.75V309.6H221.9V304.75H224V299.5H225.5V296.3H234.6V293.5H237.8V291.4H239.9V287.8H242V285.7H244.1V282.5H246.25V281.5H253.7V277.7H255.1V275.1H262.5V270.9H264.2V267.7H275.2V263.5H278.4V260.75H282.6V256.7H306.5V256.7" stroke="#000" stroke-width="1.05" fill="none"/>
<path d="M213 323.4H214.5V321.7H218.75V320.2H221.9V318.5H225.1V317H228.3V314.9H230.4V312.6H232.5V310.5H235.7V310.5H240.5V310.5H242.7V307.9H245.2V306.2H247.3V304.75H253.2V301.2H255.3V298.4H256.4V294.2H258.5V292H261V290.6H268.5V287.8H271.6V286.3H275.2V286.1H302.3V283.6H306.1V281.5" stroke="#000" stroke-width="1.05" fill="none"/>
<circle cx="213.5" cy="317.4" r="2.3" fill="#000"/>
<circle cx="216.6" cy="314.7" r="2.3" fill="#000"/>
<circle cx="218.75" cy="309.6" r="2.3" fill="#000"/>
<circle cx="221.9" cy="304.75" r="2.3" fill="#000"/>
<circle cx="224" cy="299.5" r="2.3" fill="#000"/>
<circle cx="225.5" cy="296.3" r="2.3" fill="#000"/>
<circle cx="234.6" cy="293.5" r="2.3" fill="#000"/>
<circle cx="237.8" cy="291.4" r="2.3" fill="#000"/>
<circle cx="239.9" cy="287.8" r="2.3" fill="#000"/>
<circle cx="242" cy="285.7" r="2.3" fill="#000"/>
<circle cx="244.1" cy="282.5" r="2.3" fill="#000"/>
<circle cx="246.25" cy="281.5" r="2.3" fill="#000"/>
<circle cx="253.7" cy="277.7" r="2.3" fill="#000"/>
<circle cx="255.1" cy="275.1" r="2.3" fill="#000"/>
<circle cx="262.5" cy="270.9" r="2.3" fill="#000"/>
<circle cx="264.2" cy="267.7" r="2.3" fill="#000"/>
<circle cx="275.2" cy="263.5" r="2.3" fill="#000"/>
<circle cx="278.4" cy="260.75" r="2.3" fill="#000"/>
<circle cx="282.6" cy="256.7" r="2.3" fill="#000"/>
<circle cx="306.5" cy="256.7" r="2.3" fill="#000"/>
<circle cx="214.5" cy="321.7" r="2.05" fill="#fff" stroke="#000" stroke-width="1.2"/>
<circle cx="218.75" cy="320.2" r="2.05" fill="#fff" stroke="#000" stroke-width="1.2"/>
<circle cx="221.9" cy="318.5" r="2.05" fill="#fff" stroke="#000" stroke-width="1.2"/>
<circle cx="225.1" cy="317" r="2.05" fill="#fff" stroke="#000" stroke-width="1.2"/>
<circle cx="228.3" cy="314.9" r="2.05" fill="#fff" stroke="#000" stroke-width="1.2"/>
<circle cx="230.4" cy="312.6" r="2.05" fill="#fff" stroke="#000" stroke-width="1.2"/>
<circle cx="232.5" cy="310.5" r="2.05" fill="#fff" stroke="#000" stroke-width="1.2"/>
<circle cx="235.7" cy="310.5" r="2.05" fill="#fff" stroke="#000" stroke-width="1.2"/>
<circle cx="240.5" cy="310.5" r="2.05" fill="#fff" stroke="#000" stroke-width="1.2"/>
<circle cx="242.7" cy="307.9" r="2.05" fill="#fff" stroke="#000" stroke-width="1.2"/>
<circle cx="245.2" cy="306.2" r="2.05" fill="#fff" stroke="#000" stroke-width="1.2"/>
<circle cx="247.3" cy="304.75" r="2.05" fill="#fff" stroke="#000" stroke-width="1.2"/>
<circle cx="253.2" cy="301.2" r="2.05" fill="#fff" stroke="#000" stroke-width="1.2"/>
<circle cx="255.3" cy="298.4" r="2.05" fill="#fff" stroke="#000" stroke-width="1.2"/>
<circle cx="256.4" cy="294.2" r="2.05" fill="#fff" stroke="#000" stroke-width="1.2"/>
<circle cx="258.5" cy="292" r="2.05" fill="#fff" stroke="#000" stroke-width="1.2"/>
<circle cx="261" cy="290.6" r="2.05" fill="#fff" stroke="#000" stroke-width="1.2"/>
<circle cx="268.5" cy="287.8" r="2.05" fill="#fff" stroke="#000" stroke-width="1.2"/>
<circle cx="271.6" cy="286.3" r="2.05" fill="#fff" stroke="#000" stroke-width="1.2"/>
<circle cx="275.2" cy="286.1" r="2.05" fill="#fff" stroke="#000" stroke-width="1.2"/>
<circle cx="302.3" cy="283.6" r="2.05" fill="#fff" stroke="#000" stroke-width="1.2"/>
<circle cx="306.1" cy="281.5" r="2.05" fill="#fff" stroke="#000" stroke-width="1.2"/>
<text x="295.5" y="251.9" font-size="5.6" text-anchor="start" fill="#000" textLength="12.5" lengthAdjust="spacingAndGlyphs" >n=31</text>
<text x="295.5" y="293.6" font-size="5.6" text-anchor="start" fill="#000" textLength="12.5" lengthAdjust="spacingAndGlyphs" >n=53</text>
<path d="M180.0 342.2V427H306.5" stroke="#000" stroke-width="1.3" fill="none"/>
<text x="176.0" y="344.9" font-size="5.8" text-anchor="end" fill="#000" >100</text>
<text x="176.0" y="361.74" font-size="5.8" text-anchor="end" fill="#000" >80</text>
<text x="176.0" y="378.58" font-size="5.8" text-anchor="end" fill="#000" >60</text>
<text x="176.0" y="395.42" font-size="5.8" text-anchor="end" fill="#000" >40</text>
<text x="176.0" y="412.26" font-size="5.8" text-anchor="end" fill="#000" >20</text>
<text x="176.0" y="429.1" font-size="5.8" text-anchor="end" fill="#000" >0</text>
<text x="180.0" y="436.6" font-size="5.8" text-anchor="middle" fill="#000" >0</text>
<text x="214.8" y="436.6" font-size="5.8" text-anchor="middle" fill="#000" >100</text>
<text x="249.6" y="436.6" font-size="5.8" text-anchor="middle" fill="#000" >200</text>
<text x="284.4" y="436.6" font-size="5.8" text-anchor="middle" fill="#000" >300</text>
<path d="M176.80 342.80H180.0M176.80 359.64H180.0M176.80 376.48H180.0M176.80 393.32H180.0M176.80 410.16H180.0M176.80 427.00H180.0M180.00 427V429.6M214.80 427V429.6M249.60 427V429.6M284.40 427V429.6" stroke="#000" stroke-width="1.15" fill="none"/>
<text x="186.1" y="352.3" font-size="11.0" text-anchor="start" fill="#000" textLength="38" lengthAdjust="spacingAndGlyphs" >Female</text>
<text x="190" y="381.3" font-size="6.2" text-anchor="start" fill="#000" font-style="italic" textLength="26.3" lengthAdjust="spacingAndGlyphs" >P = .4777</text>
<path d="M227 427H228.3V424.8H231.4V421.25H234.6V419.1H236.7V416.4H238.8V413.8H241V412.8H246.9V412.8H256.4V412.8H283.3V405.4H295.5V399.7H306.5V399.7" stroke="#000" stroke-width="1.05" fill="none"/>
<path d="M217 427H218.75V425H221.9V423.4H224.5V420.8H236.7V421.25H241V419.8H242.7V419.1H246.9V419.1H252.6V417.7H255.8V417H261V416.4H263.8V413.8H267.4V411.7H275.9V412.2H280.1V411.7H281.6V408.6H283.7V406.6H306.5V406.6" stroke="#444" stroke-width="1.05" fill="none"/>
<circle cx="228.3" cy="424.8" r="2.3" fill="#000"/>
<circle cx="231.4" cy="421.25" r="2.3" fill="#000"/>
<circle cx="234.6" cy="419.1" r="2.3" fill="#000"/>
<circle cx="236.7" cy="416.4" r="2.3" fill="#000"/>
<circle cx="238.8" cy="413.8" r="2.3" fill="#000"/>
<circle cx="241" cy="412.8" r="2.3" fill="#000"/>
<circle cx="246.9" cy="412.8" r="2.3" fill="#000"/>
<circle cx="256.4" cy="412.8" r="2.3" fill="#000"/>
<circle cx="295.5" cy="399.7" r="2.3" fill="#000"/>
<circle cx="306.5" cy="399.7" r="2.3" fill="#000"/>
<circle cx="218.75" cy="425" r="2.05" fill="#fff" stroke="#000" stroke-width="1.2"/>
<circle cx="221.9" cy="423.4" r="2.05" fill="#fff" stroke="#000" stroke-width="1.2"/>
<circle cx="224.5" cy="420.8" r="2.05" fill="#fff" stroke="#000" stroke-width="1.2"/>
<circle cx="236.7" cy="421.25" r="2.05" fill="#fff" stroke="#000" stroke-width="1.2"/>
<circle cx="241" cy="419.8" r="2.05" fill="#fff" stroke="#000" stroke-width="1.2"/>
<circle cx="242.7" cy="419.1" r="2.05" fill="#fff" stroke="#000" stroke-width="1.2"/>
<circle cx="246.9" cy="419.1" r="2.05" fill="#fff" stroke="#000" stroke-width="1.2"/>
<circle cx="252.6" cy="417.7" r="2.05" fill="#fff" stroke="#000" stroke-width="1.2"/>
<circle cx="255.8" cy="417" r="2.05" fill="#fff" stroke="#000" stroke-width="1.2"/>
<circle cx="261" cy="416.4" r="2.05" fill="#fff" stroke="#000" stroke-width="1.2"/>
<circle cx="263.8" cy="413.8" r="2.05" fill="#fff" stroke="#000" stroke-width="1.2"/>
<circle cx="267.4" cy="411.7" r="2.05" fill="#fff" stroke="#000" stroke-width="1.2"/>
<circle cx="275.9" cy="412.2" r="2.05" fill="#fff" stroke="#000" stroke-width="1.2"/>
<circle cx="280.1" cy="411.7" r="2.05" fill="#fff" stroke="#000" stroke-width="1.2"/>
<circle cx="281.6" cy="408.6" r="2.05" fill="#fff" stroke="#000" stroke-width="1.2"/>
<circle cx="283.7" cy="406.6" r="2.05" fill="#fff" stroke="#000" stroke-width="1.2"/>
<circle cx="306.5" cy="406.6" r="2.05" fill="#fff" stroke="#000" stroke-width="1.2"/>
<text x="294.9" y="394.4" font-size="5.6" text-anchor="start" fill="#000" textLength="13" lengthAdjust="spacingAndGlyphs" >n=43</text>
<text x="294.9" y="414.6" font-size="5.6" text-anchor="start" fill="#000" textLength="13" lengthAdjust="spacingAndGlyphs" >n=43</text>
<text x="230" y="445.2" font-size="6.9" text-anchor="start" fill="#000" textLength="36.3" lengthAdjust="spacingAndGlyphs" >Time (days)</text>
<text x="159.6" y="389.8" font-size="9.3" text-anchor="start" fill="#000" textLength="118.8" lengthAdjust="spacingAndGlyphs" transform="rotate(-90 159.6 389.8)" >Percent with plasmacytomas</text>
<text x="321.9" y="234" font-size="11.5" text-anchor="start" fill="#000" font-weight="bold" style="stroke-width:0.45px">F</text>
<line x1="347.4" y1="249.1" x2="347.4" y2="374.5" stroke="#000" stroke-width="1.2"/>
<text x="343.2" y="251.8" font-size="6.0" text-anchor="end" fill="#000" >70</text>
<text x="343.2" y="269.57" font-size="6.0" text-anchor="end" fill="#000" >60</text>
<text x="343.2" y="287.34" font-size="6.0" text-anchor="end" fill="#000" >50</text>
<text x="343.2" y="305.11" font-size="6.0" text-anchor="end" fill="#000" >40</text>
<text x="343.2" y="322.89" font-size="6.0" text-anchor="end" fill="#000" >30</text>
<text x="343.2" y="340.66" font-size="6.0" text-anchor="end" fill="#000" >20</text>
<text x="343.2" y="358.43" font-size="6.0" text-anchor="end" fill="#000" >10</text>
<text x="343.2" y="376.2" font-size="6.0" text-anchor="end" fill="#000" >0</text>
<path d="M344.20 249.60H347.4M345.70 253.15H347.4M345.70 256.71H347.4M345.70 260.26H347.4M345.70 263.82H347.4M344.20 267.37H347.4M345.70 270.93H347.4M345.70 274.48H347.4M345.70 278.03H347.4M345.70 281.59H347.4M344.20 285.14H347.4M345.70 288.70H347.4M345.70 292.25H347.4M345.70 295.81H347.4M345.70 299.36H347.4M344.20 302.91H347.4M345.70 306.47H347.4M345.70 310.02H347.4M345.70 313.58H347.4M345.70 317.13H347.4M344.20 320.69H347.4M345.70 324.24H347.4M345.70 327.79H347.4M345.70 331.35H347.4M345.70 334.90H347.4M344.20 338.46H347.4M345.70 342.01H347.4M345.70 345.57H347.4M345.70 349.12H347.4M345.70 352.67H347.4M344.20 356.23H347.4M345.70 359.78H347.4M345.70 363.34H347.4M345.70 366.89H347.4M345.70 370.45H347.4M344.20 374.00H347.4" stroke="#000" stroke-width="0.8" fill="none"/>
<path d="M347.4 249.6H423V374H347.4M385.8 249.6V374" stroke="#000" stroke-width="1" fill="none"/>
<text x="352.7" y="258.8" font-size="7.6" text-anchor="start" fill="#000" textLength="11.6" lengthAdjust="spacingAndGlyphs" >BM</text>
<text x="391.5" y="258.8" font-size="7.6" text-anchor="start" fill="#000" textLength="24.5" lengthAdjust="spacingAndGlyphs" >Spleen</text>
<path d="M360.70 299.8V270.4M357.50 270.4H363.90" stroke="#000" stroke-width="0.9" fill="none"/>
<rect x="356" y="299.8" width="9.40" height="74.20" fill="#000"/>
<path d="M374.25 289.6V256.6M371.05 256.6H377.45" stroke="#000" stroke-width="0.9" fill="none"/>
<rect x="369.9" y="289.6" width="8.70" height="84.00" fill="#b4b4b4" stroke="#000" stroke-width="0.8"/>
<path d="M398.20 333.8V319M395.00 319H401.40" stroke="#000" stroke-width="0.9" fill="none"/>
<rect x="393.4" y="333.8" width="9.60" height="40.20" fill="#000"/>
<path d="M411.90 334.6V329M408.70 329H415.10" stroke="#000" stroke-width="0.9" fill="none"/>
<rect x="407.2" y="334.6" width="9.40" height="39.00" fill="#b4b4b4" stroke="#000" stroke-width="0.8"/>
<text x="331.5" y="343.6" font-size="8.2" fill="#111" transform="rotate(-90 331.5 343.6)" textLength="61.6" lengthAdjust="spacingAndGlyphs">Total ASC (x10<tspan font-size="5.2" dy="-3">-3</tspan><tspan dy="3">)</tspan></text>
<text x="434.9" y="234.2" font-size="11.5" text-anchor="start" fill="#000" font-weight="bold" style="stroke-width:0.45px">G</text>
<line x1="464.4" y1="247.1" x2="464.4" y2="391.9" stroke="#000" stroke-width="1.2"/>
<text x="460.0" y="249.9" font-size="6.4" text-anchor="end" fill="#000" >3500</text>
<text x="460.0" y="270.44" font-size="6.4" text-anchor="end" fill="#000" >3000</text>
<text x="460.0" y="290.99" font-size="6.4" text-anchor="end" fill="#000" >2500</text>
<text x="460.0" y="311.53" font-size="6.4" text-anchor="end" fill="#000" >2000</text>
<text x="460.0" y="332.07" font-size="6.4" text-anchor="end" fill="#000" >1500</text>
<text x="460.0" y="352.61" font-size="6.4" text-anchor="end" fill="#000" >1000</text>
<text x="460.0" y="373.16" font-size="6.4" text-anchor="end" fill="#000" >500</text>
<text x="460.0" y="393.7" font-size="6.4" text-anchor="end" fill="#000" >0</text>
<path d="M461.00 247.60H464.4M462.60 251.71H464.4M462.60 255.82H464.4M462.60 259.93H464.4M462.60 264.03H464.4M461.00 268.14H464.4M462.60 272.25H464.4M462.60 276.36H464.4M462.60 280.47H464.4M462.60 284.58H464.4M461.00 288.69H464.4M462.60 292.79H464.4M462.60 296.90H464.4M462.60 301.01H464.4M462.60 305.12H464.4M461.00 309.23H464.4M462.60 313.34H464.4M462.60 317.45H464.4M462.60 321.55H464.4M462.60 325.66H464.4M461.00 329.77H464.4M462.60 333.88H464.4M462.60 337.99H464.4M462.60 342.10H464.4M462.60 346.21H464.4M461.00 350.31H464.4M462.60 354.42H464.4M462.60 358.53H464.4M462.60 362.64H464.4M462.60 366.75H464.4M461.00 370.86H464.4M462.60 374.97H464.4M462.60 379.07H464.4M462.60 383.18H464.4M462.60 387.29H464.4M461.00 391.40H464.4" stroke="#000" stroke-width="0.8" fill="none"/>
<path d="M464.4 247.6H521M464.4 391.4H521" stroke="#000" stroke-width="1.1" fill="none"/>
<path d="M482.10 301V285.5M478.70 285.5H485.50" stroke="#000" stroke-width="0.9" fill="none"/>
<rect x="475.4" y="301" width="13.40" height="90.40" fill="#000"/>
<path d="M502.40 293.6V265.3M499.00 265.3H505.80" stroke="#000" stroke-width="0.9" fill="none"/>
<rect x="496.2" y="293.6" width="12.40" height="97.40" fill="#b4b4b4" stroke="#000" stroke-width="0.8"/>
<text x="441.6" y="355.3" font-size="8.4" text-anchor="start" fill="#000" textLength="72.8" lengthAdjust="spacingAndGlyphs" transform="rotate(-90 441.6 355.3)" >Serum Igκ (μg/mL)</text>
</svg></body></html>
